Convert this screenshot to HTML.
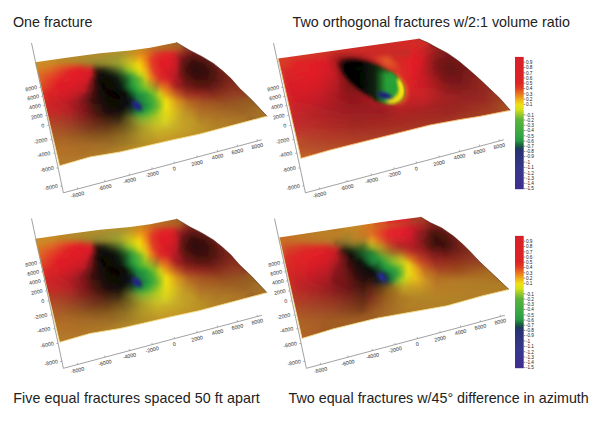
<!DOCTYPE html><html><head><meta charset="utf-8"><style>
html,body{margin:0;padding:0;background:#fff;width:600px;height:427px;overflow:hidden;position:relative}
.t{position:absolute;font-family:"Liberation Sans",sans-serif;font-size:14.3px;color:#222;white-space:nowrap;line-height:1}
</style></head><body>
<div class="t" style="left:13px;top:15px">One fracture</div>
<div class="t" style="left:292.5px;top:15px">Two orthogonal fractures w/2:1 volume ratio</div>
<div class="t" style="left:13.2px;top:391px;letter-spacing:0.07px">Five equal fractures spaced 50 ft apart</div>
<div class="t" style="left:288.5px;top:391px">Two equal fractures w/45° difference in azimuth</div>
<svg width="600" height="427" viewBox="0 0 600 427" style="position:absolute;left:0;top:0"><defs><filter id="bl" x="-5%" y="-5%" width="110%" height="110%"><feGaussianBlur stdDeviation="0 0.8"/></filter></defs><g id="s1"><defs><linearGradient id="g1" gradientUnits="userSpaceOnUse" x1="33" x2="269" y1="0" y2="0"><stop offset="0.002" stop-color="#c89126"/><stop offset="0.095" stop-color="#c38c28"/><stop offset="0.121" stop-color="#b97d28"/><stop offset="0.150" stop-color="#af8728"/><stop offset="0.218" stop-color="#aa842a"/><stop offset="0.244" stop-color="#a08c32"/><stop offset="0.320" stop-color="#a58c30"/><stop offset="0.341" stop-color="#a09632"/><stop offset="0.367" stop-color="#a09632"/><stop offset="0.383" stop-color="#b4962a"/><stop offset="0.396" stop-color="#b99628"/><stop offset="0.417" stop-color="#c28d23"/><stop offset="0.460" stop-color="#c38c23"/><stop offset="0.477" stop-color="#bf7f23"/><stop offset="0.498" stop-color="#bd7b23"/><stop offset="0.515" stop-color="#b96e23"/><stop offset="0.621" stop-color="#a86223"/><stop offset="0.629" stop-color="#a45b23"/><stop offset="0.642" stop-color="#984023"/><stop offset="0.672" stop-color="#953b23"/><stop offset="0.689" stop-color="#7d231c"/><stop offset="0.697" stop-color="#781e1b"/><stop offset="0.731" stop-color="#771e1b"/><stop offset="0.752" stop-color="#6e1c1b"/><stop offset="0.867" stop-color="#6e1c19"/><stop offset="0.900" stop-color="#78201b"/><stop offset="0.998" stop-color="#7a211b"/></linearGradient><linearGradient id="g2" gradientUnits="userSpaceOnUse" x1="33" x2="269" y1="0" y2="0"><stop offset="0.002" stop-color="#c89126"/><stop offset="0.095" stop-color="#c38c28"/><stop offset="0.121" stop-color="#b97d28"/><stop offset="0.150" stop-color="#af8728"/><stop offset="0.218" stop-color="#aa842a"/><stop offset="0.248" stop-color="#a08c32"/><stop offset="0.320" stop-color="#a58c30"/><stop offset="0.341" stop-color="#a09632"/><stop offset="0.367" stop-color="#a09632"/><stop offset="0.375" stop-color="#a49630"/><stop offset="0.388" stop-color="#b79629"/><stop offset="0.400" stop-color="#b99628"/><stop offset="0.422" stop-color="#c38c23"/><stop offset="0.460" stop-color="#c38c23"/><stop offset="0.477" stop-color="#bf7f23"/><stop offset="0.498" stop-color="#bd7b23"/><stop offset="0.515" stop-color="#b96e23"/><stop offset="0.621" stop-color="#a76123"/><stop offset="0.629" stop-color="#a35b23"/><stop offset="0.642" stop-color="#984023"/><stop offset="0.646" stop-color="#963d23"/><stop offset="0.672" stop-color="#933922"/><stop offset="0.684" stop-color="#7f251d"/><stop offset="0.693" stop-color="#791f1b"/><stop offset="0.722" stop-color="#771e1b"/><stop offset="0.752" stop-color="#6e1c1b"/><stop offset="0.862" stop-color="#6e1c19"/><stop offset="0.896" stop-color="#78201b"/><stop offset="0.998" stop-color="#7c221b"/></linearGradient><linearGradient id="g3" gradientUnits="userSpaceOnUse" x1="33" x2="269" y1="0" y2="0"><stop offset="0.002" stop-color="#c89126"/><stop offset="0.095" stop-color="#c38c28"/><stop offset="0.121" stop-color="#b97d28"/><stop offset="0.150" stop-color="#af8728"/><stop offset="0.222" stop-color="#aa842a"/><stop offset="0.248" stop-color="#a08c32"/><stop offset="0.320" stop-color="#a58c30"/><stop offset="0.337" stop-color="#a19632"/><stop offset="0.371" stop-color="#a19632"/><stop offset="0.388" stop-color="#b69629"/><stop offset="0.405" stop-color="#b99628"/><stop offset="0.426" stop-color="#c38c23"/><stop offset="0.460" stop-color="#c38c23"/><stop offset="0.477" stop-color="#bf7f23"/><stop offset="0.498" stop-color="#bd7b23"/><stop offset="0.515" stop-color="#b96f23"/><stop offset="0.625" stop-color="#a55e23"/><stop offset="0.629" stop-color="#a35a23"/><stop offset="0.642" stop-color="#984023"/><stop offset="0.667" stop-color="#943a22"/><stop offset="0.680" stop-color="#80261d"/><stop offset="0.689" stop-color="#791f1b"/><stop offset="0.718" stop-color="#771e1b"/><stop offset="0.744" stop-color="#6e1c1b"/><stop offset="0.854" stop-color="#6e1c19"/><stop offset="0.888" stop-color="#77201b"/><stop offset="0.998" stop-color="#7d231b"/></linearGradient><linearGradient id="g4" gradientUnits="userSpaceOnUse" x1="33" x2="269" y1="0" y2="0"><stop offset="0.002" stop-color="#c89126"/><stop offset="0.095" stop-color="#c38c28"/><stop offset="0.121" stop-color="#b97d28"/><stop offset="0.150" stop-color="#af8728"/><stop offset="0.218" stop-color="#aa842a"/><stop offset="0.248" stop-color="#a08c32"/><stop offset="0.316" stop-color="#a58c30"/><stop offset="0.337" stop-color="#a29732"/><stop offset="0.371" stop-color="#a19632"/><stop offset="0.388" stop-color="#b69629"/><stop offset="0.405" stop-color="#b99628"/><stop offset="0.430" stop-color="#c28c23"/><stop offset="0.460" stop-color="#c48b23"/><stop offset="0.515" stop-color="#bb7023"/><stop offset="0.587" stop-color="#b06323"/><stop offset="0.621" stop-color="#a55c23"/><stop offset="0.629" stop-color="#a15523"/><stop offset="0.642" stop-color="#983f23"/><stop offset="0.663" stop-color="#943a23"/><stop offset="0.684" stop-color="#791f1b"/><stop offset="0.710" stop-color="#771e1b"/><stop offset="0.735" stop-color="#6e1c1b"/><stop offset="0.845" stop-color="#6e1c19"/><stop offset="0.879" stop-color="#77201b"/><stop offset="0.998" stop-color="#7d231b"/></linearGradient><linearGradient id="g5" gradientUnits="userSpaceOnUse" x1="33" x2="269" y1="0" y2="0"><stop offset="0.002" stop-color="#c89126"/><stop offset="0.095" stop-color="#c38c28"/><stop offset="0.121" stop-color="#b97d28"/><stop offset="0.155" stop-color="#af8728"/><stop offset="0.218" stop-color="#aa842a"/><stop offset="0.252" stop-color="#a08c32"/><stop offset="0.316" stop-color="#a58c30"/><stop offset="0.337" stop-color="#a49932"/><stop offset="0.367" stop-color="#a29531"/><stop offset="0.375" stop-color="#a69530"/><stop offset="0.388" stop-color="#b79429"/><stop offset="0.400" stop-color="#b99428"/><stop offset="0.460" stop-color="#c88822"/><stop offset="0.515" stop-color="#c16824"/><stop offset="0.591" stop-color="#b85724"/><stop offset="0.608" stop-color="#b25524"/><stop offset="0.621" stop-color="#a75223"/><stop offset="0.642" stop-color="#963b23"/><stop offset="0.663" stop-color="#8e3521"/><stop offset="0.676" stop-color="#7d231c"/><stop offset="0.684" stop-color="#781e1b"/><stop offset="0.731" stop-color="#6e1c1b"/><stop offset="0.837" stop-color="#6e1c19"/><stop offset="0.871" stop-color="#77201b"/><stop offset="0.998" stop-color="#7d231b"/></linearGradient><linearGradient id="g6" gradientUnits="userSpaceOnUse" x1="33" x2="269" y1="0" y2="0"><stop offset="0.002" stop-color="#c89126"/><stop offset="0.095" stop-color="#c38c28"/><stop offset="0.121" stop-color="#b97d28"/><stop offset="0.138" stop-color="#b87e28"/><stop offset="0.155" stop-color="#af8728"/><stop offset="0.214" stop-color="#aa842a"/><stop offset="0.256" stop-color="#a08c32"/><stop offset="0.311" stop-color="#a78c2f"/><stop offset="0.337" stop-color="#a99730"/><stop offset="0.371" stop-color="#ac912d"/><stop offset="0.383" stop-color="#b59029"/><stop offset="0.409" stop-color="#b89028"/><stop offset="0.434" stop-color="#c48f23"/><stop offset="0.456" stop-color="#d0891f"/><stop offset="0.485" stop-color="#ce7521"/><stop offset="0.515" stop-color="#cb5925"/><stop offset="0.557" stop-color="#ca4626"/><stop offset="0.591" stop-color="#c74325"/><stop offset="0.604" stop-color="#bf4325"/><stop offset="0.621" stop-color="#a54423"/><stop offset="0.642" stop-color="#913221"/><stop offset="0.655" stop-color="#862e1e"/><stop offset="0.684" stop-color="#781e1b"/><stop offset="0.722" stop-color="#6e1c1b"/><stop offset="0.828" stop-color="#6e1c19"/><stop offset="0.862" stop-color="#77201b"/><stop offset="0.998" stop-color="#7f251b"/></linearGradient><linearGradient id="g7" gradientUnits="userSpaceOnUse" x1="33" x2="269" y1="0" y2="0"><stop offset="0.002" stop-color="#c89126"/><stop offset="0.095" stop-color="#c38c28"/><stop offset="0.121" stop-color="#b97d28"/><stop offset="0.138" stop-color="#b87e28"/><stop offset="0.155" stop-color="#af8728"/><stop offset="0.214" stop-color="#aa842a"/><stop offset="0.252" stop-color="#a48c30"/><stop offset="0.324" stop-color="#b28f2b"/><stop offset="0.379" stop-color="#ae912c"/><stop offset="0.400" stop-color="#b4942a"/><stop offset="0.426" stop-color="#c69223"/><stop offset="0.456" stop-color="#da8a1c"/><stop offset="0.485" stop-color="#d7711f"/><stop offset="0.519" stop-color="#d54827"/><stop offset="0.557" stop-color="#d73127"/><stop offset="0.583" stop-color="#d73027"/><stop offset="0.600" stop-color="#c93026"/><stop offset="0.621" stop-color="#a23423"/><stop offset="0.650" stop-color="#81261d"/><stop offset="0.663" stop-color="#77231a"/><stop offset="0.680" stop-color="#721d19"/><stop offset="0.739" stop-color="#6c1c1a"/><stop offset="0.824" stop-color="#6e1c19"/><stop offset="0.854" stop-color="#77201b"/><stop offset="0.977" stop-color="#7d231b"/><stop offset="0.998" stop-color="#852d1d"/></linearGradient><linearGradient id="g8" gradientUnits="userSpaceOnUse" x1="33" x2="269" y1="0" y2="0"><stop offset="0.002" stop-color="#c89126"/><stop offset="0.095" stop-color="#c38c28"/><stop offset="0.112" stop-color="#ba7f28"/><stop offset="0.125" stop-color="#b97d28"/><stop offset="0.155" stop-color="#b08728"/><stop offset="0.184" stop-color="#ac852a"/><stop offset="0.265" stop-color="#b18d2c"/><stop offset="0.362" stop-color="#a59430"/><stop offset="0.375" stop-color="#a8972f"/><stop offset="0.413" stop-color="#c29925"/><stop offset="0.451" stop-color="#df921a"/><stop offset="0.460" stop-color="#e28c19"/><stop offset="0.481" stop-color="#e0761b"/><stop offset="0.519" stop-color="#dc3d27"/><stop offset="0.553" stop-color="#df2628"/><stop offset="0.578" stop-color="#df2428"/><stop offset="0.587" stop-color="#dc2428"/><stop offset="0.595" stop-color="#d32427"/><stop offset="0.621" stop-color="#9e2623"/><stop offset="0.629" stop-color="#922321"/><stop offset="0.659" stop-color="#701c18"/><stop offset="0.676" stop-color="#671916"/><stop offset="0.718" stop-color="#6e1c1b"/><stop offset="0.739" stop-color="#611917"/><stop offset="0.756" stop-color="#6e1c19"/><stop offset="0.816" stop-color="#6e1c19"/><stop offset="0.845" stop-color="#77201b"/><stop offset="0.968" stop-color="#7d231b"/><stop offset="0.998" stop-color="#8a351f"/></linearGradient><linearGradient id="g9" gradientUnits="userSpaceOnUse" x1="33" x2="269" y1="0" y2="0"><stop offset="0.002" stop-color="#c89126"/><stop offset="0.049" stop-color="#c89126"/><stop offset="0.061" stop-color="#cb8a26"/><stop offset="0.078" stop-color="#c38c28"/><stop offset="0.095" stop-color="#c38c28"/><stop offset="0.112" stop-color="#bb8028"/><stop offset="0.125" stop-color="#b97e28"/><stop offset="0.167" stop-color="#b58a28"/><stop offset="0.231" stop-color="#b28c2b"/><stop offset="0.303" stop-color="#a58d2f"/><stop offset="0.358" stop-color="#a09731"/><stop offset="0.405" stop-color="#c0a425"/><stop offset="0.451" stop-color="#e59d18"/><stop offset="0.477" stop-color="#e77f18"/><stop offset="0.498" stop-color="#df5223"/><stop offset="0.515" stop-color="#de3927"/><stop offset="0.544" stop-color="#e02328"/><stop offset="0.574" stop-color="#e12128"/><stop offset="0.595" stop-color="#d32128"/><stop offset="0.629" stop-color="#8a1d1f"/><stop offset="0.663" stop-color="#611614"/><stop offset="0.684" stop-color="#5a1714"/><stop offset="0.722" stop-color="#6a1b19"/><stop offset="0.739" stop-color="#551613"/><stop offset="0.756" stop-color="#6d1c19"/><stop offset="0.811" stop-color="#6f1c19"/><stop offset="0.841" stop-color="#78201b"/><stop offset="0.960" stop-color="#7d231b"/><stop offset="0.985" stop-color="#8a341e"/><stop offset="0.998" stop-color="#8c371f"/></linearGradient><linearGradient id="g10" gradientUnits="userSpaceOnUse" x1="33" x2="269" y1="0" y2="0"><stop offset="0.002" stop-color="#c89126"/><stop offset="0.044" stop-color="#c89126"/><stop offset="0.061" stop-color="#d08524"/><stop offset="0.083" stop-color="#c38c28"/><stop offset="0.125" stop-color="#bb8528"/><stop offset="0.155" stop-color="#b78a29"/><stop offset="0.273" stop-color="#9f8b30"/><stop offset="0.358" stop-color="#9e9930"/><stop offset="0.405" stop-color="#c3ad24"/><stop offset="0.426" stop-color="#d1aa1e"/><stop offset="0.447" stop-color="#e6ab17"/><stop offset="0.456" stop-color="#eca715"/><stop offset="0.464" stop-color="#ec9b16"/><stop offset="0.481" stop-color="#e8781a"/><stop offset="0.502" stop-color="#e14425"/><stop offset="0.511" stop-color="#e03728"/><stop offset="0.540" stop-color="#e12128"/><stop offset="0.570" stop-color="#e11f28"/><stop offset="0.587" stop-color="#d91f28"/><stop offset="0.600" stop-color="#cd1f28"/><stop offset="0.608" stop-color="#bd1f26"/><stop offset="0.629" stop-color="#821a1c"/><stop offset="0.638" stop-color="#721818"/><stop offset="0.659" stop-color="#5a1412"/><stop offset="0.680" stop-color="#4d1311"/><stop offset="0.722" stop-color="#5f1816"/><stop offset="0.739" stop-color="#5c1814"/><stop offset="0.756" stop-color="#6d1c19"/><stop offset="0.803" stop-color="#6f1c19"/><stop offset="0.833" stop-color="#78201b"/><stop offset="0.951" stop-color="#7d231b"/><stop offset="0.977" stop-color="#8a341e"/><stop offset="0.998" stop-color="#8c371f"/></linearGradient><linearGradient id="g11" gradientUnits="userSpaceOnUse" x1="33" x2="269" y1="0" y2="0"><stop offset="0.002" stop-color="#c89126"/><stop offset="0.044" stop-color="#c99026"/><stop offset="0.061" stop-color="#cd8725"/><stop offset="0.087" stop-color="#c38c27"/><stop offset="0.201" stop-color="#ae822a"/><stop offset="0.273" stop-color="#9a8a2e"/><stop offset="0.311" stop-color="#9c8d2f"/><stop offset="0.354" stop-color="#9c9a2f"/><stop offset="0.405" stop-color="#c4b522"/><stop offset="0.426" stop-color="#d4b61b"/><stop offset="0.447" stop-color="#ebbb13"/><stop offset="0.456" stop-color="#efb313"/><stop offset="0.464" stop-color="#eea315"/><stop offset="0.502" stop-color="#e24326"/><stop offset="0.511" stop-color="#e13528"/><stop offset="0.540" stop-color="#e11f28"/><stop offset="0.570" stop-color="#e01e28"/><stop offset="0.591" stop-color="#d41e28"/><stop offset="0.604" stop-color="#c61e27"/><stop offset="0.612" stop-color="#b31d24"/><stop offset="0.633" stop-color="#721718"/><stop offset="0.642" stop-color="#611514"/><stop offset="0.672" stop-color="#46110f"/><stop offset="0.684" stop-color="#41110e"/><stop offset="0.718" stop-color="#4d1411"/><stop offset="0.765" stop-color="#6c1c19"/><stop offset="0.794" stop-color="#6f1c19"/><stop offset="0.820" stop-color="#77201b"/><stop offset="0.943" stop-color="#7d231b"/><stop offset="0.972" stop-color="#8b361f"/><stop offset="0.998" stop-color="#8c371f"/></linearGradient><linearGradient id="g12" gradientUnits="userSpaceOnUse" x1="33" x2="269" y1="0" y2="0"><stop offset="0.002" stop-color="#c99026"/><stop offset="0.061" stop-color="#cb8926"/><stop offset="0.087" stop-color="#c88726"/><stop offset="0.117" stop-color="#c47927"/><stop offset="0.189" stop-color="#bb7328"/><stop offset="0.244" stop-color="#a57d2b"/><stop offset="0.269" stop-color="#8f812c"/><stop offset="0.311" stop-color="#94892d"/><stop offset="0.358" stop-color="#999c2d"/><stop offset="0.388" stop-color="#aeae28"/><stop offset="0.409" stop-color="#c6bd1f"/><stop offset="0.443" stop-color="#ecca10"/><stop offset="0.451" stop-color="#f1c60f"/><stop offset="0.464" stop-color="#f1af12"/><stop offset="0.481" stop-color="#ec8619"/><stop offset="0.502" stop-color="#e34525"/><stop offset="0.511" stop-color="#e13628"/><stop offset="0.540" stop-color="#e11f28"/><stop offset="0.570" stop-color="#e01e28"/><stop offset="0.587" stop-color="#d71e28"/><stop offset="0.604" stop-color="#c61e27"/><stop offset="0.612" stop-color="#b11c24"/><stop offset="0.633" stop-color="#6e1616"/><stop offset="0.642" stop-color="#5b1412"/><stop offset="0.672" stop-color="#3f100d"/><stop offset="0.684" stop-color="#390f0c"/><stop offset="0.722" stop-color="#45120e"/><stop offset="0.769" stop-color="#6b1b18"/><stop offset="0.807" stop-color="#771f1b"/><stop offset="0.934" stop-color="#7d231b"/><stop offset="0.964" stop-color="#8b361f"/><stop offset="0.998" stop-color="#8c371f"/></linearGradient><linearGradient id="g13" gradientUnits="userSpaceOnUse" x1="33" x2="269" y1="0" y2="0"><stop offset="0.002" stop-color="#cc8d26"/><stop offset="0.078" stop-color="#d08125"/><stop offset="0.117" stop-color="#d36b25"/><stop offset="0.180" stop-color="#cd5b27"/><stop offset="0.201" stop-color="#c45828"/><stop offset="0.244" stop-color="#ad6629"/><stop offset="0.261" stop-color="#866927"/><stop offset="0.273" stop-color="#7c6e28"/><stop offset="0.311" stop-color="#807828"/><stop offset="0.350" stop-color="#878e2b"/><stop offset="0.371" stop-color="#939d2a"/><stop offset="0.405" stop-color="#b7bd21"/><stop offset="0.443" stop-color="#ecd30e"/><stop offset="0.451" stop-color="#f2cf0c"/><stop offset="0.464" stop-color="#f2b710"/><stop offset="0.481" stop-color="#ec8b18"/><stop offset="0.506" stop-color="#e23e27"/><stop offset="0.540" stop-color="#e11f28"/><stop offset="0.578" stop-color="#dd1e28"/><stop offset="0.600" stop-color="#ca1e28"/><stop offset="0.608" stop-color="#ba1d25"/><stop offset="0.633" stop-color="#6c1515"/><stop offset="0.642" stop-color="#581311"/><stop offset="0.672" stop-color="#3c0f0d"/><stop offset="0.684" stop-color="#360e0c"/><stop offset="0.727" stop-color="#41110d"/><stop offset="0.773" stop-color="#691b17"/><stop offset="0.799" stop-color="#761f1b"/><stop offset="0.926" stop-color="#7d231b"/><stop offset="0.956" stop-color="#8b361f"/><stop offset="0.998" stop-color="#8c371f"/></linearGradient><linearGradient id="g14" gradientUnits="userSpaceOnUse" x1="33" x2="269" y1="0" y2="0"><stop offset="0.002" stop-color="#cf8925"/><stop offset="0.028" stop-color="#d08825"/><stop offset="0.074" stop-color="#d57824"/><stop offset="0.125" stop-color="#dd5925"/><stop offset="0.189" stop-color="#d83e27"/><stop offset="0.201" stop-color="#d23d28"/><stop offset="0.239" stop-color="#be4a28"/><stop offset="0.248" stop-color="#ac4926"/><stop offset="0.261" stop-color="#7c4c22"/><stop offset="0.269" stop-color="#664f21"/><stop offset="0.278" stop-color="#5f501f"/><stop offset="0.303" stop-color="#5d581f"/><stop offset="0.345" stop-color="#6c7727"/><stop offset="0.375" stop-color="#809529"/><stop offset="0.400" stop-color="#a2ba25"/><stop offset="0.430" stop-color="#d4d015"/><stop offset="0.447" stop-color="#ebd60d"/><stop offset="0.456" stop-color="#f1ce0d"/><stop offset="0.477" stop-color="#ec9e16"/><stop offset="0.485" stop-color="#e9871b"/><stop offset="0.502" stop-color="#e34e25"/><stop offset="0.511" stop-color="#e13a28"/><stop offset="0.544" stop-color="#e01f28"/><stop offset="0.574" stop-color="#dc1e28"/><stop offset="0.600" stop-color="#c81e28"/><stop offset="0.608" stop-color="#b81d25"/><stop offset="0.633" stop-color="#691515"/><stop offset="0.642" stop-color="#551311"/><stop offset="0.672" stop-color="#3a0f0c"/><stop offset="0.684" stop-color="#330e0b"/><stop offset="0.731" stop-color="#3e100c"/><stop offset="0.799" stop-color="#77201b"/><stop offset="0.917" stop-color="#7d231b"/><stop offset="0.947" stop-color="#8b361f"/><stop offset="0.998" stop-color="#8c371f"/></linearGradient><linearGradient id="g15" gradientUnits="userSpaceOnUse" x1="33" x2="269" y1="0" y2="0"><stop offset="0.002" stop-color="#d58024"/><stop offset="0.032" stop-color="#d57f24"/><stop offset="0.074" stop-color="#da6d25"/><stop offset="0.121" stop-color="#e14c26"/><stop offset="0.167" stop-color="#e02d27"/><stop offset="0.197" stop-color="#dd2828"/><stop offset="0.235" stop-color="#d03028"/><stop offset="0.244" stop-color="#c43026"/><stop offset="0.265" stop-color="#622e19"/><stop offset="0.273" stop-color="#472e16"/><stop offset="0.282" stop-color="#3d3115"/><stop offset="0.299" stop-color="#3a3816"/><stop offset="0.341" stop-color="#4f5e22"/><stop offset="0.371" stop-color="#658329"/><stop offset="0.396" stop-color="#8ab128"/><stop offset="0.409" stop-color="#9ec024"/><stop offset="0.443" stop-color="#ded711"/><stop offset="0.451" stop-color="#ead50e"/><stop offset="0.460" stop-color="#efcb0f"/><stop offset="0.481" stop-color="#eaa317"/><stop offset="0.502" stop-color="#e35724"/><stop offset="0.511" stop-color="#e13f27"/><stop offset="0.523" stop-color="#e12f28"/><stop offset="0.544" stop-color="#df2128"/><stop offset="0.566" stop-color="#dc1e28"/><stop offset="0.600" stop-color="#c41e28"/><stop offset="0.608" stop-color="#b51d25"/><stop offset="0.633" stop-color="#671414"/><stop offset="0.642" stop-color="#531210"/><stop offset="0.684" stop-color="#310d0b"/><stop offset="0.731" stop-color="#3a100b"/><stop offset="0.761" stop-color="#4f140f"/><stop offset="0.790" stop-color="#6f1d18"/><stop offset="0.803" stop-color="#77201b"/><stop offset="0.909" stop-color="#7d231b"/><stop offset="0.939" stop-color="#8b361f"/><stop offset="0.998" stop-color="#8c371f"/></linearGradient><linearGradient id="g16" gradientUnits="userSpaceOnUse" x1="33" x2="269" y1="0" y2="0"><stop offset="0.002" stop-color="#d87823"/><stop offset="0.032" stop-color="#d97623"/><stop offset="0.078" stop-color="#de6026"/><stop offset="0.163" stop-color="#e12228"/><stop offset="0.197" stop-color="#e01f28"/><stop offset="0.235" stop-color="#d82128"/><stop offset="0.244" stop-color="#cb2126"/><stop offset="0.248" stop-color="#b92123"/><stop offset="0.265" stop-color="#591b14"/><stop offset="0.273" stop-color="#371a0f"/><stop offset="0.282" stop-color="#281c0e"/><stop offset="0.294" stop-color="#23210f"/><stop offset="0.307" stop-color="#252811"/><stop offset="0.341" stop-color="#3a491c"/><stop offset="0.375" stop-color="#537a28"/><stop offset="0.405" stop-color="#7fb328"/><stop offset="0.422" stop-color="#9ec422"/><stop offset="0.447" stop-color="#d6d514"/><stop offset="0.460" stop-color="#e3cd14"/><stop offset="0.477" stop-color="#eab117"/><stop offset="0.485" stop-color="#ea9a1a"/><stop offset="0.506" stop-color="#e35125"/><stop offset="0.515" stop-color="#e13c27"/><stop offset="0.553" stop-color="#dd1f28"/><stop offset="0.600" stop-color="#c11e28"/><stop offset="0.608" stop-color="#b21d25"/><stop offset="0.633" stop-color="#661414"/><stop offset="0.642" stop-color="#541210"/><stop offset="0.684" stop-color="#310d0b"/><stop offset="0.731" stop-color="#380f0b"/><stop offset="0.765" stop-color="#50140f"/><stop offset="0.794" stop-color="#701e18"/><stop offset="0.807" stop-color="#77201b"/><stop offset="0.900" stop-color="#7d231b"/><stop offset="0.930" stop-color="#8b361f"/><stop offset="0.998" stop-color="#8c371f"/></linearGradient><linearGradient id="g17" gradientUnits="userSpaceOnUse" x1="33" x2="269" y1="0" y2="0"><stop offset="0.002" stop-color="#da7323"/><stop offset="0.028" stop-color="#da7124"/><stop offset="0.070" stop-color="#e05b26"/><stop offset="0.155" stop-color="#e12028"/><stop offset="0.197" stop-color="#e11e28"/><stop offset="0.235" stop-color="#d81f29"/><stop offset="0.244" stop-color="#cc1f26"/><stop offset="0.248" stop-color="#bb1e24"/><stop offset="0.265" stop-color="#561712"/><stop offset="0.273" stop-color="#31130c"/><stop offset="0.282" stop-color="#1e120b"/><stop offset="0.294" stop-color="#18160b"/><stop offset="0.311" stop-color="#1a1d0d"/><stop offset="0.345" stop-color="#2b3a17"/><stop offset="0.362" stop-color="#35511e"/><stop offset="0.379" stop-color="#427026"/><stop offset="0.405" stop-color="#60a22b"/><stop offset="0.417" stop-color="#72b32b"/><stop offset="0.426" stop-color="#85bb26"/><stop offset="0.443" stop-color="#b7ce1c"/><stop offset="0.451" stop-color="#c9d219"/><stop offset="0.464" stop-color="#daca18"/><stop offset="0.477" stop-color="#e8b418"/><stop offset="0.489" stop-color="#e8911c"/><stop offset="0.511" stop-color="#e34d25"/><stop offset="0.519" stop-color="#e13b27"/><stop offset="0.536" stop-color="#de2b28"/><stop offset="0.557" stop-color="#db1f28"/><stop offset="0.600" stop-color="#bf1d27"/><stop offset="0.608" stop-color="#af1c24"/><stop offset="0.629" stop-color="#721617"/><stop offset="0.642" stop-color="#581311"/><stop offset="0.667" stop-color="#400f0d"/><stop offset="0.689" stop-color="#340d0b"/><stop offset="0.731" stop-color="#390f0b"/><stop offset="0.769" stop-color="#521510"/><stop offset="0.799" stop-color="#701e18"/><stop offset="0.820" stop-color="#7a211b"/><stop offset="0.892" stop-color="#7e241b"/><stop offset="0.926" stop-color="#8c371f"/><stop offset="0.998" stop-color="#8c371f"/></linearGradient><linearGradient id="g18" gradientUnits="userSpaceOnUse" x1="33" x2="269" y1="0" y2="0"><stop offset="0.002" stop-color="#db6c26"/><stop offset="0.032" stop-color="#dc6925"/><stop offset="0.083" stop-color="#e24927"/><stop offset="0.146" stop-color="#e12028"/><stop offset="0.197" stop-color="#e11e28"/><stop offset="0.231" stop-color="#d81e2a"/><stop offset="0.239" stop-color="#cf1e28"/><stop offset="0.248" stop-color="#b51c23"/><stop offset="0.265" stop-color="#561512"/><stop offset="0.273" stop-color="#2e100c"/><stop offset="0.278" stop-color="#200e0a"/><stop offset="0.286" stop-color="#140c08"/><stop offset="0.294" stop-color="#110e08"/><stop offset="0.316" stop-color="#131409"/><stop offset="0.350" stop-color="#1d2b12"/><stop offset="0.379" stop-color="#2d5e22"/><stop offset="0.413" stop-color="#4b9e31"/><stop offset="0.426" stop-color="#64af2e"/><stop offset="0.447" stop-color="#a6ca21"/><stop offset="0.456" stop-color="#bace1d"/><stop offset="0.472" stop-color="#dbc718"/><stop offset="0.485" stop-color="#e6ad19"/><stop offset="0.506" stop-color="#e56422"/><stop offset="0.519" stop-color="#e24326"/><stop offset="0.536" stop-color="#dd2b28"/><stop offset="0.557" stop-color="#da2028"/><stop offset="0.578" stop-color="#d11e28"/><stop offset="0.595" stop-color="#c11d27"/><stop offset="0.604" stop-color="#b41c25"/><stop offset="0.625" stop-color="#80171a"/><stop offset="0.646" stop-color="#581310"/><stop offset="0.689" stop-color="#380e0b"/><stop offset="0.735" stop-color="#3c0f0c"/><stop offset="0.824" stop-color="#7c231b"/><stop offset="0.883" stop-color="#7f251c"/><stop offset="0.917" stop-color="#8c371f"/><stop offset="0.998" stop-color="#8c371f"/></linearGradient><linearGradient id="g19" gradientUnits="userSpaceOnUse" x1="33" x2="269" y1="0" y2="0"><stop offset="0.002" stop-color="#dc6528"/><stop offset="0.032" stop-color="#dd6327"/><stop offset="0.078" stop-color="#e34327"/><stop offset="0.138" stop-color="#e12028"/><stop offset="0.197" stop-color="#e01e28"/><stop offset="0.227" stop-color="#d71e29"/><stop offset="0.235" stop-color="#cd1d27"/><stop offset="0.244" stop-color="#b51b23"/><stop offset="0.269" stop-color="#3f100d"/><stop offset="0.278" stop-color="#1f0b09"/><stop offset="0.286" stop-color="#140907"/><stop offset="0.316" stop-color="#0d0d07"/><stop offset="0.354" stop-color="#15230f"/><stop offset="0.379" stop-color="#1f4e1f"/><stop offset="0.413" stop-color="#389232"/><stop offset="0.426" stop-color="#4aa634"/><stop offset="0.451" stop-color="#8bc027"/><stop offset="0.468" stop-color="#bcc51d"/><stop offset="0.477" stop-color="#d5c21a"/><stop offset="0.485" stop-color="#e2b219"/><stop offset="0.498" stop-color="#e68a1d"/><stop offset="0.511" stop-color="#e56321"/><stop offset="0.523" stop-color="#e04525"/><stop offset="0.540" stop-color="#dc2a28"/><stop offset="0.566" stop-color="#d82128"/><stop offset="0.583" stop-color="#cc1e27"/><stop offset="0.604" stop-color="#b21c25"/><stop offset="0.646" stop-color="#5d1411"/><stop offset="0.663" stop-color="#4d120e"/><stop offset="0.693" stop-color="#3c0f0c"/><stop offset="0.735" stop-color="#3e100c"/><stop offset="0.828" stop-color="#7d241b"/><stop offset="0.867" stop-color="#7f251c"/><stop offset="0.909" stop-color="#8c371f"/><stop offset="0.998" stop-color="#8c371f"/></linearGradient><linearGradient id="g20" gradientUnits="userSpaceOnUse" x1="33" x2="269" y1="0" y2="0"><stop offset="0.002" stop-color="#dc6428"/><stop offset="0.032" stop-color="#dd6027"/><stop offset="0.078" stop-color="#e33c28"/><stop offset="0.125" stop-color="#e12128"/><stop offset="0.189" stop-color="#e01e28"/><stop offset="0.222" stop-color="#d71e27"/><stop offset="0.231" stop-color="#ce1d26"/><stop offset="0.235" stop-color="#c41c24"/><stop offset="0.269" stop-color="#360e0c"/><stop offset="0.278" stop-color="#1b0a08"/><stop offset="0.286" stop-color="#120807"/><stop offset="0.320" stop-color="#0b0b06"/><stop offset="0.345" stop-color="#0e140a"/><stop offset="0.362" stop-color="#122611"/><stop offset="0.392" stop-color="#205a24"/><stop offset="0.417" stop-color="#329736"/><stop offset="0.426" stop-color="#3da337"/><stop offset="0.443" stop-color="#5cb031"/><stop offset="0.460" stop-color="#87bc28"/><stop offset="0.472" stop-color="#b7c11f"/><stop offset="0.481" stop-color="#cfba1c"/><stop offset="0.506" stop-color="#e07820"/><stop offset="0.532" stop-color="#d83e26"/><stop offset="0.544" stop-color="#dc3027"/><stop offset="0.574" stop-color="#d32427"/><stop offset="0.608" stop-color="#aa1c24"/><stop offset="0.650" stop-color="#5e1511"/><stop offset="0.693" stop-color="#42100d"/><stop offset="0.739" stop-color="#44110d"/><stop offset="0.828" stop-color="#7d241b"/><stop offset="0.854" stop-color="#80261c"/><stop offset="0.900" stop-color="#8c361f"/><stop offset="0.998" stop-color="#8c371f"/></linearGradient><linearGradient id="g21" gradientUnits="userSpaceOnUse" x1="33" x2="269" y1="0" y2="0"><stop offset="0.002" stop-color="#dc6328"/><stop offset="0.028" stop-color="#de5e27"/><stop offset="0.078" stop-color="#e33728"/><stop offset="0.117" stop-color="#e12128"/><stop offset="0.184" stop-color="#de1e28"/><stop offset="0.222" stop-color="#d31e26"/><stop offset="0.231" stop-color="#c91d25"/><stop offset="0.235" stop-color="#bd1b23"/><stop offset="0.265" stop-color="#3d0e0e"/><stop offset="0.273" stop-color="#1f0a09"/><stop offset="0.282" stop-color="#100706"/><stop offset="0.290" stop-color="#0b0706"/><stop offset="0.337" stop-color="#0a0d07"/><stop offset="0.358" stop-color="#0e1b0d"/><stop offset="0.388" stop-color="#19491f"/><stop offset="0.417" stop-color="#2c9637"/><stop offset="0.426" stop-color="#37a339"/><stop offset="0.451" stop-color="#64b631"/><stop offset="0.460" stop-color="#7bbc2c"/><stop offset="0.472" stop-color="#a6c322"/><stop offset="0.481" stop-color="#bcbd1f"/><stop offset="0.502" stop-color="#d08a20"/><stop offset="0.532" stop-color="#cf4c26"/><stop offset="0.549" stop-color="#dd3e25"/><stop offset="0.570" stop-color="#d83425"/><stop offset="0.587" stop-color="#c32126"/><stop offset="0.595" stop-color="#b81e25"/><stop offset="0.621" stop-color="#991b20"/><stop offset="0.650" stop-color="#661613"/><stop offset="0.697" stop-color="#49120e"/><stop offset="0.739" stop-color="#4a120e"/><stop offset="0.782" stop-color="#5f1913"/><stop offset="0.824" stop-color="#7c241b"/><stop offset="0.858" stop-color="#862c1e"/><stop offset="0.896" stop-color="#8c371f"/><stop offset="0.998" stop-color="#8c381f"/></linearGradient><linearGradient id="g22" gradientUnits="userSpaceOnUse" x1="33" x2="269" y1="0" y2="0"><stop offset="0.002" stop-color="#dd5d28"/><stop offset="0.036" stop-color="#df5227"/><stop offset="0.087" stop-color="#e22c28"/><stop offset="0.112" stop-color="#e01f28"/><stop offset="0.176" stop-color="#dd1e28"/><stop offset="0.218" stop-color="#ce1e26"/><stop offset="0.227" stop-color="#c61d25"/><stop offset="0.235" stop-color="#b01a21"/><stop offset="0.248" stop-color="#7c1419"/><stop offset="0.273" stop-color="#220a09"/><stop offset="0.282" stop-color="#100707"/><stop offset="0.294" stop-color="#070605"/><stop offset="0.345" stop-color="#0a0e07"/><stop offset="0.362" stop-color="#0d1b0d"/><stop offset="0.383" stop-color="#133b1b"/><stop offset="0.417" stop-color="#289538"/><stop offset="0.430" stop-color="#38a739"/><stop offset="0.451" stop-color="#5eb633"/><stop offset="0.472" stop-color="#96c425"/><stop offset="0.481" stop-color="#aabe22"/><stop offset="0.498" stop-color="#bd9822"/><stop offset="0.506" stop-color="#c48c22"/><stop offset="0.528" stop-color="#c36126"/><stop offset="0.540" stop-color="#d75623"/><stop offset="0.549" stop-color="#df4f23"/><stop offset="0.570" stop-color="#da4323"/><stop offset="0.591" stop-color="#bc2524"/><stop offset="0.604" stop-color="#ac1e24"/><stop offset="0.629" stop-color="#8e1a1e"/><stop offset="0.650" stop-color="#6d1716"/><stop offset="0.697" stop-color="#52130f"/><stop offset="0.739" stop-color="#51140f"/><stop offset="0.828" stop-color="#7f271c"/><stop offset="0.854" stop-color="#862e1e"/><stop offset="0.871" stop-color="#872e1e"/><stop offset="0.892" stop-color="#8c371f"/><stop offset="0.972" stop-color="#8c381f"/><stop offset="0.998" stop-color="#8f4320"/></linearGradient><linearGradient id="g23" gradientUnits="userSpaceOnUse" x1="33" x2="269" y1="0" y2="0"><stop offset="0.002" stop-color="#de5028"/><stop offset="0.036" stop-color="#de4d28"/><stop offset="0.104" stop-color="#e01f28"/><stop offset="0.172" stop-color="#db1e28"/><stop offset="0.214" stop-color="#ca1e26"/><stop offset="0.222" stop-color="#c01c24"/><stop offset="0.231" stop-color="#ac1a21"/><stop offset="0.265" stop-color="#410f0e"/><stop offset="0.278" stop-color="#1e0a09"/><stop offset="0.286" stop-color="#0e0707"/><stop offset="0.299" stop-color="#060605"/><stop offset="0.345" stop-color="#090d07"/><stop offset="0.367" stop-color="#0c1b0d"/><stop offset="0.383" stop-color="#123a1a"/><stop offset="0.417" stop-color="#259137"/><stop offset="0.430" stop-color="#33a53a"/><stop offset="0.443" stop-color="#47b037"/><stop offset="0.460" stop-color="#68ba30"/><stop offset="0.472" stop-color="#87c228"/><stop offset="0.477" stop-color="#92c126"/><stop offset="0.485" stop-color="#a0b524"/><stop offset="0.502" stop-color="#b29c23"/><stop offset="0.523" stop-color="#b67526"/><stop offset="0.540" stop-color="#d66b21"/><stop offset="0.553" stop-color="#e15d21"/><stop offset="0.570" stop-color="#db5222"/><stop offset="0.595" stop-color="#b62a23"/><stop offset="0.612" stop-color="#a11f22"/><stop offset="0.650" stop-color="#751918"/><stop offset="0.680" stop-color="#621711"/><stop offset="0.697" stop-color="#5b1510"/><stop offset="0.735" stop-color="#581510"/><stop offset="0.841" stop-color="#852c1d"/><stop offset="0.867" stop-color="#872e1e"/><stop offset="0.888" stop-color="#8c371f"/><stop offset="0.964" stop-color="#8c381f"/><stop offset="0.998" stop-color="#945722"/></linearGradient><linearGradient id="g24" gradientUnits="userSpaceOnUse" x1="33" x2="269" y1="0" y2="0"><stop offset="0.002" stop-color="#de4b28"/><stop offset="0.036" stop-color="#de4a28"/><stop offset="0.100" stop-color="#e01f28"/><stop offset="0.163" stop-color="#da1e28"/><stop offset="0.210" stop-color="#c81e26"/><stop offset="0.222" stop-color="#b71c24"/><stop offset="0.265" stop-color="#400f0d"/><stop offset="0.278" stop-color="#220b0a"/><stop offset="0.290" stop-color="#0d0707"/><stop offset="0.303" stop-color="#070605"/><stop offset="0.337" stop-color="#080906"/><stop offset="0.367" stop-color="#0b160b"/><stop offset="0.379" stop-color="#0f2d14"/><stop offset="0.409" stop-color="#1e7a30"/><stop offset="0.426" stop-color="#2b9938"/><stop offset="0.443" stop-color="#41ad38"/><stop offset="0.472" stop-color="#7abf2a"/><stop offset="0.481" stop-color="#8abd27"/><stop offset="0.498" stop-color="#9eab25"/><stop offset="0.523" stop-color="#ac8426"/><stop offset="0.540" stop-color="#d5801e"/><stop offset="0.549" stop-color="#e0741f"/><stop offset="0.557" stop-color="#e36b1f"/><stop offset="0.570" stop-color="#dc6120"/><stop offset="0.600" stop-color="#b23122"/><stop offset="0.608" stop-color="#a82822"/><stop offset="0.650" stop-color="#7d1d19"/><stop offset="0.693" stop-color="#671913"/><stop offset="0.744" stop-color="#621912"/><stop offset="0.841" stop-color="#872e1e"/><stop offset="0.883" stop-color="#8c371f"/><stop offset="0.947" stop-color="#8c381f"/><stop offset="0.960" stop-color="#8e3f20"/><stop offset="0.981" stop-color="#945922"/><stop offset="0.998" stop-color="#965f23"/></linearGradient><linearGradient id="g25" gradientUnits="userSpaceOnUse" x1="33" x2="269" y1="0" y2="0"><stop offset="0.002" stop-color="#de4b28"/><stop offset="0.040" stop-color="#dd4428"/><stop offset="0.091" stop-color="#df2028"/><stop offset="0.155" stop-color="#d81e28"/><stop offset="0.210" stop-color="#c61e27"/><stop offset="0.222" stop-color="#b41c24"/><stop offset="0.265" stop-color="#3c0f0c"/><stop offset="0.282" stop-color="#1c0a09"/><stop offset="0.299" stop-color="#0c0606"/><stop offset="0.333" stop-color="#070705"/><stop offset="0.371" stop-color="#0a150b"/><stop offset="0.383" stop-color="#0e2c13"/><stop offset="0.409" stop-color="#1b6e2c"/><stop offset="0.434" stop-color="#2d9d39"/><stop offset="0.443" stop-color="#37a839"/><stop offset="0.464" stop-color="#5db530"/><stop offset="0.481" stop-color="#76bb2b"/><stop offset="0.494" stop-color="#89b727"/><stop offset="0.519" stop-color="#9e9826"/><stop offset="0.540" stop-color="#d4951c"/><stop offset="0.557" stop-color="#e47d1d"/><stop offset="0.570" stop-color="#de701e"/><stop offset="0.600" stop-color="#b84021"/><stop offset="0.608" stop-color="#b03622"/><stop offset="0.650" stop-color="#86231b"/><stop offset="0.693" stop-color="#741e16"/><stop offset="0.748" stop-color="#6d1d16"/><stop offset="0.841" stop-color="#8b321f"/><stop offset="0.934" stop-color="#8c381f"/><stop offset="0.947" stop-color="#8e4020"/><stop offset="0.968" stop-color="#955a22"/><stop offset="0.998" stop-color="#976123"/></linearGradient><linearGradient id="g26" gradientUnits="userSpaceOnUse" x1="33" x2="269" y1="0" y2="0"><stop offset="0.002" stop-color="#dc4328"/><stop offset="0.049" stop-color="#dc3628"/><stop offset="0.087" stop-color="#dd2128"/><stop offset="0.146" stop-color="#d71e28"/><stop offset="0.210" stop-color="#c11d27"/><stop offset="0.222" stop-color="#ac1b24"/><stop offset="0.261" stop-color="#420f0d"/><stop offset="0.273" stop-color="#270c0a"/><stop offset="0.286" stop-color="#190a09"/><stop offset="0.303" stop-color="#0e0706"/><stop offset="0.337" stop-color="#060605"/><stop offset="0.367" stop-color="#070c07"/><stop offset="0.379" stop-color="#0a140a"/><stop offset="0.392" stop-color="#0f2c13"/><stop offset="0.417" stop-color="#1b6e2d"/><stop offset="0.439" stop-color="#279939"/><stop offset="0.451" stop-color="#39a637"/><stop offset="0.481" stop-color="#5cb430"/><stop offset="0.498" stop-color="#7cb929"/><stop offset="0.519" stop-color="#97a825"/><stop offset="0.540" stop-color="#d2aa1a"/><stop offset="0.557" stop-color="#e48f1b"/><stop offset="0.566" stop-color="#e3851c"/><stop offset="0.608" stop-color="#b84522"/><stop offset="0.655" stop-color="#8e281d"/><stop offset="0.701" stop-color="#82221b"/><stop offset="0.752" stop-color="#782219"/><stop offset="0.850" stop-color="#8f3821"/><stop offset="0.922" stop-color="#8c381f"/><stop offset="0.930" stop-color="#8e3d20"/><stop offset="0.956" stop-color="#955a23"/><stop offset="0.998" stop-color="#9b6625"/></linearGradient><linearGradient id="g27" gradientUnits="userSpaceOnUse" x1="33" x2="269" y1="0" y2="0"><stop offset="0.002" stop-color="#d93028"/><stop offset="0.028" stop-color="#d82a28"/><stop offset="0.049" stop-color="#d93128"/><stop offset="0.074" stop-color="#dc2328"/><stop offset="0.129" stop-color="#d71e28"/><stop offset="0.189" stop-color="#c11e26"/><stop offset="0.214" stop-color="#a91b24"/><stop offset="0.261" stop-color="#3e0f0d"/><stop offset="0.278" stop-color="#220c0a"/><stop offset="0.307" stop-color="#0e0706"/><stop offset="0.341" stop-color="#060505"/><stop offset="0.375" stop-color="#070906"/><stop offset="0.388" stop-color="#0a1108"/><stop offset="0.396" stop-color="#0d220f"/><stop offset="0.417" stop-color="#165d28"/><stop offset="0.443" stop-color="#21943a"/><stop offset="0.451" stop-color="#299c3a"/><stop offset="0.477" stop-color="#3ba737"/><stop offset="0.502" stop-color="#6db82b"/><stop offset="0.515" stop-color="#85b726"/><stop offset="0.536" stop-color="#c7c019"/><stop offset="0.544" stop-color="#d7b817"/><stop offset="0.561" stop-color="#e69b1a"/><stop offset="0.604" stop-color="#c55822"/><stop offset="0.642" stop-color="#a13620"/><stop offset="0.659" stop-color="#972e1f"/><stop offset="0.706" stop-color="#8e271e"/><stop offset="0.756" stop-color="#82271c"/><stop offset="0.854" stop-color="#933d22"/><stop offset="0.909" stop-color="#8d3a1f"/><stop offset="0.943" stop-color="#955c23"/><stop offset="0.977" stop-color="#976023"/><stop offset="0.998" stop-color="#a16e27"/></linearGradient><linearGradient id="g28" gradientUnits="userSpaceOnUse" x1="33" x2="269" y1="0" y2="0"><stop offset="0.002" stop-color="#d72828"/><stop offset="0.032" stop-color="#d72928"/><stop offset="0.044" stop-color="#d73228"/><stop offset="0.070" stop-color="#da2328"/><stop offset="0.125" stop-color="#d51e28"/><stop offset="0.176" stop-color="#c21e26"/><stop offset="0.189" stop-color="#b71d25"/><stop offset="0.214" stop-color="#961921"/><stop offset="0.252" stop-color="#4c110f"/><stop offset="0.282" stop-color="#1f0d0a"/><stop offset="0.311" stop-color="#0d0705"/><stop offset="0.354" stop-color="#060505"/><stop offset="0.379" stop-color="#070805"/><stop offset="0.392" stop-color="#0a0f08"/><stop offset="0.443" stop-color="#1b893b"/><stop offset="0.481" stop-color="#30a23a"/><stop offset="0.494" stop-color="#47ac34"/><stop offset="0.511" stop-color="#6eb92b"/><stop offset="0.536" stop-color="#c0ca19"/><stop offset="0.549" stop-color="#d9be17"/><stop offset="0.566" stop-color="#e7a518"/><stop offset="0.608" stop-color="#c86321"/><stop offset="0.646" stop-color="#a63e21"/><stop offset="0.710" stop-color="#972f21"/><stop offset="0.761" stop-color="#8a2e1e"/><stop offset="0.858" stop-color="#944222"/><stop offset="0.900" stop-color="#8f4120"/><stop offset="0.930" stop-color="#955c23"/><stop offset="0.968" stop-color="#976023"/><stop offset="0.998" stop-color="#a57228"/></linearGradient><linearGradient id="g29" gradientUnits="userSpaceOnUse" x1="33" x2="269" y1="0" y2="0"><stop offset="0.002" stop-color="#d72828"/><stop offset="0.028" stop-color="#d72828"/><stop offset="0.044" stop-color="#d83128"/><stop offset="0.074" stop-color="#d62228"/><stop offset="0.133" stop-color="#ce1e27"/><stop offset="0.167" stop-color="#bf1e26"/><stop offset="0.184" stop-color="#b21d24"/><stop offset="0.214" stop-color="#8d181f"/><stop offset="0.252" stop-color="#47110e"/><stop offset="0.282" stop-color="#210e0a"/><stop offset="0.316" stop-color="#0d0705"/><stop offset="0.362" stop-color="#060505"/><stop offset="0.392" stop-color="#0a0d0a"/><stop offset="0.422" stop-color="#134326"/><stop offset="0.434" stop-color="#196b37"/><stop offset="0.443" stop-color="#1b7f3e"/><stop offset="0.460" stop-color="#228e40"/><stop offset="0.485" stop-color="#31a33a"/><stop offset="0.498" stop-color="#44ab35"/><stop offset="0.511" stop-color="#61b52e"/><stop offset="0.540" stop-color="#c2cc19"/><stop offset="0.557" stop-color="#e1be17"/><stop offset="0.566" stop-color="#eab816"/><stop offset="0.608" stop-color="#ce7420"/><stop offset="0.646" stop-color="#ae4d21"/><stop offset="0.659" stop-color="#a74522"/><stop offset="0.714" stop-color="#9b3921"/><stop offset="0.773" stop-color="#8e371f"/><stop offset="0.858" stop-color="#954721"/><stop offset="0.896" stop-color="#914a21"/><stop offset="0.922" stop-color="#965e23"/><stop offset="0.960" stop-color="#976023"/><stop offset="0.985" stop-color="#a47228"/><stop offset="0.998" stop-color="#a57328"/></linearGradient><linearGradient id="g30" gradientUnits="userSpaceOnUse" x1="33" x2="269" y1="0" y2="0"><stop offset="0.002" stop-color="#d62728"/><stop offset="0.028" stop-color="#d32728"/><stop offset="0.049" stop-color="#d33028"/><stop offset="0.074" stop-color="#d32228"/><stop offset="0.133" stop-color="#c91e27"/><stop offset="0.155" stop-color="#bf1e26"/><stop offset="0.180" stop-color="#ae1d24"/><stop offset="0.210" stop-color="#8b171f"/><stop offset="0.252" stop-color="#42100d"/><stop offset="0.282" stop-color="#220f0a"/><stop offset="0.316" stop-color="#0e0805"/><stop offset="0.362" stop-color="#070605"/><stop offset="0.388" stop-color="#090a0a"/><stop offset="0.413" stop-color="#10231f"/><stop offset="0.426" stop-color="#153b2e"/><stop offset="0.439" stop-color="#1b673d"/><stop offset="0.447" stop-color="#1e7b43"/><stop offset="0.477" stop-color="#289c3d"/><stop offset="0.489" stop-color="#34a439"/><stop offset="0.511" stop-color="#56b131"/><stop offset="0.544" stop-color="#c4cd1a"/><stop offset="0.557" stop-color="#e1cd15"/><stop offset="0.566" stop-color="#edca13"/><stop offset="0.612" stop-color="#d0801f"/><stop offset="0.650" stop-color="#b25a21"/><stop offset="0.663" stop-color="#ac5122"/><stop offset="0.718" stop-color="#9f4421"/><stop offset="0.782" stop-color="#93411f"/><stop offset="0.879" stop-color="#934e20"/><stop offset="0.905" stop-color="#945322"/><stop offset="0.926" stop-color="#965e23"/><stop offset="0.951" stop-color="#976023"/><stop offset="0.981" stop-color="#a47227"/><stop offset="0.998" stop-color="#a57328"/></linearGradient><linearGradient id="g31" gradientUnits="userSpaceOnUse" x1="33" x2="269" y1="0" y2="0"><stop offset="0.002" stop-color="#d12528"/><stop offset="0.036" stop-color="#ce2528"/><stop offset="0.049" stop-color="#ce2d28"/><stop offset="0.070" stop-color="#d22328"/><stop offset="0.142" stop-color="#c01e26"/><stop offset="0.189" stop-color="#9d1b22"/><stop offset="0.218" stop-color="#79151b"/><stop offset="0.248" stop-color="#46100e"/><stop offset="0.261" stop-color="#360f0c"/><stop offset="0.311" stop-color="#120a06"/><stop offset="0.362" stop-color="#080705"/><stop offset="0.388" stop-color="#0a0a0b"/><stop offset="0.405" stop-color="#0e1317"/><stop offset="0.413" stop-color="#111d25"/><stop offset="0.422" stop-color="#182945"/><stop offset="0.426" stop-color="#1a2e4f"/><stop offset="0.430" stop-color="#1b3451"/><stop offset="0.447" stop-color="#1e6a49"/><stop offset="0.456" stop-color="#207e45"/><stop offset="0.477" stop-color="#27983e"/><stop offset="0.494" stop-color="#36a539"/><stop offset="0.506" stop-color="#46ab35"/><stop offset="0.515" stop-color="#58b131"/><stop offset="0.553" stop-color="#d6d416"/><stop offset="0.561" stop-color="#ead712"/><stop offset="0.566" stop-color="#eed511"/><stop offset="0.574" stop-color="#edcb13"/><stop offset="0.612" stop-color="#d5901e"/><stop offset="0.655" stop-color="#b76522"/><stop offset="0.667" stop-color="#b15d23"/><stop offset="0.722" stop-color="#a24e21"/><stop offset="0.790" stop-color="#97491f"/><stop offset="0.841" stop-color="#954f20"/><stop offset="0.943" stop-color="#976023"/><stop offset="0.977" stop-color="#a37127"/><stop offset="0.998" stop-color="#a57328"/></linearGradient><linearGradient id="g32" gradientUnits="userSpaceOnUse" x1="33" x2="269" y1="0" y2="0"><stop offset="0.002" stop-color="#ce2328"/><stop offset="0.036" stop-color="#cd2328"/><stop offset="0.053" stop-color="#cd2928"/><stop offset="0.070" stop-color="#d02328"/><stop offset="0.138" stop-color="#bf1f26"/><stop offset="0.184" stop-color="#9e1c22"/><stop offset="0.218" stop-color="#79151a"/><stop offset="0.256" stop-color="#3e110d"/><stop offset="0.286" stop-color="#24110a"/><stop offset="0.324" stop-color="#100a05"/><stop offset="0.362" stop-color="#0a0805"/><stop offset="0.388" stop-color="#0c0b0b"/><stop offset="0.405" stop-color="#0f131a"/><stop offset="0.413" stop-color="#131e2b"/><stop offset="0.426" stop-color="#1f2774"/><stop offset="0.430" stop-color="#21277e"/><stop offset="0.434" stop-color="#21287e"/><stop offset="0.443" stop-color="#1f356b"/><stop offset="0.451" stop-color="#1f5952"/><stop offset="0.460" stop-color="#207846"/><stop offset="0.485" stop-color="#299b3d"/><stop offset="0.502" stop-color="#3ba737"/><stop offset="0.519" stop-color="#5db330"/><stop offset="0.532" stop-color="#85bf28"/><stop offset="0.553" stop-color="#d2d616"/><stop offset="0.561" stop-color="#e8da12"/><stop offset="0.566" stop-color="#edd911"/><stop offset="0.574" stop-color="#eccf12"/><stop offset="0.612" stop-color="#d79a1e"/><stop offset="0.659" stop-color="#b86c23"/><stop offset="0.722" stop-color="#a55622"/><stop offset="0.816" stop-color="#985120"/><stop offset="0.934" stop-color="#975f23"/><stop offset="0.960" stop-color="#a06d26"/><stop offset="0.998" stop-color="#a57328"/></linearGradient><linearGradient id="g33" gradientUnits="userSpaceOnUse" x1="33" x2="269" y1="0" y2="0"><stop offset="0.002" stop-color="#cd2328"/><stop offset="0.040" stop-color="#cd2428"/><stop offset="0.053" stop-color="#cb2b28"/><stop offset="0.074" stop-color="#ce2428"/><stop offset="0.142" stop-color="#bc2026"/><stop offset="0.180" stop-color="#a11d23"/><stop offset="0.218" stop-color="#7e161a"/><stop offset="0.256" stop-color="#45140e"/><stop offset="0.286" stop-color="#27120a"/><stop offset="0.324" stop-color="#120b06"/><stop offset="0.362" stop-color="#0c0905"/><stop offset="0.392" stop-color="#0e0f0d"/><stop offset="0.409" stop-color="#121922"/><stop offset="0.417" stop-color="#162538"/><stop offset="0.426" stop-color="#1f2773"/><stop offset="0.430" stop-color="#222486"/><stop offset="0.434" stop-color="#232489"/><stop offset="0.443" stop-color="#232588"/><stop offset="0.447" stop-color="#22297e"/><stop offset="0.451" stop-color="#20376c"/><stop offset="0.456" stop-color="#1f4e57"/><stop offset="0.460" stop-color="#1f644b"/><stop offset="0.468" stop-color="#217e43"/><stop offset="0.489" stop-color="#299b3d"/><stop offset="0.498" stop-color="#32a33a"/><stop offset="0.515" stop-color="#52af33"/><stop offset="0.528" stop-color="#71b92c"/><stop offset="0.553" stop-color="#ccd518"/><stop offset="0.561" stop-color="#e5db12"/><stop offset="0.566" stop-color="#ebda11"/><stop offset="0.574" stop-color="#ebd213"/><stop offset="0.612" stop-color="#d79f1f"/><stop offset="0.655" stop-color="#bb7624"/><stop offset="0.680" stop-color="#b26724"/><stop offset="0.718" stop-color="#a85c23"/><stop offset="0.820" stop-color="#9a5620"/><stop offset="0.909" stop-color="#986023"/><stop offset="0.934" stop-color="#9a6224"/><stop offset="0.951" stop-color="#9f6d26"/><stop offset="0.977" stop-color="#a47228"/><stop offset="0.998" stop-color="#a57328"/></linearGradient><linearGradient id="g34" gradientUnits="userSpaceOnUse" x1="33" x2="269" y1="0" y2="0"><stop offset="0.002" stop-color="#cd2328"/><stop offset="0.040" stop-color="#cc2528"/><stop offset="0.053" stop-color="#c92b28"/><stop offset="0.083" stop-color="#cb2528"/><stop offset="0.146" stop-color="#b92126"/><stop offset="0.218" stop-color="#80171a"/><stop offset="0.235" stop-color="#651511"/><stop offset="0.286" stop-color="#2a130a"/><stop offset="0.324" stop-color="#150c06"/><stop offset="0.367" stop-color="#0e0b06"/><stop offset="0.392" stop-color="#12140e"/><stop offset="0.417" stop-color="#182930"/><stop offset="0.422" stop-color="#192e3b"/><stop offset="0.430" stop-color="#1f2b6d"/><stop offset="0.434" stop-color="#222780"/><stop offset="0.443" stop-color="#232489"/><stop offset="0.447" stop-color="#222587"/><stop offset="0.451" stop-color="#212b7c"/><stop offset="0.456" stop-color="#203c67"/><stop offset="0.460" stop-color="#1f5551"/><stop offset="0.464" stop-color="#206c46"/><stop offset="0.472" stop-color="#248542"/><stop offset="0.489" stop-color="#2b9c3d"/><stop offset="0.498" stop-color="#36a439"/><stop offset="0.528" stop-color="#74ba2c"/><stop offset="0.553" stop-color="#ccd518"/><stop offset="0.561" stop-color="#e4db13"/><stop offset="0.566" stop-color="#eadb12"/><stop offset="0.574" stop-color="#ead414"/><stop offset="0.612" stop-color="#d6a421"/><stop offset="0.650" stop-color="#be8025"/><stop offset="0.684" stop-color="#b26b25"/><stop offset="0.714" stop-color="#aa6224"/><stop offset="0.816" stop-color="#9d5a21"/><stop offset="0.879" stop-color="#995d22"/><stop offset="0.922" stop-color="#9a6424"/><stop offset="0.977" stop-color="#a57328"/><stop offset="0.998" stop-color="#a57328"/></linearGradient><linearGradient id="g35" gradientUnits="userSpaceOnUse" x1="33" x2="269" y1="0" y2="0"><stop offset="0.002" stop-color="#cb2528"/><stop offset="0.057" stop-color="#c82b28"/><stop offset="0.095" stop-color="#c82628"/><stop offset="0.150" stop-color="#b62226"/><stop offset="0.214" stop-color="#83181b"/><stop offset="0.261" stop-color="#49150f"/><stop offset="0.290" stop-color="#2b120b"/><stop offset="0.324" stop-color="#180c07"/><stop offset="0.367" stop-color="#110d07"/><stop offset="0.379" stop-color="#13110a"/><stop offset="0.392" stop-color="#191d10"/><stop offset="0.422" stop-color="#1d3d30"/><stop offset="0.430" stop-color="#1c4442"/><stop offset="0.439" stop-color="#1f3866"/><stop offset="0.443" stop-color="#203371"/><stop offset="0.447" stop-color="#213274"/><stop offset="0.451" stop-color="#20376f"/><stop offset="0.456" stop-color="#204362"/><stop offset="0.464" stop-color="#227044"/><stop offset="0.472" stop-color="#288c40"/><stop offset="0.485" stop-color="#2f9e3c"/><stop offset="0.498" stop-color="#40a937"/><stop offset="0.528" stop-color="#80be2a"/><stop offset="0.553" stop-color="#d1d619"/><stop offset="0.561" stop-color="#e5db14"/><stop offset="0.574" stop-color="#e8d415"/><stop offset="0.612" stop-color="#d5a822"/><stop offset="0.646" stop-color="#c08926"/><stop offset="0.710" stop-color="#ad6725"/><stop offset="0.824" stop-color="#9e5e22"/><stop offset="0.888" stop-color="#9a6023"/><stop offset="0.972" stop-color="#a47228"/><stop offset="0.998" stop-color="#a57328"/></linearGradient><linearGradient id="g36" gradientUnits="userSpaceOnUse" x1="33" x2="269" y1="0" y2="0"><stop offset="0.002" stop-color="#c92728"/><stop offset="0.057" stop-color="#c72c28"/><stop offset="0.108" stop-color="#c42828"/><stop offset="0.159" stop-color="#b12326"/><stop offset="0.214" stop-color="#83191b"/><stop offset="0.269" stop-color="#43140e"/><stop offset="0.299" stop-color="#2a100a"/><stop offset="0.320" stop-color="#1d0d08"/><stop offset="0.362" stop-color="#150f08"/><stop offset="0.375" stop-color="#17140a"/><stop offset="0.396" stop-color="#242d16"/><stop offset="0.409" stop-color="#263b22"/><stop offset="0.434" stop-color="#216439"/><stop offset="0.447" stop-color="#20634a"/><stop offset="0.456" stop-color="#226948"/><stop offset="0.472" stop-color="#2e973d"/><stop offset="0.481" stop-color="#35a13c"/><stop offset="0.494" stop-color="#47ab37"/><stop offset="0.515" stop-color="#6fb92d"/><stop offset="0.553" stop-color="#d4d61a"/><stop offset="0.561" stop-color="#e4d916"/><stop offset="0.574" stop-color="#e6d317"/><stop offset="0.642" stop-color="#c39227"/><stop offset="0.710" stop-color="#ae6c26"/><stop offset="0.896" stop-color="#9b6324"/><stop offset="0.972" stop-color="#a57228"/><stop offset="0.998" stop-color="#a57328"/></linearGradient><linearGradient id="g37" gradientUnits="userSpaceOnUse" x1="33" x2="269" y1="0" y2="0"><stop offset="0.002" stop-color="#c82828"/><stop offset="0.112" stop-color="#c02b28"/><stop offset="0.159" stop-color="#af2626"/><stop offset="0.222" stop-color="#7c1b1a"/><stop offset="0.269" stop-color="#49160f"/><stop offset="0.303" stop-color="#2e110b"/><stop offset="0.320" stop-color="#241009"/><stop offset="0.362" stop-color="#1b130a"/><stop offset="0.375" stop-color="#211d0d"/><stop offset="0.392" stop-color="#2e3415"/><stop offset="0.413" stop-color="#334e24"/><stop offset="0.443" stop-color="#308739"/><stop offset="0.460" stop-color="#35923b"/><stop offset="0.481" stop-color="#46a938"/><stop offset="0.515" stop-color="#7ebc2b"/><stop offset="0.540" stop-color="#bcce20"/><stop offset="0.561" stop-color="#e1d817"/><stop offset="0.574" stop-color="#e4d119"/><stop offset="0.638" stop-color="#c49928"/><stop offset="0.710" stop-color="#b07126"/><stop offset="0.892" stop-color="#9e6624"/><stop offset="0.998" stop-color="#a57328"/></linearGradient><linearGradient id="g38" gradientUnits="userSpaceOnUse" x1="33" x2="269" y1="0" y2="0"><stop offset="0.002" stop-color="#c52d28"/><stop offset="0.049" stop-color="#c42d28"/><stop offset="0.112" stop-color="#bb2f28"/><stop offset="0.159" stop-color="#ac2926"/><stop offset="0.231" stop-color="#781d19"/><stop offset="0.269" stop-color="#501911"/><stop offset="0.303" stop-color="#36150c"/><stop offset="0.320" stop-color="#2d150b"/><stop offset="0.362" stop-color="#251a0c"/><stop offset="0.375" stop-color="#2d250f"/><stop offset="0.392" stop-color="#3e3e17"/><stop offset="0.417" stop-color="#4a6227"/><stop offset="0.447" stop-color="#4b9736"/><stop offset="0.481" stop-color="#5fae34"/><stop offset="0.515" stop-color="#90c028"/><stop offset="0.536" stop-color="#bdcd20"/><stop offset="0.561" stop-color="#dfd619"/><stop offset="0.574" stop-color="#e1d01a"/><stop offset="0.633" stop-color="#c59d28"/><stop offset="0.663" stop-color="#be9128"/><stop offset="0.710" stop-color="#b17627"/><stop offset="0.867" stop-color="#a36a25"/><stop offset="0.998" stop-color="#a57328"/></linearGradient><linearGradient id="g39" gradientUnits="userSpaceOnUse" x1="33" x2="269" y1="0" y2="0"><stop offset="0.002" stop-color="#bc3728"/><stop offset="0.074" stop-color="#bc3528"/><stop offset="0.155" stop-color="#aa2e26"/><stop offset="0.239" stop-color="#742018"/><stop offset="0.273" stop-color="#541c11"/><stop offset="0.307" stop-color="#3d1a0d"/><stop offset="0.362" stop-color="#2f220e"/><stop offset="0.375" stop-color="#382d12"/><stop offset="0.392" stop-color="#4d471a"/><stop offset="0.417" stop-color="#616d26"/><stop offset="0.439" stop-color="#65902f"/><stop offset="0.456" stop-color="#6aa533"/><stop offset="0.485" stop-color="#7db52f"/><stop offset="0.532" stop-color="#bccb21"/><stop offset="0.557" stop-color="#d9d41b"/><stop offset="0.570" stop-color="#dfd21b"/><stop offset="0.633" stop-color="#c59e28"/><stop offset="0.667" stop-color="#be9528"/><stop offset="0.710" stop-color="#b37a27"/><stop offset="0.778" stop-color="#aa7226"/><stop offset="0.900" stop-color="#a56e27"/><stop offset="0.926" stop-color="#9f6925"/><stop offset="0.964" stop-color="#a47228"/><stop offset="0.998" stop-color="#a57328"/></linearGradient><linearGradient id="g40" gradientUnits="userSpaceOnUse" x1="33" x2="269" y1="0" y2="0"><stop offset="0.002" stop-color="#b93c28"/><stop offset="0.070" stop-color="#ba3a28"/><stop offset="0.155" stop-color="#a63226"/><stop offset="0.222" stop-color="#7e261c"/><stop offset="0.311" stop-color="#45200f"/><stop offset="0.362" stop-color="#392911"/><stop offset="0.375" stop-color="#423514"/><stop offset="0.392" stop-color="#594e1b"/><stop offset="0.417" stop-color="#717325"/><stop offset="0.456" stop-color="#7ea731"/><stop offset="0.489" stop-color="#93b82c"/><stop offset="0.557" stop-color="#d8d21d"/><stop offset="0.570" stop-color="#dcd01d"/><stop offset="0.608" stop-color="#cdb227"/><stop offset="0.638" stop-color="#c49d28"/><stop offset="0.672" stop-color="#be9828"/><stop offset="0.710" stop-color="#b47f27"/><stop offset="0.744" stop-color="#b27e29"/><stop offset="0.778" stop-color="#ac7526"/><stop offset="0.807" stop-color="#ad7927"/><stop offset="0.896" stop-color="#a87128"/><stop offset="0.922" stop-color="#9c6524"/><stop offset="0.964" stop-color="#a57328"/><stop offset="0.998" stop-color="#a57328"/></linearGradient><linearGradient id="g41" gradientUnits="userSpaceOnUse" x1="33" x2="269" y1="0" y2="0"><stop offset="0.002" stop-color="#b93c28"/><stop offset="0.066" stop-color="#b83d28"/><stop offset="0.112" stop-color="#af3e28"/><stop offset="0.159" stop-color="#a23625"/><stop offset="0.227" stop-color="#7d2a1c"/><stop offset="0.311" stop-color="#4e2611"/><stop offset="0.362" stop-color="#443113"/><stop offset="0.371" stop-color="#483715"/><stop offset="0.388" stop-color="#5e4f1b"/><stop offset="0.405" stop-color="#6c601f"/><stop offset="0.422" stop-color="#7c7925"/><stop offset="0.443" stop-color="#84972c"/><stop offset="0.460" stop-color="#8da72f"/><stop offset="0.494" stop-color="#a2b82b"/><stop offset="0.515" stop-color="#b6c226"/><stop offset="0.561" stop-color="#d8d01f"/><stop offset="0.638" stop-color="#c49e28"/><stop offset="0.676" stop-color="#bd9928"/><stop offset="0.710" stop-color="#b58327"/><stop offset="0.739" stop-color="#b48329"/><stop offset="0.773" stop-color="#ae7927"/><stop offset="0.807" stop-color="#af7c28"/><stop offset="0.896" stop-color="#aa7328"/><stop offset="0.926" stop-color="#9c6624"/><stop offset="0.960" stop-color="#a47228"/><stop offset="0.998" stop-color="#a57328"/></linearGradient><linearGradient id="g42" gradientUnits="userSpaceOnUse" x1="33" x2="269" y1="0" y2="0"><stop offset="0.002" stop-color="#b93c28"/><stop offset="0.066" stop-color="#b83e28"/><stop offset="0.095" stop-color="#b04328"/><stop offset="0.146" stop-color="#a43d26"/><stop offset="0.184" stop-color="#963623"/><stop offset="0.265" stop-color="#6b2b18"/><stop offset="0.316" stop-color="#552d12"/><stop offset="0.362" stop-color="#513916"/><stop offset="0.405" stop-color="#716220"/><stop offset="0.426" stop-color="#857f26"/><stop offset="0.464" stop-color="#9ba62d"/><stop offset="0.511" stop-color="#b8be28"/><stop offset="0.557" stop-color="#d3cc22"/><stop offset="0.570" stop-color="#d5c823"/><stop offset="0.595" stop-color="#ccb528"/><stop offset="0.638" stop-color="#c49f28"/><stop offset="0.680" stop-color="#bd9828"/><stop offset="0.710" stop-color="#b68728"/><stop offset="0.773" stop-color="#b07c27"/><stop offset="0.803" stop-color="#b07e28"/><stop offset="0.854" stop-color="#ab7428"/><stop offset="0.905" stop-color="#aa7328"/><stop offset="0.926" stop-color="#a06a25"/><stop offset="0.960" stop-color="#a57328"/><stop offset="0.998" stop-color="#a57328"/></linearGradient><linearGradient id="g43" gradientUnits="userSpaceOnUse" x1="33" x2="269" y1="0" y2="0"><stop offset="0.002" stop-color="#b93c28"/><stop offset="0.066" stop-color="#b83e28"/><stop offset="0.091" stop-color="#b04828"/><stop offset="0.150" stop-color="#a14126"/><stop offset="0.269" stop-color="#6d301a"/><stop offset="0.320" stop-color="#5d3414"/><stop offset="0.362" stop-color="#5d4218"/><stop offset="0.409" stop-color="#796821"/><stop offset="0.430" stop-color="#8d8226"/><stop offset="0.468" stop-color="#a6a52b"/><stop offset="0.515" stop-color="#c0bc28"/><stop offset="0.553" stop-color="#d0c525"/><stop offset="0.566" stop-color="#d2c425"/><stop offset="0.591" stop-color="#cab328"/><stop offset="0.642" stop-color="#c39f28"/><stop offset="0.773" stop-color="#b27f28"/><stop offset="0.833" stop-color="#af7c28"/><stop offset="0.854" stop-color="#aa7328"/><stop offset="0.913" stop-color="#aa7328"/><stop offset="0.934" stop-color="#a26e26"/><stop offset="0.998" stop-color="#a57328"/></linearGradient><linearGradient id="g44" gradientUnits="userSpaceOnUse" x1="33" x2="269" y1="0" y2="0"><stop offset="0.002" stop-color="#b93c28"/><stop offset="0.053" stop-color="#b83d28"/><stop offset="0.078" stop-color="#b24a28"/><stop offset="0.095" stop-color="#ae4d28"/><stop offset="0.167" stop-color="#9b4325"/><stop offset="0.261" stop-color="#74351d"/><stop offset="0.324" stop-color="#653c16"/><stop offset="0.371" stop-color="#6b4f1b"/><stop offset="0.413" stop-color="#816e22"/><stop offset="0.468" stop-color="#aba029"/><stop offset="0.515" stop-color="#c3b828"/><stop offset="0.536" stop-color="#cabd27"/><stop offset="0.566" stop-color="#ccbb27"/><stop offset="0.638" stop-color="#c3a128"/><stop offset="0.710" stop-color="#b98f28"/><stop offset="0.773" stop-color="#b38128"/><stop offset="0.833" stop-color="#af7d28"/><stop offset="0.854" stop-color="#aa7328"/><stop offset="0.922" stop-color="#aa7328"/><stop offset="0.943" stop-color="#a37027"/><stop offset="0.998" stop-color="#a57328"/></linearGradient><linearGradient id="g45" gradientUnits="userSpaceOnUse" x1="33" x2="269" y1="0" y2="0"><stop offset="0.002" stop-color="#b93c28"/><stop offset="0.044" stop-color="#b83d28"/><stop offset="0.070" stop-color="#ae4e28"/><stop offset="0.100" stop-color="#ac5127"/><stop offset="0.163" stop-color="#9c4925"/><stop offset="0.252" stop-color="#7a3c1e"/><stop offset="0.320" stop-color="#6d4117"/><stop offset="0.379" stop-color="#76591e"/><stop offset="0.417" stop-color="#897323"/><stop offset="0.464" stop-color="#ab9b28"/><stop offset="0.528" stop-color="#c8b628"/><stop offset="0.570" stop-color="#c8b228"/><stop offset="0.629" stop-color="#c4a128"/><stop offset="0.761" stop-color="#b58428"/><stop offset="0.833" stop-color="#af7d28"/><stop offset="0.854" stop-color="#aa7328"/><stop offset="0.998" stop-color="#a57328"/></linearGradient><linearGradient id="g46" gradientUnits="userSpaceOnUse" x1="33" x2="269" y1="0" y2="0"><stop offset="0.002" stop-color="#b93c28"/><stop offset="0.036" stop-color="#b83f28"/><stop offset="0.061" stop-color="#ac5228"/><stop offset="0.100" stop-color="#ab5527"/><stop offset="0.163" stop-color="#9d4e24"/><stop offset="0.244" stop-color="#80431f"/><stop offset="0.316" stop-color="#744719"/><stop offset="0.388" stop-color="#806220"/><stop offset="0.417" stop-color="#8e7624"/><stop offset="0.460" stop-color="#ab9728"/><stop offset="0.523" stop-color="#c6b128"/><stop offset="0.587" stop-color="#c7a828"/><stop offset="0.735" stop-color="#b88b28"/><stop offset="0.752" stop-color="#b58328"/><stop offset="0.820" stop-color="#b38128"/><stop offset="0.854" stop-color="#aa7328"/><stop offset="0.998" stop-color="#a57328"/></linearGradient><linearGradient id="g47" gradientUnits="userSpaceOnUse" x1="33" x2="269" y1="0" y2="0"><stop offset="0.002" stop-color="#b93c28"/><stop offset="0.023" stop-color="#b74028"/><stop offset="0.049" stop-color="#ac5827"/><stop offset="0.061" stop-color="#ab5b26"/><stop offset="0.091" stop-color="#ad5827"/><stop offset="0.142" stop-color="#a45625"/><stop offset="0.235" stop-color="#874a1f"/><stop offset="0.316" stop-color="#7c4f1b"/><stop offset="0.392" stop-color="#886921"/><stop offset="0.460" stop-color="#ac9628"/><stop offset="0.528" stop-color="#c5ac28"/><stop offset="0.578" stop-color="#c7a628"/><stop offset="0.693" stop-color="#bc9028"/><stop offset="0.731" stop-color="#b98f28"/><stop offset="0.752" stop-color="#b48228"/><stop offset="0.824" stop-color="#b38128"/><stop offset="0.854" stop-color="#aa7328"/><stop offset="0.998" stop-color="#a57328"/></linearGradient><linearGradient id="g48" gradientUnits="userSpaceOnUse" x1="33" x2="269" y1="0" y2="0"><stop offset="0.002" stop-color="#b74028"/><stop offset="0.036" stop-color="#ac5b26"/><stop offset="0.049" stop-color="#aa5e26"/><stop offset="0.091" stop-color="#ad5b27"/><stop offset="0.261" stop-color="#86511e"/><stop offset="0.316" stop-color="#83561d"/><stop offset="0.396" stop-color="#907023"/><stop offset="0.464" stop-color="#af9728"/><stop offset="0.528" stop-color="#c4a728"/><stop offset="0.574" stop-color="#c7a228"/><stop offset="0.680" stop-color="#be9128"/><stop offset="0.731" stop-color="#b99128"/><stop offset="0.752" stop-color="#b48228"/><stop offset="0.833" stop-color="#b38128"/><stop offset="0.854" stop-color="#aa7328"/><stop offset="0.998" stop-color="#a57328"/></linearGradient><linearGradient id="g49" gradientUnits="userSpaceOnUse" x1="33" x2="269" y1="0" y2="0"><stop offset="0.002" stop-color="#b15027"/><stop offset="0.036" stop-color="#aa5f26"/><stop offset="0.095" stop-color="#ad5d27"/><stop offset="0.112" stop-color="#a96026"/><stop offset="0.265" stop-color="#8b571f"/><stop offset="0.320" stop-color="#8a5d1f"/><stop offset="0.383" stop-color="#916f23"/><stop offset="0.464" stop-color="#b09528"/><stop offset="0.532" stop-color="#c4a228"/><stop offset="0.570" stop-color="#c69e28"/><stop offset="0.646" stop-color="#bf9328"/><stop offset="0.731" stop-color="#b99128"/><stop offset="0.752" stop-color="#b48228"/><stop offset="0.833" stop-color="#b48228"/><stop offset="0.858" stop-color="#aa7328"/><stop offset="0.998" stop-color="#a57328"/></linearGradient><linearGradient id="g50" gradientUnits="userSpaceOnUse" x1="33" x2="269" y1="0" y2="0"><stop offset="0.002" stop-color="#ab5d26"/><stop offset="0.100" stop-color="#ae6027"/><stop offset="0.117" stop-color="#aa6426"/><stop offset="0.265" stop-color="#915d21"/><stop offset="0.328" stop-color="#8f6321"/><stop offset="0.388" stop-color="#967324"/><stop offset="0.464" stop-color="#b09328"/><stop offset="0.536" stop-color="#c49d28"/><stop offset="0.617" stop-color="#c49928"/><stop offset="0.642" stop-color="#be9128"/><stop offset="0.731" stop-color="#ba9128"/><stop offset="0.752" stop-color="#b48228"/><stop offset="0.837" stop-color="#b48228"/><stop offset="0.862" stop-color="#aa7328"/><stop offset="0.998" stop-color="#a57328"/></linearGradient><linearGradient id="g51" gradientUnits="userSpaceOnUse" x1="33" x2="269" y1="0" y2="0"><stop offset="0.002" stop-color="#aa5f26"/><stop offset="0.100" stop-color="#af6327"/><stop offset="0.117" stop-color="#ac6727"/><stop offset="0.261" stop-color="#986223"/><stop offset="0.333" stop-color="#946823"/><stop offset="0.392" stop-color="#9a7726"/><stop offset="0.468" stop-color="#b29228"/><stop offset="0.536" stop-color="#c29828"/><stop offset="0.561" stop-color="#c29628"/><stop offset="0.612" stop-color="#c79e28"/><stop offset="0.638" stop-color="#be9128"/><stop offset="0.731" stop-color="#bb9128"/><stop offset="0.752" stop-color="#b48228"/><stop offset="0.841" stop-color="#b48128"/><stop offset="0.862" stop-color="#aa7328"/><stop offset="0.998" stop-color="#a57328"/></linearGradient><linearGradient id="g52" gradientUnits="userSpaceOnUse" x1="33" x2="269" y1="0" y2="0"><stop offset="0.002" stop-color="#aa5f26"/><stop offset="0.057" stop-color="#aa6026"/><stop offset="0.091" stop-color="#ae6a28"/><stop offset="0.104" stop-color="#af6728"/><stop offset="0.261" stop-color="#9e6625"/><stop offset="0.337" stop-color="#996d25"/><stop offset="0.396" stop-color="#9e7b27"/><stop offset="0.460" stop-color="#b18e28"/><stop offset="0.511" stop-color="#be9328"/><stop offset="0.553" stop-color="#c29428"/><stop offset="0.578" stop-color="#c79e28"/><stop offset="0.604" stop-color="#c8a028"/><stop offset="0.617" stop-color="#c79e28"/><stop offset="0.633" stop-color="#be9128"/><stop offset="0.731" stop-color="#bd9128"/><stop offset="0.752" stop-color="#b48228"/><stop offset="0.841" stop-color="#b48228"/><stop offset="0.867" stop-color="#aa7328"/><stop offset="0.998" stop-color="#a57328"/></linearGradient><linearGradient id="g53" gradientUnits="userSpaceOnUse" x1="33" x2="269" y1="0" y2="0"><stop offset="0.002" stop-color="#aa5f26"/><stop offset="0.044" stop-color="#aa6026"/><stop offset="0.087" stop-color="#af6d28"/><stop offset="0.155" stop-color="#aa6926"/><stop offset="0.337" stop-color="#9d7126"/><stop offset="0.392" stop-color="#a37e28"/><stop offset="0.447" stop-color="#b38c28"/><stop offset="0.506" stop-color="#c09328"/><stop offset="0.561" stop-color="#c39628"/><stop offset="0.591" stop-color="#c8a028"/><stop offset="0.617" stop-color="#c79e28"/><stop offset="0.633" stop-color="#be9128"/><stop offset="0.731" stop-color="#be9128"/><stop offset="0.756" stop-color="#b48228"/><stop offset="0.845" stop-color="#b48228"/><stop offset="0.871" stop-color="#aa7328"/><stop offset="0.998" stop-color="#a57328"/></linearGradient><linearGradient id="g54" gradientUnits="userSpaceOnUse" x1="33" x2="269" y1="0" y2="0"><stop offset="0.002" stop-color="#aa5f26"/><stop offset="0.032" stop-color="#ab6126"/><stop offset="0.074" stop-color="#af6e28"/><stop offset="0.125" stop-color="#b06e28"/><stop offset="0.248" stop-color="#a66d27"/><stop offset="0.328" stop-color="#a17327"/><stop offset="0.439" stop-color="#b78b28"/><stop offset="0.489" stop-color="#b48d28"/><stop offset="0.511" stop-color="#c29528"/><stop offset="0.570" stop-color="#c39728"/><stop offset="0.600" stop-color="#c8a028"/><stop offset="0.617" stop-color="#c79e28"/><stop offset="0.633" stop-color="#be9128"/><stop offset="0.731" stop-color="#be9128"/><stop offset="0.756" stop-color="#b48328"/><stop offset="0.850" stop-color="#b48128"/><stop offset="0.871" stop-color="#aa7328"/><stop offset="0.998" stop-color="#a57328"/></linearGradient><linearGradient id="g55" gradientUnits="userSpaceOnUse" x1="33" x2="269" y1="0" y2="0"><stop offset="0.002" stop-color="#aa5f26"/><stop offset="0.053" stop-color="#af6d28"/><stop offset="0.129" stop-color="#b17028"/><stop offset="0.201" stop-color="#aa6e27"/><stop offset="0.316" stop-color="#a57527"/><stop offset="0.405" stop-color="#b48729"/><stop offset="0.485" stop-color="#b08c28"/><stop offset="0.511" stop-color="#c39628"/><stop offset="0.574" stop-color="#c39628"/><stop offset="0.604" stop-color="#c8a028"/><stop offset="0.617" stop-color="#c79e28"/><stop offset="0.633" stop-color="#be9128"/><stop offset="0.735" stop-color="#be9128"/><stop offset="0.761" stop-color="#b48228"/><stop offset="0.850" stop-color="#b48228"/><stop offset="0.875" stop-color="#aa7328"/><stop offset="0.998" stop-color="#a57328"/></linearGradient><linearGradient id="g56" gradientUnits="userSpaceOnUse" x1="33" x2="269" y1="0" y2="0"><stop offset="0.002" stop-color="#ab6327"/><stop offset="0.032" stop-color="#af6d28"/><stop offset="0.108" stop-color="#b37128"/><stop offset="0.201" stop-color="#ab6f28"/><stop offset="0.303" stop-color="#a97728"/><stop offset="0.371" stop-color="#b28429"/><stop offset="0.417" stop-color="#a78028"/><stop offset="0.439" stop-color="#b08c28"/><stop offset="0.489" stop-color="#b08c28"/><stop offset="0.511" stop-color="#c39628"/><stop offset="0.578" stop-color="#c39628"/><stop offset="0.608" stop-color="#c8a028"/><stop offset="0.633" stop-color="#be9128"/><stop offset="0.739" stop-color="#be9128"/><stop offset="0.765" stop-color="#b48228"/><stop offset="0.854" stop-color="#b48228"/><stop offset="0.879" stop-color="#aa7328"/><stop offset="0.998" stop-color="#a57328"/></linearGradient><linearGradient id="g57" gradientUnits="userSpaceOnUse" x1="33" x2="269" y1="0" y2="0"><stop offset="0.002" stop-color="#ae6b28"/><stop offset="0.108" stop-color="#b47328"/><stop offset="0.201" stop-color="#ad7128"/><stop offset="0.286" stop-color="#ac7828"/><stop offset="0.337" stop-color="#b18029"/><stop offset="0.362" stop-color="#aa7b28"/><stop offset="0.417" stop-color="#a17e28"/><stop offset="0.439" stop-color="#af8c28"/><stop offset="0.489" stop-color="#af8c28"/><stop offset="0.511" stop-color="#c39628"/><stop offset="0.587" stop-color="#c39628"/><stop offset="0.612" stop-color="#c89f28"/><stop offset="0.633" stop-color="#be9128"/><stop offset="0.739" stop-color="#be9128"/><stop offset="0.765" stop-color="#b48328"/><stop offset="0.858" stop-color="#b48128"/><stop offset="0.879" stop-color="#aa7328"/><stop offset="0.998" stop-color="#a57328"/></linearGradient><linearGradient id="g58" gradientUnits="userSpaceOnUse" x1="33" x2="269" y1="0" y2="0"><stop offset="0.002" stop-color="#af6e28"/><stop offset="0.104" stop-color="#b47328"/><stop offset="0.201" stop-color="#af7328"/><stop offset="0.311" stop-color="#b17e29"/><stop offset="0.337" stop-color="#ae7b28"/><stop offset="0.358" stop-color="#a07227"/><stop offset="0.379" stop-color="#a07d28"/><stop offset="0.413" stop-color="#a07d28"/><stop offset="0.439" stop-color="#af8c28"/><stop offset="0.489" stop-color="#af8c28"/><stop offset="0.511" stop-color="#c29628"/><stop offset="0.591" stop-color="#c39628"/><stop offset="0.612" stop-color="#c79e28"/><stop offset="0.633" stop-color="#be9128"/><stop offset="0.744" stop-color="#be9128"/><stop offset="0.769" stop-color="#b48228"/><stop offset="0.858" stop-color="#b48228"/><stop offset="0.883" stop-color="#aa7328"/><stop offset="0.998" stop-color="#a57328"/></linearGradient><linearGradient id="g59" gradientUnits="userSpaceOnUse" x1="33" x2="269" y1="0" y2="0"><stop offset="0.002" stop-color="#af6f28"/><stop offset="0.083" stop-color="#b47529"/><stop offset="0.201" stop-color="#b07429"/><stop offset="0.273" stop-color="#b07b29"/><stop offset="0.341" stop-color="#aa7828"/><stop offset="0.358" stop-color="#a07127"/><stop offset="0.367" stop-color="#9e7427"/><stop offset="0.379" stop-color="#a07d28"/><stop offset="0.417" stop-color="#a07d28"/><stop offset="0.439" stop-color="#af8c28"/><stop offset="0.489" stop-color="#af8c28"/><stop offset="0.515" stop-color="#c39628"/><stop offset="0.595" stop-color="#c39628"/><stop offset="0.617" stop-color="#c59b28"/><stop offset="0.633" stop-color="#be9128"/><stop offset="0.748" stop-color="#be9128"/><stop offset="0.773" stop-color="#b48228"/><stop offset="0.862" stop-color="#b48228"/><stop offset="0.888" stop-color="#aa7328"/><stop offset="0.998" stop-color="#a57328"/></linearGradient><linearGradient id="g60" gradientUnits="userSpaceOnUse" x1="33" x2="269" y1="0" y2="0"><stop offset="0.002" stop-color="#b27329"/><stop offset="0.057" stop-color="#b4782a"/><stop offset="0.256" stop-color="#b17729"/><stop offset="0.345" stop-color="#aa7828"/><stop offset="0.362" stop-color="#a37527"/><stop offset="0.379" stop-color="#a07d28"/><stop offset="0.413" stop-color="#a07d28"/><stop offset="0.439" stop-color="#af8c28"/><stop offset="0.494" stop-color="#b08c28"/><stop offset="0.515" stop-color="#c39628"/><stop offset="0.617" stop-color="#c49828"/><stop offset="0.638" stop-color="#be9128"/><stop offset="0.752" stop-color="#be9128"/><stop offset="0.778" stop-color="#b48228"/><stop offset="0.867" stop-color="#b48128"/><stop offset="0.888" stop-color="#aa7328"/><stop offset="0.998" stop-color="#a57328"/></linearGradient><linearGradient id="g61" gradientUnits="userSpaceOnUse" x1="33" x2="269" y1="0" y2="0"><stop offset="0.002" stop-color="#b4772a"/><stop offset="0.227" stop-color="#b3782a"/><stop offset="0.256" stop-color="#af7428"/><stop offset="0.278" stop-color="#aa7828"/><stop offset="0.354" stop-color="#aa7828"/><stop offset="0.379" stop-color="#a17d28"/><stop offset="0.413" stop-color="#a07d28"/><stop offset="0.439" stop-color="#af8c28"/><stop offset="0.494" stop-color="#b08c28"/><stop offset="0.515" stop-color="#c39628"/><stop offset="0.612" stop-color="#c39628"/><stop offset="0.638" stop-color="#be9128"/><stop offset="0.752" stop-color="#be9128"/><stop offset="0.778" stop-color="#b48228"/><stop offset="0.871" stop-color="#b38128"/><stop offset="0.892" stop-color="#aa7328"/><stop offset="0.972" stop-color="#aa7328"/><stop offset="0.998" stop-color="#a57328"/></linearGradient><linearGradient id="g62" gradientUnits="userSpaceOnUse" x1="33" x2="269" y1="0" y2="0"><stop offset="0.002" stop-color="#b4782a"/><stop offset="0.235" stop-color="#b4782a"/><stop offset="0.256" stop-color="#b07428"/><stop offset="0.278" stop-color="#aa7828"/><stop offset="0.362" stop-color="#aa7828"/><stop offset="0.383" stop-color="#a07d28"/><stop offset="0.413" stop-color="#a07d28"/><stop offset="0.439" stop-color="#af8c28"/><stop offset="0.494" stop-color="#af8c28"/><stop offset="0.515" stop-color="#c39628"/><stop offset="0.608" stop-color="#c39628"/><stop offset="0.638" stop-color="#be9128"/><stop offset="0.756" stop-color="#be9128"/><stop offset="0.778" stop-color="#b58328"/><stop offset="0.871" stop-color="#b48228"/><stop offset="0.896" stop-color="#aa7328"/><stop offset="0.977" stop-color="#aa7328"/><stop offset="0.998" stop-color="#a57328"/></linearGradient><linearGradient id="g63" gradientUnits="userSpaceOnUse" x1="33" x2="269" y1="0" y2="0"><stop offset="0.002" stop-color="#b4782a"/><stop offset="0.244" stop-color="#b4782a"/><stop offset="0.278" stop-color="#aa7828"/><stop offset="0.362" stop-color="#aa7828"/><stop offset="0.388" stop-color="#a07d28"/><stop offset="0.413" stop-color="#a07d28"/><stop offset="0.439" stop-color="#af8c28"/><stop offset="0.494" stop-color="#af8c28"/><stop offset="0.515" stop-color="#c39628"/><stop offset="0.612" stop-color="#c39628"/><stop offset="0.638" stop-color="#be9128"/><stop offset="0.761" stop-color="#be9128"/><stop offset="0.782" stop-color="#b48328"/><stop offset="0.875" stop-color="#b48128"/><stop offset="0.896" stop-color="#aa7328"/><stop offset="0.998" stop-color="#a67328"/></linearGradient><linearGradient id="g64" gradientUnits="userSpaceOnUse" x1="33" x2="269" y1="0" y2="0"><stop offset="0.002" stop-color="#b4782a"/><stop offset="0.252" stop-color="#b4782a"/><stop offset="0.278" stop-color="#aa7828"/><stop offset="0.367" stop-color="#aa7828"/><stop offset="0.388" stop-color="#a07d28"/><stop offset="0.413" stop-color="#a07d28"/><stop offset="0.439" stop-color="#af8c28"/><stop offset="0.494" stop-color="#af8c28"/><stop offset="0.515" stop-color="#c39628"/><stop offset="0.612" stop-color="#c39628"/><stop offset="0.638" stop-color="#be9128"/><stop offset="0.761" stop-color="#be9128"/><stop offset="0.786" stop-color="#b48228"/><stop offset="0.875" stop-color="#b48228"/><stop offset="0.900" stop-color="#aa7328"/><stop offset="0.998" stop-color="#a67328"/></linearGradient><clipPath id="c1"><polygon points="35.2,62.3 70.0,57.3 100.0,53.3 130.0,50.5 150.0,47.8 176.3,42.4 190.0,50.5 201.7,56.4 213.4,63.4 222.8,71.0 231.0,78.6 239.2,88.0 251.3,99.5 267.0,116.2 230.0,126.0 200.0,134.0 170.0,140.5 145.0,146.3 120.0,152.0 90.0,157.0 59.6,165.8"/></clipPath></defs><g clip-path="url(#c1)"><g filter="url(#bl)"><rect x="33" y="40" width="236" height="2.6" fill="url(#g1)"/><rect x="33" y="42" width="236" height="2.6" fill="url(#g2)"/><rect x="33" y="44" width="236" height="2.6" fill="url(#g3)"/><rect x="33" y="46" width="236" height="2.6" fill="url(#g4)"/><rect x="33" y="48" width="236" height="2.6" fill="url(#g5)"/><rect x="33" y="50" width="236" height="2.6" fill="url(#g6)"/><rect x="33" y="52" width="236" height="2.6" fill="url(#g7)"/><rect x="33" y="54" width="236" height="2.6" fill="url(#g8)"/><rect x="33" y="56" width="236" height="2.6" fill="url(#g9)"/><rect x="33" y="58" width="236" height="2.6" fill="url(#g10)"/><rect x="33" y="60" width="236" height="2.6" fill="url(#g11)"/><rect x="33" y="62" width="236" height="2.6" fill="url(#g12)"/><rect x="33" y="64" width="236" height="2.6" fill="url(#g13)"/><rect x="33" y="66" width="236" height="2.6" fill="url(#g14)"/><rect x="33" y="68" width="236" height="2.6" fill="url(#g15)"/><rect x="33" y="70" width="236" height="2.6" fill="url(#g16)"/><rect x="33" y="72" width="236" height="2.6" fill="url(#g17)"/><rect x="33" y="74" width="236" height="2.6" fill="url(#g18)"/><rect x="33" y="76" width="236" height="2.6" fill="url(#g19)"/><rect x="33" y="78" width="236" height="2.6" fill="url(#g20)"/><rect x="33" y="80" width="236" height="2.6" fill="url(#g21)"/><rect x="33" y="82" width="236" height="2.6" fill="url(#g22)"/><rect x="33" y="84" width="236" height="2.6" fill="url(#g23)"/><rect x="33" y="86" width="236" height="2.6" fill="url(#g24)"/><rect x="33" y="88" width="236" height="2.6" fill="url(#g25)"/><rect x="33" y="90" width="236" height="2.6" fill="url(#g26)"/><rect x="33" y="92" width="236" height="2.6" fill="url(#g27)"/><rect x="33" y="94" width="236" height="2.6" fill="url(#g28)"/><rect x="33" y="96" width="236" height="2.6" fill="url(#g29)"/><rect x="33" y="98" width="236" height="2.6" fill="url(#g30)"/><rect x="33" y="100" width="236" height="2.6" fill="url(#g31)"/><rect x="33" y="102" width="236" height="2.6" fill="url(#g32)"/><rect x="33" y="104" width="236" height="2.6" fill="url(#g33)"/><rect x="33" y="106" width="236" height="2.6" fill="url(#g34)"/><rect x="33" y="108" width="236" height="2.6" fill="url(#g35)"/><rect x="33" y="110" width="236" height="2.6" fill="url(#g36)"/><rect x="33" y="112" width="236" height="2.6" fill="url(#g37)"/><rect x="33" y="114" width="236" height="2.6" fill="url(#g38)"/><rect x="33" y="116" width="236" height="2.6" fill="url(#g39)"/><rect x="33" y="118" width="236" height="2.6" fill="url(#g40)"/><rect x="33" y="120" width="236" height="2.6" fill="url(#g41)"/><rect x="33" y="122" width="236" height="2.6" fill="url(#g42)"/><rect x="33" y="124" width="236" height="2.6" fill="url(#g43)"/><rect x="33" y="126" width="236" height="2.6" fill="url(#g44)"/><rect x="33" y="128" width="236" height="2.6" fill="url(#g45)"/><rect x="33" y="130" width="236" height="2.6" fill="url(#g46)"/><rect x="33" y="132" width="236" height="2.6" fill="url(#g47)"/><rect x="33" y="134" width="236" height="2.6" fill="url(#g48)"/><rect x="33" y="136" width="236" height="2.6" fill="url(#g49)"/><rect x="33" y="138" width="236" height="2.6" fill="url(#g50)"/><rect x="33" y="140" width="236" height="2.6" fill="url(#g51)"/><rect x="33" y="142" width="236" height="2.6" fill="url(#g52)"/><rect x="33" y="144" width="236" height="2.6" fill="url(#g53)"/><rect x="33" y="146" width="236" height="2.6" fill="url(#g54)"/><rect x="33" y="148" width="236" height="2.6" fill="url(#g55)"/><rect x="33" y="150" width="236" height="2.6" fill="url(#g56)"/><rect x="33" y="152" width="236" height="2.6" fill="url(#g57)"/><rect x="33" y="154" width="236" height="2.6" fill="url(#g58)"/><rect x="33" y="156" width="236" height="2.6" fill="url(#g59)"/><rect x="33" y="158" width="236" height="2.6" fill="url(#g60)"/><rect x="33" y="160" width="236" height="2.6" fill="url(#g61)"/><rect x="33" y="162" width="236" height="2.6" fill="url(#g62)"/><rect x="33" y="164" width="236" height="2.6" fill="url(#g63)"/><rect x="33" y="166" width="236" height="2.6" fill="url(#g64)"/></g></g><polyline points="35.2,62.3 59.6,165.8 90.0,157.0 120.0,152.0 145.0,146.3 170.0,140.5 200.0,134.0 230.0,126.0 267.0,116.2" fill="none" stroke="#f2dc8a" stroke-width="0.9" stroke-linejoin="round"/><polyline points="176.3,42.4 190.0,50.5 201.7,56.4 213.4,63.4 222.8,71.0 231.0,78.6 239.2,88.0 251.3,99.5 267.0,116.2" fill="none" stroke="#4a2010" stroke-width="0.8" stroke-opacity="0.75" stroke-linejoin="round"/></g><defs><linearGradient id="g65" gradientUnits="userSpaceOnUse" x1="276" x2="513" y1="0" y2="0"><stop offset="0.002" stop-color="#d73c28"/><stop offset="0.036" stop-color="#cd4128"/><stop offset="0.129" stop-color="#cd4128"/><stop offset="0.154" stop-color="#d23228"/><stop offset="0.217" stop-color="#d23228"/><stop offset="0.251" stop-color="#cd2a28"/><stop offset="0.319" stop-color="#d22828"/><stop offset="0.357" stop-color="#c82828"/><stop offset="0.424" stop-color="#cc2a28"/><stop offset="0.492" stop-color="#c82d28"/><stop offset="0.521" stop-color="#d72826"/><stop offset="0.568" stop-color="#d72826"/><stop offset="0.593" stop-color="#c82d28"/><stop offset="0.648" stop-color="#d22d26"/><stop offset="0.656" stop-color="#cb2b25"/><stop offset="0.669" stop-color="#a0211f"/><stop offset="0.673" stop-color="#991f1e"/><stop offset="0.686" stop-color="#941e1e"/><stop offset="0.703" stop-color="#821c1c"/><stop offset="0.774" stop-color="#821c1c"/><stop offset="0.800" stop-color="#781919"/><stop offset="0.956" stop-color="#731919"/><stop offset="0.968" stop-color="#791b1a"/><stop offset="0.985" stop-color="#90251f"/><stop offset="0.998" stop-color="#91261f"/></linearGradient><linearGradient id="g66" gradientUnits="userSpaceOnUse" x1="276" x2="513" y1="0" y2="0"><stop offset="0.002" stop-color="#d73c28"/><stop offset="0.019" stop-color="#d63c28"/><stop offset="0.040" stop-color="#cd4128"/><stop offset="0.129" stop-color="#cd4128"/><stop offset="0.154" stop-color="#d23228"/><stop offset="0.217" stop-color="#d23228"/><stop offset="0.251" stop-color="#cd2a28"/><stop offset="0.319" stop-color="#d22828"/><stop offset="0.361" stop-color="#c82828"/><stop offset="0.407" stop-color="#c82828"/><stop offset="0.424" stop-color="#cf2928"/><stop offset="0.441" stop-color="#c82d28"/><stop offset="0.496" stop-color="#c82d28"/><stop offset="0.525" stop-color="#d72826"/><stop offset="0.572" stop-color="#d62826"/><stop offset="0.597" stop-color="#c82d28"/><stop offset="0.643" stop-color="#d22d26"/><stop offset="0.652" stop-color="#cd2c25"/><stop offset="0.669" stop-color="#9b1f1f"/><stop offset="0.686" stop-color="#941e1e"/><stop offset="0.703" stop-color="#821c1c"/><stop offset="0.770" stop-color="#821c1c"/><stop offset="0.795" stop-color="#781919"/><stop offset="0.951" stop-color="#731919"/><stop offset="0.960" stop-color="#761a1a"/><stop offset="0.981" stop-color="#90251f"/><stop offset="0.998" stop-color="#91261f"/></linearGradient><linearGradient id="g67" gradientUnits="userSpaceOnUse" x1="276" x2="513" y1="0" y2="0"><stop offset="0.002" stop-color="#d73c28"/><stop offset="0.023" stop-color="#d63c28"/><stop offset="0.044" stop-color="#cd4128"/><stop offset="0.129" stop-color="#cd4128"/><stop offset="0.154" stop-color="#d23228"/><stop offset="0.285" stop-color="#cd2a28"/><stop offset="0.319" stop-color="#d22828"/><stop offset="0.361" stop-color="#c82828"/><stop offset="0.403" stop-color="#c82828"/><stop offset="0.424" stop-color="#d32928"/><stop offset="0.437" stop-color="#c92d28"/><stop offset="0.449" stop-color="#c82d28"/><stop offset="0.500" stop-color="#c82d28"/><stop offset="0.525" stop-color="#d72826"/><stop offset="0.572" stop-color="#d62826"/><stop offset="0.597" stop-color="#c92d28"/><stop offset="0.639" stop-color="#d22d26"/><stop offset="0.648" stop-color="#cd2c25"/><stop offset="0.665" stop-color="#9b1f1f"/><stop offset="0.686" stop-color="#941e1e"/><stop offset="0.703" stop-color="#821c1c"/><stop offset="0.766" stop-color="#811c1c"/><stop offset="0.791" stop-color="#781919"/><stop offset="0.943" stop-color="#731919"/><stop offset="0.956" stop-color="#771b1a"/><stop offset="0.973" stop-color="#8e251e"/><stop offset="0.998" stop-color="#91261f"/></linearGradient><linearGradient id="g68" gradientUnits="userSpaceOnUse" x1="276" x2="513" y1="0" y2="0"><stop offset="0.002" stop-color="#d73c28"/><stop offset="0.027" stop-color="#d63c28"/><stop offset="0.049" stop-color="#cd4128"/><stop offset="0.129" stop-color="#cd4128"/><stop offset="0.154" stop-color="#d23228"/><stop offset="0.217" stop-color="#d23228"/><stop offset="0.247" stop-color="#cd2a28"/><stop offset="0.314" stop-color="#d22828"/><stop offset="0.357" stop-color="#c82828"/><stop offset="0.399" stop-color="#c82828"/><stop offset="0.420" stop-color="#d52828"/><stop offset="0.445" stop-color="#c82d28"/><stop offset="0.504" stop-color="#c92d28"/><stop offset="0.530" stop-color="#d42926"/><stop offset="0.639" stop-color="#d02c26"/><stop offset="0.648" stop-color="#c32924"/><stop offset="0.656" stop-color="#a52220"/><stop offset="0.665" stop-color="#971e1e"/><stop offset="0.686" stop-color="#941e1e"/><stop offset="0.703" stop-color="#821c1c"/><stop offset="0.757" stop-color="#821c1c"/><stop offset="0.787" stop-color="#781919"/><stop offset="0.939" stop-color="#741919"/><stop offset="0.947" stop-color="#771b1a"/><stop offset="0.968" stop-color="#8f251f"/><stop offset="0.998" stop-color="#91261f"/></linearGradient><linearGradient id="g69" gradientUnits="userSpaceOnUse" x1="276" x2="513" y1="0" y2="0"><stop offset="0.002" stop-color="#d73c28"/><stop offset="0.032" stop-color="#d63c28"/><stop offset="0.053" stop-color="#cd4128"/><stop offset="0.129" stop-color="#cd4128"/><stop offset="0.154" stop-color="#d23228"/><stop offset="0.217" stop-color="#d23228"/><stop offset="0.238" stop-color="#cd2a28"/><stop offset="0.281" stop-color="#cd2a28"/><stop offset="0.327" stop-color="#d22828"/><stop offset="0.361" stop-color="#c82828"/><stop offset="0.399" stop-color="#c92928"/><stop offset="0.420" stop-color="#d42a28"/><stop offset="0.449" stop-color="#c92d28"/><stop offset="0.584" stop-color="#d62926"/><stop offset="0.627" stop-color="#c62a25"/><stop offset="0.639" stop-color="#c62925"/><stop offset="0.643" stop-color="#c22724"/><stop offset="0.656" stop-color="#9d201f"/><stop offset="0.660" stop-color="#981f1e"/><stop offset="0.686" stop-color="#941e1e"/><stop offset="0.698" stop-color="#841c1c"/><stop offset="0.753" stop-color="#821c1c"/><stop offset="0.778" stop-color="#781919"/><stop offset="0.930" stop-color="#731919"/><stop offset="0.939" stop-color="#771b1a"/><stop offset="0.960" stop-color="#8f251f"/><stop offset="0.998" stop-color="#91261f"/></linearGradient><linearGradient id="g70" gradientUnits="userSpaceOnUse" x1="276" x2="513" y1="0" y2="0"><stop offset="0.002" stop-color="#d73c28"/><stop offset="0.036" stop-color="#d63c28"/><stop offset="0.057" stop-color="#cd4128"/><stop offset="0.129" stop-color="#cd4128"/><stop offset="0.154" stop-color="#d23228"/><stop offset="0.217" stop-color="#d23228"/><stop offset="0.247" stop-color="#cd2a28"/><stop offset="0.323" stop-color="#d22928"/><stop offset="0.357" stop-color="#c92a28"/><stop offset="0.411" stop-color="#cf2c28"/><stop offset="0.445" stop-color="#cc2c28"/><stop offset="0.563" stop-color="#d22927"/><stop offset="0.584" stop-color="#d92727"/><stop offset="0.614" stop-color="#cd2926"/><stop offset="0.643" stop-color="#b62523"/><stop offset="0.660" stop-color="#9c201f"/><stop offset="0.686" stop-color="#941e1e"/><stop offset="0.703" stop-color="#821c1c"/><stop offset="0.749" stop-color="#811c1c"/><stop offset="0.774" stop-color="#781919"/><stop offset="0.918" stop-color="#731919"/><stop offset="0.930" stop-color="#771b1a"/><stop offset="0.951" stop-color="#8f251f"/><stop offset="0.998" stop-color="#91261f"/></linearGradient><linearGradient id="g71" gradientUnits="userSpaceOnUse" x1="276" x2="513" y1="0" y2="0"><stop offset="0.002" stop-color="#d73c28"/><stop offset="0.040" stop-color="#d63c28"/><stop offset="0.061" stop-color="#cd4128"/><stop offset="0.129" stop-color="#cd4128"/><stop offset="0.154" stop-color="#d23228"/><stop offset="0.217" stop-color="#d23228"/><stop offset="0.238" stop-color="#cd2b28"/><stop offset="0.361" stop-color="#cc2d28"/><stop offset="0.559" stop-color="#ce2a27"/><stop offset="0.584" stop-color="#db2427"/><stop offset="0.618" stop-color="#cb2626"/><stop offset="0.660" stop-color="#a32220"/><stop offset="0.686" stop-color="#931e1e"/><stop offset="0.703" stop-color="#831c1c"/><stop offset="0.745" stop-color="#811c1c"/><stop offset="0.766" stop-color="#781919"/><stop offset="0.914" stop-color="#731919"/><stop offset="0.926" stop-color="#781b1a"/><stop offset="0.943" stop-color="#8f251f"/><stop offset="0.998" stop-color="#91261f"/></linearGradient><linearGradient id="g72" gradientUnits="userSpaceOnUse" x1="276" x2="513" y1="0" y2="0"><stop offset="0.002" stop-color="#d73c28"/><stop offset="0.040" stop-color="#d73c28"/><stop offset="0.065" stop-color="#cd4128"/><stop offset="0.129" stop-color="#cd4128"/><stop offset="0.154" stop-color="#d23328"/><stop offset="0.217" stop-color="#d03428"/><stop offset="0.238" stop-color="#cb2f27"/><stop offset="0.285" stop-color="#c72d26"/><stop offset="0.352" stop-color="#cd2b28"/><stop offset="0.559" stop-color="#ca2b27"/><stop offset="0.580" stop-color="#dc2228"/><stop offset="0.622" stop-color="#c82426"/><stop offset="0.698" stop-color="#861d1c"/><stop offset="0.757" stop-color="#791919"/><stop offset="0.909" stop-color="#741919"/><stop offset="0.918" stop-color="#771b1a"/><stop offset="0.939" stop-color="#90261f"/><stop offset="0.998" stop-color="#91261f"/></linearGradient><linearGradient id="g73" gradientUnits="userSpaceOnUse" x1="276" x2="513" y1="0" y2="0"><stop offset="0.002" stop-color="#d73c28"/><stop offset="0.112" stop-color="#ce4028"/><stop offset="0.133" stop-color="#ce3e28"/><stop offset="0.154" stop-color="#d13528"/><stop offset="0.209" stop-color="#d03328"/><stop offset="0.259" stop-color="#be2a24"/><stop offset="0.293" stop-color="#ba2623"/><stop offset="0.382" stop-color="#cb2828"/><stop offset="0.559" stop-color="#c82c28"/><stop offset="0.580" stop-color="#de2128"/><stop offset="0.618" stop-color="#cc2226"/><stop offset="0.673" stop-color="#971e1e"/><stop offset="0.694" stop-color="#881c1c"/><stop offset="0.745" stop-color="#77191b"/><stop offset="0.901" stop-color="#741919"/><stop offset="0.909" stop-color="#771b1a"/><stop offset="0.930" stop-color="#8f251f"/><stop offset="0.998" stop-color="#91261f"/></linearGradient><linearGradient id="g74" gradientUnits="userSpaceOnUse" x1="276" x2="513" y1="0" y2="0"><stop offset="0.002" stop-color="#d73c28"/><stop offset="0.049" stop-color="#d73c28"/><stop offset="0.065" stop-color="#d73328"/><stop offset="0.086" stop-color="#cf3f28"/><stop offset="0.205" stop-color="#d22f28"/><stop offset="0.259" stop-color="#b52322"/><stop offset="0.302" stop-color="#ae2121"/><stop offset="0.352" stop-color="#b62223"/><stop offset="0.403" stop-color="#cd2928"/><stop offset="0.470" stop-color="#cf3528"/><stop offset="0.496" stop-color="#cb2c28"/><stop offset="0.559" stop-color="#cb2a28"/><stop offset="0.576" stop-color="#dd2128"/><stop offset="0.584" stop-color="#df1f27"/><stop offset="0.618" stop-color="#cd2126"/><stop offset="0.681" stop-color="#8b1c1c"/><stop offset="0.741" stop-color="#72171b"/><stop offset="0.762" stop-color="#781919"/><stop offset="0.892" stop-color="#731919"/><stop offset="0.901" stop-color="#771b1a"/><stop offset="0.922" stop-color="#8f251f"/><stop offset="0.998" stop-color="#91261f"/></linearGradient><linearGradient id="g75" gradientUnits="userSpaceOnUse" x1="276" x2="513" y1="0" y2="0"><stop offset="0.002" stop-color="#d73c28"/><stop offset="0.049" stop-color="#d73b28"/><stop offset="0.065" stop-color="#dc2d28"/><stop offset="0.086" stop-color="#d33828"/><stop offset="0.205" stop-color="#d52b28"/><stop offset="0.264" stop-color="#ac1f20"/><stop offset="0.289" stop-color="#931b1c"/><stop offset="0.306" stop-color="#8b1a1b"/><stop offset="0.331" stop-color="#931b1c"/><stop offset="0.390" stop-color="#bf2324"/><stop offset="0.416" stop-color="#d12d27"/><stop offset="0.466" stop-color="#da4727"/><stop offset="0.500" stop-color="#ce2b28"/><stop offset="0.563" stop-color="#d52528"/><stop offset="0.580" stop-color="#e01f28"/><stop offset="0.614" stop-color="#d22026"/><stop offset="0.677" stop-color="#891b1b"/><stop offset="0.719" stop-color="#77191a"/><stop offset="0.884" stop-color="#731919"/><stop offset="0.892" stop-color="#761a1a"/><stop offset="0.909" stop-color="#8d241e"/><stop offset="0.918" stop-color="#90261f"/><stop offset="0.998" stop-color="#91261f"/></linearGradient><linearGradient id="g76" gradientUnits="userSpaceOnUse" x1="276" x2="513" y1="0" y2="0"><stop offset="0.002" stop-color="#d73c28"/><stop offset="0.049" stop-color="#d73b28"/><stop offset="0.065" stop-color="#d93328"/><stop offset="0.171" stop-color="#db2628"/><stop offset="0.209" stop-color="#d62627"/><stop offset="0.255" stop-color="#ac1d1f"/><stop offset="0.293" stop-color="#5c1213"/><stop offset="0.306" stop-color="#4e1011"/><stop offset="0.319" stop-color="#4a0f10"/><stop offset="0.331" stop-color="#4f1011"/><stop offset="0.344" stop-color="#5c1213"/><stop offset="0.382" stop-color="#a21e1e"/><stop offset="0.399" stop-color="#ba2322"/><stop offset="0.420" stop-color="#cc2f25"/><stop offset="0.437" stop-color="#d94027"/><stop offset="0.458" stop-color="#e05127"/><stop offset="0.475" stop-color="#df5027"/><stop offset="0.500" stop-color="#d13128"/><stop offset="0.513" stop-color="#d22928"/><stop offset="0.576" stop-color="#e11f28"/><stop offset="0.601" stop-color="#dc1e26"/><stop offset="0.614" stop-color="#d31e25"/><stop offset="0.677" stop-color="#851a1a"/><stop offset="0.724" stop-color="#721718"/><stop offset="0.774" stop-color="#781919"/><stop offset="0.880" stop-color="#741919"/><stop offset="0.888" stop-color="#771b1a"/><stop offset="0.901" stop-color="#8a231e"/><stop offset="0.909" stop-color="#90261f"/><stop offset="0.998" stop-color="#91261f"/></linearGradient><linearGradient id="g77" gradientUnits="userSpaceOnUse" x1="276" x2="513" y1="0" y2="0"><stop offset="0.002" stop-color="#d73c28"/><stop offset="0.040" stop-color="#d73b28"/><stop offset="0.095" stop-color="#de2728"/><stop offset="0.209" stop-color="#d92227"/><stop offset="0.251" stop-color="#ad1c1f"/><stop offset="0.259" stop-color="#96191c"/><stop offset="0.276" stop-color="#5b1113"/><stop offset="0.289" stop-color="#370c0d"/><stop offset="0.306" stop-color="#1c0809"/><stop offset="0.323" stop-color="#130707"/><stop offset="0.340" stop-color="#170708"/><stop offset="0.357" stop-color="#260a0a"/><stop offset="0.378" stop-color="#4f1412"/><stop offset="0.407" stop-color="#a6231f"/><stop offset="0.416" stop-color="#b92822"/><stop offset="0.441" stop-color="#d54126"/><stop offset="0.462" stop-color="#e15526"/><stop offset="0.483" stop-color="#df5027"/><stop offset="0.504" stop-color="#d43428"/><stop offset="0.517" stop-color="#d32a28"/><stop offset="0.572" stop-color="#e21f28"/><stop offset="0.601" stop-color="#dc1e26"/><stop offset="0.614" stop-color="#d21e25"/><stop offset="0.673" stop-color="#86191a"/><stop offset="0.728" stop-color="#6d1617"/><stop offset="0.774" stop-color="#781919"/><stop offset="0.871" stop-color="#741919"/><stop offset="0.905" stop-color="#91261f"/><stop offset="0.998" stop-color="#91261f"/></linearGradient><linearGradient id="g78" gradientUnits="userSpaceOnUse" x1="276" x2="513" y1="0" y2="0"><stop offset="0.002" stop-color="#d73c28"/><stop offset="0.032" stop-color="#d73b28"/><stop offset="0.086" stop-color="#e02428"/><stop offset="0.167" stop-color="#e01f28"/><stop offset="0.213" stop-color="#d91f27"/><stop offset="0.247" stop-color="#b31b20"/><stop offset="0.251" stop-color="#aa1a1e"/><stop offset="0.259" stop-color="#8c161a"/><stop offset="0.276" stop-color="#420d0f"/><stop offset="0.285" stop-color="#25090a"/><stop offset="0.297" stop-color="#0c0606"/><stop offset="0.314" stop-color="#050505"/><stop offset="0.361" stop-color="#060605"/><stop offset="0.382" stop-color="#170f0a"/><stop offset="0.395" stop-color="#30170f"/><stop offset="0.403" stop-color="#491c13"/><stop offset="0.428" stop-color="#ae2c21"/><stop offset="0.437" stop-color="#c73624"/><stop offset="0.449" stop-color="#d64526"/><stop offset="0.470" stop-color="#e05326"/><stop offset="0.492" stop-color="#df4c27"/><stop offset="0.521" stop-color="#d42a28"/><stop offset="0.572" stop-color="#e21f28"/><stop offset="0.601" stop-color="#db1e26"/><stop offset="0.614" stop-color="#d11e25"/><stop offset="0.677" stop-color="#82181a"/><stop offset="0.732" stop-color="#6a1515"/><stop offset="0.774" stop-color="#761919"/><stop offset="0.863" stop-color="#751919"/><stop offset="0.897" stop-color="#90261f"/><stop offset="0.998" stop-color="#932a20"/></linearGradient><linearGradient id="g79" gradientUnits="userSpaceOnUse" x1="276" x2="513" y1="0" y2="0"><stop offset="0.002" stop-color="#d73c28"/><stop offset="0.027" stop-color="#d73b28"/><stop offset="0.086" stop-color="#e02228"/><stop offset="0.167" stop-color="#e11e28"/><stop offset="0.217" stop-color="#d61f27"/><stop offset="0.251" stop-color="#ab1a1f"/><stop offset="0.259" stop-color="#8b161a"/><stop offset="0.272" stop-color="#4a0e10"/><stop offset="0.281" stop-color="#24090a"/><stop offset="0.289" stop-color="#0d0606"/><stop offset="0.297" stop-color="#050505"/><stop offset="0.361" stop-color="#050605"/><stop offset="0.390" stop-color="#091309"/><stop offset="0.403" stop-color="#131a0c"/><stop offset="0.416" stop-color="#2c2010"/><stop offset="0.424" stop-color="#482414"/><stop offset="0.437" stop-color="#862c1c"/><stop offset="0.445" stop-color="#b43722"/><stop offset="0.449" stop-color="#c53d24"/><stop offset="0.458" stop-color="#d74626"/><stop offset="0.475" stop-color="#de4d26"/><stop offset="0.496" stop-color="#df4727"/><stop offset="0.525" stop-color="#d62a28"/><stop offset="0.572" stop-color="#e21f28"/><stop offset="0.601" stop-color="#da1e26"/><stop offset="0.614" stop-color="#d01e25"/><stop offset="0.656" stop-color="#991b1e"/><stop offset="0.681" stop-color="#7e1819"/><stop offset="0.736" stop-color="#661513"/><stop offset="0.774" stop-color="#731819"/><stop offset="0.846" stop-color="#751919"/><stop offset="0.863" stop-color="#7c1b1b"/><stop offset="0.888" stop-color="#90261f"/><stop offset="0.977" stop-color="#91261f"/><stop offset="0.998" stop-color="#973221"/></linearGradient><linearGradient id="g80" gradientUnits="userSpaceOnUse" x1="276" x2="513" y1="0" y2="0"><stop offset="0.002" stop-color="#d63e29"/><stop offset="0.082" stop-color="#e02228"/><stop offset="0.167" stop-color="#e11e28"/><stop offset="0.222" stop-color="#d41e26"/><stop offset="0.251" stop-color="#af1b1f"/><stop offset="0.255" stop-color="#a4191e"/><stop offset="0.259" stop-color="#92171b"/><stop offset="0.281" stop-color="#210909"/><stop offset="0.289" stop-color="#090506"/><stop offset="0.293" stop-color="#050505"/><stop offset="0.365" stop-color="#050705"/><stop offset="0.411" stop-color="#0d1f0d"/><stop offset="0.424" stop-color="#162710"/><stop offset="0.432" stop-color="#282a13"/><stop offset="0.441" stop-color="#462d16"/><stop offset="0.458" stop-color="#a83b21"/><stop offset="0.466" stop-color="#cf4126"/><stop offset="0.470" stop-color="#d84227"/><stop offset="0.479" stop-color="#dd4327"/><stop offset="0.500" stop-color="#de4028"/><stop offset="0.534" stop-color="#d82828"/><stop offset="0.572" stop-color="#e21f28"/><stop offset="0.601" stop-color="#d91e26"/><stop offset="0.614" stop-color="#cf1e25"/><stop offset="0.656" stop-color="#991a1f"/><stop offset="0.686" stop-color="#7a1718"/><stop offset="0.736" stop-color="#641511"/><stop offset="0.791" stop-color="#751a19"/><stop offset="0.833" stop-color="#761a1a"/><stop offset="0.863" stop-color="#821d1c"/><stop offset="0.884" stop-color="#91261f"/><stop offset="0.973" stop-color="#91271f"/><stop offset="0.998" stop-color="#9a3a23"/></linearGradient><linearGradient id="g81" gradientUnits="userSpaceOnUse" x1="276" x2="513" y1="0" y2="0"><stop offset="0.002" stop-color="#d3442c"/><stop offset="0.011" stop-color="#d4422b"/><stop offset="0.023" stop-color="#d63229"/><stop offset="0.070" stop-color="#dd2428"/><stop offset="0.167" stop-color="#e11e28"/><stop offset="0.226" stop-color="#d21e26"/><stop offset="0.255" stop-color="#ac1a1f"/><stop offset="0.264" stop-color="#8b161a"/><stop offset="0.281" stop-color="#28090a"/><stop offset="0.289" stop-color="#0a0606"/><stop offset="0.293" stop-color="#050505"/><stop offset="0.369" stop-color="#060806"/><stop offset="0.411" stop-color="#0d1f0d"/><stop offset="0.437" stop-color="#153915"/><stop offset="0.445" stop-color="#223f18"/><stop offset="0.454" stop-color="#3b401b"/><stop offset="0.462" stop-color="#653e1e"/><stop offset="0.475" stop-color="#b83b25"/><stop offset="0.479" stop-color="#cd3b26"/><stop offset="0.483" stop-color="#d03b27"/><stop offset="0.487" stop-color="#dc3a28"/><stop offset="0.513" stop-color="#dd3528"/><stop offset="0.538" stop-color="#da2928"/><stop offset="0.572" stop-color="#e21f28"/><stop offset="0.601" stop-color="#d81e26"/><stop offset="0.686" stop-color="#7c1718"/><stop offset="0.703" stop-color="#711616"/><stop offset="0.741" stop-color="#631511"/><stop offset="0.766" stop-color="#6c1719"/><stop offset="0.854" stop-color="#821c1c"/><stop offset="0.880" stop-color="#91261f"/><stop offset="0.964" stop-color="#91261f"/><stop offset="0.973" stop-color="#922920"/><stop offset="0.989" stop-color="#9a3a23"/><stop offset="0.998" stop-color="#9b3c23"/></linearGradient><linearGradient id="g82" gradientUnits="userSpaceOnUse" x1="276" x2="513" y1="0" y2="0"><stop offset="0.002" stop-color="#d2462d"/><stop offset="0.015" stop-color="#d3422c"/><stop offset="0.027" stop-color="#d63229"/><stop offset="0.057" stop-color="#db2528"/><stop offset="0.162" stop-color="#e11e28"/><stop offset="0.230" stop-color="#d01e26"/><stop offset="0.259" stop-color="#a91a1f"/><stop offset="0.268" stop-color="#871519"/><stop offset="0.285" stop-color="#210909"/><stop offset="0.289" stop-color="#100607"/><stop offset="0.293" stop-color="#070505"/><stop offset="0.297" stop-color="#050505"/><stop offset="0.361" stop-color="#050605"/><stop offset="0.386" stop-color="#081008"/><stop offset="0.416" stop-color="#0e240e"/><stop offset="0.454" stop-color="#1e5f22"/><stop offset="0.466" stop-color="#365822"/><stop offset="0.475" stop-color="#5e4921"/><stop offset="0.479" stop-color="#5b5525"/><stop offset="0.483" stop-color="#534f22"/><stop offset="0.492" stop-color="#b73926"/><stop offset="0.496" stop-color="#d53627"/><stop offset="0.500" stop-color="#dc3628"/><stop offset="0.542" stop-color="#db2928"/><stop offset="0.572" stop-color="#e11f28"/><stop offset="0.601" stop-color="#d71e26"/><stop offset="0.665" stop-color="#931a1e"/><stop offset="0.694" stop-color="#791717"/><stop offset="0.741" stop-color="#661513"/><stop offset="0.825" stop-color="#801c1c"/><stop offset="0.850" stop-color="#831c1c"/><stop offset="0.871" stop-color="#90251f"/><stop offset="0.956" stop-color="#91261f"/><stop offset="0.964" stop-color="#92291f"/><stop offset="0.981" stop-color="#9a3922"/><stop offset="0.998" stop-color="#9b3c23"/></linearGradient><linearGradient id="g83" gradientUnits="userSpaceOnUse" x1="276" x2="513" y1="0" y2="0"><stop offset="0.002" stop-color="#d2462d"/><stop offset="0.019" stop-color="#d3432c"/><stop offset="0.040" stop-color="#d82928"/><stop offset="0.053" stop-color="#da2528"/><stop offset="0.099" stop-color="#e11f28"/><stop offset="0.162" stop-color="#e11e28"/><stop offset="0.234" stop-color="#ce1e26"/><stop offset="0.243" stop-color="#c61d25"/><stop offset="0.264" stop-color="#a5191e"/><stop offset="0.268" stop-color="#99181c"/><stop offset="0.272" stop-color="#861519"/><stop offset="0.289" stop-color="#210909"/><stop offset="0.293" stop-color="#100607"/><stop offset="0.297" stop-color="#060505"/><stop offset="0.302" stop-color="#050505"/><stop offset="0.365" stop-color="#050705"/><stop offset="0.407" stop-color="#0c1d0c"/><stop offset="0.420" stop-color="#0f2b10"/><stop offset="0.458" stop-color="#217f2c"/><stop offset="0.466" stop-color="#24832e"/><stop offset="0.475" stop-color="#2b7d2c"/><stop offset="0.479" stop-color="#248d31"/><stop offset="0.483" stop-color="#24892f"/><stop offset="0.487" stop-color="#297c2c"/><stop offset="0.492" stop-color="#3a6727"/><stop offset="0.496" stop-color="#635124"/><stop offset="0.500" stop-color="#9d4324"/><stop offset="0.504" stop-color="#cc3d26"/><stop offset="0.508" stop-color="#de3b26"/><stop offset="0.525" stop-color="#db2d28"/><stop offset="0.572" stop-color="#e11f28"/><stop offset="0.601" stop-color="#d61e26"/><stop offset="0.698" stop-color="#7a1717"/><stop offset="0.736" stop-color="#6a1515"/><stop offset="0.753" stop-color="#6a1615"/><stop offset="0.821" stop-color="#811e1c"/><stop offset="0.846" stop-color="#831c1c"/><stop offset="0.867" stop-color="#90261f"/><stop offset="0.951" stop-color="#91261f"/><stop offset="0.977" stop-color="#9a3b23"/><stop offset="0.998" stop-color="#9b3c23"/></linearGradient><linearGradient id="g84" gradientUnits="userSpaceOnUse" x1="276" x2="513" y1="0" y2="0"><stop offset="0.002" stop-color="#d2462d"/><stop offset="0.023" stop-color="#d3422c"/><stop offset="0.036" stop-color="#d62d29"/><stop offset="0.049" stop-color="#d92528"/><stop offset="0.099" stop-color="#e01e28"/><stop offset="0.162" stop-color="#e01e28"/><stop offset="0.238" stop-color="#ca1e25"/><stop offset="0.247" stop-color="#c11d24"/><stop offset="0.272" stop-color="#99181c"/><stop offset="0.276" stop-color="#881619"/><stop offset="0.293" stop-color="#25090a"/><stop offset="0.297" stop-color="#130707"/><stop offset="0.302" stop-color="#080505"/><stop offset="0.306" stop-color="#050505"/><stop offset="0.365" stop-color="#050705"/><stop offset="0.411" stop-color="#0d200d"/><stop offset="0.424" stop-color="#123614"/><stop offset="0.449" stop-color="#20792a"/><stop offset="0.462" stop-color="#269433"/><stop offset="0.470" stop-color="#279c36"/><stop offset="0.487" stop-color="#279d36"/><stop offset="0.492" stop-color="#279b35"/><stop offset="0.496" stop-color="#288f32"/><stop offset="0.500" stop-color="#32782b"/><stop offset="0.504" stop-color="#546026"/><stop offset="0.508" stop-color="#915023"/><stop offset="0.513" stop-color="#ca4924"/><stop offset="0.517" stop-color="#e04325"/><stop offset="0.534" stop-color="#db2a28"/><stop offset="0.572" stop-color="#e01f28"/><stop offset="0.601" stop-color="#d51e26"/><stop offset="0.703" stop-color="#7b1717"/><stop offset="0.732" stop-color="#6f1618"/><stop offset="0.762" stop-color="#6e1617"/><stop offset="0.808" stop-color="#7f1c1b"/><stop offset="0.846" stop-color="#851e1d"/><stop offset="0.863" stop-color="#90261f"/><stop offset="0.943" stop-color="#91261f"/><stop offset="0.973" stop-color="#9b3b23"/><stop offset="0.998" stop-color="#9b3c23"/></linearGradient><linearGradient id="g85" gradientUnits="userSpaceOnUse" x1="276" x2="513" y1="0" y2="0"><stop offset="0.002" stop-color="#d2462d"/><stop offset="0.023" stop-color="#d2442d"/><stop offset="0.040" stop-color="#d72929"/><stop offset="0.053" stop-color="#d92328"/><stop offset="0.158" stop-color="#df1e28"/><stop offset="0.238" stop-color="#c71d25"/><stop offset="0.251" stop-color="#bc1c23"/><stop offset="0.276" stop-color="#97171b"/><stop offset="0.281" stop-color="#8c1619"/><stop offset="0.285" stop-color="#781316"/><stop offset="0.302" stop-color="#190808"/><stop offset="0.306" stop-color="#0b0606"/><stop offset="0.314" stop-color="#050505"/><stop offset="0.365" stop-color="#050705"/><stop offset="0.411" stop-color="#0d200d"/><stop offset="0.424" stop-color="#123614"/><stop offset="0.454" stop-color="#23862e"/><stop offset="0.466" stop-color="#279d36"/><stop offset="0.496" stop-color="#28a037"/><stop offset="0.500" stop-color="#289e36"/><stop offset="0.504" stop-color="#2b9332"/><stop offset="0.508" stop-color="#438229"/><stop offset="0.513" stop-color="#6e7422"/><stop offset="0.521" stop-color="#d25423"/><stop offset="0.525" stop-color="#e14824"/><stop offset="0.538" stop-color="#db2b28"/><stop offset="0.572" stop-color="#df1f28"/><stop offset="0.614" stop-color="#cd1e25"/><stop offset="0.707" stop-color="#7d1718"/><stop offset="0.728" stop-color="#74171a"/><stop offset="0.770" stop-color="#721718"/><stop offset="0.812" stop-color="#821c1c"/><stop offset="0.842" stop-color="#86201d"/><stop offset="0.863" stop-color="#91261f"/><stop offset="0.939" stop-color="#91261f"/><stop offset="0.964" stop-color="#9a3b23"/><stop offset="0.998" stop-color="#9b3c23"/></linearGradient><linearGradient id="g86" gradientUnits="userSpaceOnUse" x1="276" x2="513" y1="0" y2="0"><stop offset="0.002" stop-color="#d2462d"/><stop offset="0.023" stop-color="#d2442d"/><stop offset="0.044" stop-color="#d72628"/><stop offset="0.057" stop-color="#d92128"/><stop offset="0.158" stop-color="#dd1e28"/><stop offset="0.209" stop-color="#d11e27"/><stop offset="0.243" stop-color="#c21d24"/><stop offset="0.255" stop-color="#b71b22"/><stop offset="0.285" stop-color="#8e1619"/><stop offset="0.293" stop-color="#6c1214"/><stop offset="0.306" stop-color="#25090a"/><stop offset="0.310" stop-color="#130707"/><stop offset="0.314" stop-color="#080505"/><stop offset="0.319" stop-color="#050505"/><stop offset="0.365" stop-color="#050705"/><stop offset="0.411" stop-color="#0d200d"/><stop offset="0.424" stop-color="#123614"/><stop offset="0.449" stop-color="#207b2b"/><stop offset="0.462" stop-color="#269734"/><stop offset="0.470" stop-color="#28a037"/><stop offset="0.500" stop-color="#2aa137"/><stop offset="0.504" stop-color="#3aa634"/><stop offset="0.513" stop-color="#78ac25"/><stop offset="0.517" stop-color="#94a71e"/><stop offset="0.521" stop-color="#9f8f1d"/><stop offset="0.525" stop-color="#bb6a20"/><stop offset="0.530" stop-color="#dc5023"/><stop offset="0.534" stop-color="#e04525"/><stop offset="0.546" stop-color="#da2928"/><stop offset="0.572" stop-color="#de1f28"/><stop offset="0.618" stop-color="#ca1e25"/><stop offset="0.707" stop-color="#821818"/><stop offset="0.732" stop-color="#77171b"/><stop offset="0.774" stop-color="#751819"/><stop offset="0.863" stop-color="#90261f"/><stop offset="0.930" stop-color="#91261f"/><stop offset="0.960" stop-color="#9b3b23"/><stop offset="0.998" stop-color="#9b3c23"/></linearGradient><linearGradient id="g87" gradientUnits="userSpaceOnUse" x1="276" x2="513" y1="0" y2="0"><stop offset="0.002" stop-color="#d2462d"/><stop offset="0.027" stop-color="#d33c2c"/><stop offset="0.049" stop-color="#d82328"/><stop offset="0.057" stop-color="#d92028"/><stop offset="0.150" stop-color="#dc1e28"/><stop offset="0.196" stop-color="#d31e27"/><stop offset="0.243" stop-color="#bf1d24"/><stop offset="0.264" stop-color="#ad1a20"/><stop offset="0.293" stop-color="#851518"/><stop offset="0.297" stop-color="#761315"/><stop offset="0.314" stop-color="#210909"/><stop offset="0.319" stop-color="#110607"/><stop offset="0.327" stop-color="#050505"/><stop offset="0.369" stop-color="#060806"/><stop offset="0.411" stop-color="#0d200d"/><stop offset="0.424" stop-color="#123614"/><stop offset="0.449" stop-color="#207b2b"/><stop offset="0.462" stop-color="#269734"/><stop offset="0.470" stop-color="#28a037"/><stop offset="0.500" stop-color="#2ca136"/><stop offset="0.504" stop-color="#3fa733"/><stop offset="0.508" stop-color="#67b42c"/><stop offset="0.513" stop-color="#99c424"/><stop offset="0.517" stop-color="#c0cd1c"/><stop offset="0.521" stop-color="#d3cf18"/><stop offset="0.525" stop-color="#bbb41a"/><stop offset="0.530" stop-color="#b0801e"/><stop offset="0.534" stop-color="#d35822"/><stop offset="0.538" stop-color="#e14924"/><stop offset="0.551" stop-color="#db2a28"/><stop offset="0.568" stop-color="#dd2128"/><stop offset="0.627" stop-color="#c51e24"/><stop offset="0.711" stop-color="#841819"/><stop offset="0.736" stop-color="#7a181b"/><stop offset="0.774" stop-color="#781819"/><stop offset="0.867" stop-color="#90271f"/><stop offset="0.926" stop-color="#91271f"/><stop offset="0.951" stop-color="#9a3b23"/><stop offset="0.998" stop-color="#9b3c23"/></linearGradient><linearGradient id="g88" gradientUnits="userSpaceOnUse" x1="276" x2="513" y1="0" y2="0"><stop offset="0.002" stop-color="#d3412c"/><stop offset="0.023" stop-color="#d52c2a"/><stop offset="0.040" stop-color="#d52e2a"/><stop offset="0.057" stop-color="#d81f28"/><stop offset="0.120" stop-color="#dd1e28"/><stop offset="0.171" stop-color="#d71e28"/><stop offset="0.247" stop-color="#ba1c24"/><stop offset="0.268" stop-color="#a81a1f"/><stop offset="0.302" stop-color="#7d1416"/><stop offset="0.310" stop-color="#5e1012"/><stop offset="0.323" stop-color="#200909"/><stop offset="0.327" stop-color="#110707"/><stop offset="0.335" stop-color="#050505"/><stop offset="0.369" stop-color="#060806"/><stop offset="0.411" stop-color="#0d200d"/><stop offset="0.424" stop-color="#123614"/><stop offset="0.449" stop-color="#207b2b"/><stop offset="0.462" stop-color="#269734"/><stop offset="0.470" stop-color="#28a037"/><stop offset="0.500" stop-color="#29a037"/><stop offset="0.504" stop-color="#36a435"/><stop offset="0.508" stop-color="#5cb12e"/><stop offset="0.517" stop-color="#d3d61a"/><stop offset="0.521" stop-color="#f0df15"/><stop offset="0.525" stop-color="#efde15"/><stop offset="0.530" stop-color="#c5bf19"/><stop offset="0.534" stop-color="#ac891d"/><stop offset="0.538" stop-color="#cc5c22"/><stop offset="0.542" stop-color="#e14b24"/><stop offset="0.555" stop-color="#db2a27"/><stop offset="0.568" stop-color="#db2128"/><stop offset="0.631" stop-color="#c31e24"/><stop offset="0.711" stop-color="#89191a"/><stop offset="0.741" stop-color="#7e191c"/><stop offset="0.778" stop-color="#7c191a"/><stop offset="0.867" stop-color="#90271f"/><stop offset="0.918" stop-color="#91261f"/><stop offset="0.947" stop-color="#9b3b23"/><stop offset="0.998" stop-color="#9b3c23"/></linearGradient><linearGradient id="g89" gradientUnits="userSpaceOnUse" x1="276" x2="513" y1="0" y2="0"><stop offset="0.002" stop-color="#d52f2a"/><stop offset="0.023" stop-color="#d72028"/><stop offset="0.040" stop-color="#d42e2a"/><stop offset="0.057" stop-color="#d81f28"/><stop offset="0.129" stop-color="#db1e28"/><stop offset="0.188" stop-color="#d21e28"/><stop offset="0.247" stop-color="#b81c24"/><stop offset="0.310" stop-color="#7b1416"/><stop offset="0.319" stop-color="#5f1012"/><stop offset="0.335" stop-color="#140707"/><stop offset="0.340" stop-color="#090606"/><stop offset="0.348" stop-color="#050505"/><stop offset="0.373" stop-color="#060a06"/><stop offset="0.411" stop-color="#0d200d"/><stop offset="0.424" stop-color="#123614"/><stop offset="0.449" stop-color="#207b2b"/><stop offset="0.462" stop-color="#269734"/><stop offset="0.470" stop-color="#28a037"/><stop offset="0.504" stop-color="#2ba136"/><stop offset="0.508" stop-color="#48aa32"/><stop offset="0.513" stop-color="#80bc28"/><stop offset="0.517" stop-color="#c0d01d"/><stop offset="0.521" stop-color="#ecde16"/><stop offset="0.525" stop-color="#f5e114"/><stop offset="0.530" stop-color="#eddd15"/><stop offset="0.534" stop-color="#c1bc19"/><stop offset="0.538" stop-color="#ab861d"/><stop offset="0.542" stop-color="#ce5b22"/><stop offset="0.546" stop-color="#e14b24"/><stop offset="0.559" stop-color="#da2927"/><stop offset="0.568" stop-color="#da2128"/><stop offset="0.584" stop-color="#d71e27"/><stop offset="0.639" stop-color="#bf1e23"/><stop offset="0.707" stop-color="#901a1a"/><stop offset="0.745" stop-color="#811a1c"/><stop offset="0.778" stop-color="#7f1a1a"/><stop offset="0.867" stop-color="#90261f"/><stop offset="0.914" stop-color="#91271f"/><stop offset="0.939" stop-color="#9a3b23"/><stop offset="0.998" stop-color="#9b3c23"/></linearGradient><linearGradient id="g90" gradientUnits="userSpaceOnUse" x1="276" x2="513" y1="0" y2="0"><stop offset="0.002" stop-color="#d72028"/><stop offset="0.027" stop-color="#d71f28"/><stop offset="0.040" stop-color="#d42c29"/><stop offset="0.061" stop-color="#d71e28"/><stop offset="0.129" stop-color="#d91e28"/><stop offset="0.188" stop-color="#d01e28"/><stop offset="0.251" stop-color="#b31c23"/><stop offset="0.302" stop-color="#831417"/><stop offset="0.319" stop-color="#7d1416"/><stop offset="0.327" stop-color="#651113"/><stop offset="0.344" stop-color="#1a0808"/><stop offset="0.348" stop-color="#0d0606"/><stop offset="0.357" stop-color="#050505"/><stop offset="0.382" stop-color="#070e07"/><stop offset="0.416" stop-color="#0e250e"/><stop offset="0.428" stop-color="#144117"/><stop offset="0.454" stop-color="#23862e"/><stop offset="0.466" stop-color="#279d36"/><stop offset="0.504" stop-color="#28a037"/><stop offset="0.508" stop-color="#3aa634"/><stop offset="0.513" stop-color="#69b52c"/><stop offset="0.521" stop-color="#d7d719"/><stop offset="0.525" stop-color="#f3e014"/><stop offset="0.530" stop-color="#f5e114"/><stop offset="0.534" stop-color="#e2d616"/><stop offset="0.538" stop-color="#b4ac1b"/><stop offset="0.542" stop-color="#b0771f"/><stop offset="0.546" stop-color="#d85323"/><stop offset="0.551" stop-color="#df4724"/><stop offset="0.559" stop-color="#d93027"/><stop offset="0.568" stop-color="#d72228"/><stop offset="0.589" stop-color="#d51f28"/><stop offset="0.648" stop-color="#bc1f23"/><stop offset="0.707" stop-color="#931b1c"/><stop offset="0.745" stop-color="#851b1d"/><stop offset="0.783" stop-color="#831c1b"/><stop offset="0.884" stop-color="#922a20"/><stop offset="0.909" stop-color="#92271f"/><stop offset="0.935" stop-color="#9b3b23"/><stop offset="0.998" stop-color="#9b3c23"/></linearGradient><linearGradient id="g91" gradientUnits="userSpaceOnUse" x1="276" x2="513" y1="0" y2="0"><stop offset="0.002" stop-color="#d71e28"/><stop offset="0.027" stop-color="#d71f28"/><stop offset="0.044" stop-color="#d42b29"/><stop offset="0.061" stop-color="#d61e28"/><stop offset="0.112" stop-color="#d91e28"/><stop offset="0.158" stop-color="#d31e28"/><stop offset="0.192" stop-color="#cc1d27"/><stop offset="0.251" stop-color="#b21b23"/><stop offset="0.302" stop-color="#871519"/><stop offset="0.327" stop-color="#811417"/><stop offset="0.335" stop-color="#6e1214"/><stop offset="0.357" stop-color="#160708"/><stop offset="0.361" stop-color="#0b0606"/><stop offset="0.369" stop-color="#060806"/><stop offset="0.416" stop-color="#0e250e"/><stop offset="0.428" stop-color="#144117"/><stop offset="0.454" stop-color="#23862e"/><stop offset="0.466" stop-color="#279d36"/><stop offset="0.504" stop-color="#28a037"/><stop offset="0.508" stop-color="#37a534"/><stop offset="0.513" stop-color="#60b22d"/><stop offset="0.521" stop-color="#cad31b"/><stop offset="0.525" stop-color="#eedf15"/><stop offset="0.530" stop-color="#f5e114"/><stop offset="0.534" stop-color="#f0df15"/><stop offset="0.538" stop-color="#c6c219"/><stop offset="0.542" stop-color="#a98e1d"/><stop offset="0.546" stop-color="#c36021"/><stop offset="0.551" stop-color="#df4d24"/><stop offset="0.563" stop-color="#d62b27"/><stop offset="0.572" stop-color="#d52128"/><stop offset="0.605" stop-color="#cf2027"/><stop offset="0.665" stop-color="#b42023"/><stop offset="0.711" stop-color="#951d1d"/><stop offset="0.749" stop-color="#891d1e"/><stop offset="0.783" stop-color="#871d1c"/><stop offset="0.905" stop-color="#932a20"/><stop offset="0.930" stop-color="#9b3c23"/><stop offset="0.998" stop-color="#9b3c23"/></linearGradient><linearGradient id="g92" gradientUnits="userSpaceOnUse" x1="276" x2="513" y1="0" y2="0"><stop offset="0.002" stop-color="#d71e28"/><stop offset="0.032" stop-color="#d71f28"/><stop offset="0.044" stop-color="#d42a29"/><stop offset="0.065" stop-color="#d61e28"/><stop offset="0.120" stop-color="#d61e28"/><stop offset="0.184" stop-color="#cc1d27"/><stop offset="0.255" stop-color="#ae1b22"/><stop offset="0.297" stop-color="#8c161a"/><stop offset="0.335" stop-color="#861518"/><stop offset="0.340" stop-color="#821517"/><stop offset="0.348" stop-color="#6c1214"/><stop offset="0.369" stop-color="#160a08"/><stop offset="0.373" stop-color="#0d0a07"/><stop offset="0.382" stop-color="#080e07"/><stop offset="0.416" stop-color="#0e250f"/><stop offset="0.437" stop-color="#1a4b34"/><stop offset="0.445" stop-color="#1e5c3c"/><stop offset="0.470" stop-color="#289b39"/><stop offset="0.479" stop-color="#28a037"/><stop offset="0.504" stop-color="#2aa137"/><stop offset="0.508" stop-color="#40a733"/><stop offset="0.513" stop-color="#69b52c"/><stop offset="0.521" stop-color="#ccd41b"/><stop offset="0.525" stop-color="#eedf15"/><stop offset="0.530" stop-color="#f5e114"/><stop offset="0.534" stop-color="#f2e014"/><stop offset="0.538" stop-color="#cdc818"/><stop offset="0.542" stop-color="#aa981c"/><stop offset="0.546" stop-color="#b96820"/><stop offset="0.551" stop-color="#dc4f23"/><stop offset="0.563" stop-color="#d42e27"/><stop offset="0.572" stop-color="#d22228"/><stop offset="0.605" stop-color="#cf2127"/><stop offset="0.669" stop-color="#b42023"/><stop offset="0.715" stop-color="#961e1e"/><stop offset="0.757" stop-color="#8c1e1f"/><stop offset="0.863" stop-color="#912520"/><stop offset="0.905" stop-color="#962f21"/><stop offset="0.926" stop-color="#9b3c23"/><stop offset="0.998" stop-color="#9b3c23"/></linearGradient><linearGradient id="g93" gradientUnits="userSpaceOnUse" x1="276" x2="513" y1="0" y2="0"><stop offset="0.002" stop-color="#d71e28"/><stop offset="0.032" stop-color="#d61f28"/><stop offset="0.049" stop-color="#d32a29"/><stop offset="0.070" stop-color="#d51e28"/><stop offset="0.124" stop-color="#d31e28"/><stop offset="0.179" stop-color="#ca1d27"/><stop offset="0.255" stop-color="#ac1b22"/><stop offset="0.302" stop-color="#8d161b"/><stop offset="0.348" stop-color="#8a1619"/><stop offset="0.357" stop-color="#7b1417"/><stop offset="0.382" stop-color="#1b0f0a"/><stop offset="0.390" stop-color="#0d1309"/><stop offset="0.399" stop-color="#0a180a"/><stop offset="0.411" stop-color="#0d200e"/><stop offset="0.416" stop-color="#0f2516"/><stop offset="0.428" stop-color="#183241"/><stop offset="0.437" stop-color="#1c335b"/><stop offset="0.449" stop-color="#1f326c"/><stop offset="0.458" stop-color="#203c69"/><stop offset="0.462" stop-color="#214764"/><stop offset="0.483" stop-color="#27933e"/><stop offset="0.492" stop-color="#289f37"/><stop offset="0.500" stop-color="#2aa137"/><stop offset="0.504" stop-color="#3aa634"/><stop offset="0.508" stop-color="#5bb02e"/><stop offset="0.521" stop-color="#dcd918"/><stop offset="0.525" stop-color="#f3e014"/><stop offset="0.530" stop-color="#f5e114"/><stop offset="0.534" stop-color="#eedd15"/><stop offset="0.538" stop-color="#c6c219"/><stop offset="0.542" stop-color="#a8931c"/><stop offset="0.546" stop-color="#ba6620"/><stop offset="0.551" stop-color="#db4e23"/><stop offset="0.563" stop-color="#d22f27"/><stop offset="0.572" stop-color="#cf2228"/><stop offset="0.610" stop-color="#cd2128"/><stop offset="0.677" stop-color="#b12123"/><stop offset="0.715" stop-color="#9a1f20"/><stop offset="0.770" stop-color="#8f1f1f"/><stop offset="0.867" stop-color="#932621"/><stop offset="0.935" stop-color="#9b3c23"/><stop offset="0.998" stop-color="#9b3c23"/></linearGradient><linearGradient id="g94" gradientUnits="userSpaceOnUse" x1="276" x2="513" y1="0" y2="0"><stop offset="0.002" stop-color="#d61e28"/><stop offset="0.032" stop-color="#d41e28"/><stop offset="0.049" stop-color="#d22a29"/><stop offset="0.070" stop-color="#d41e28"/><stop offset="0.150" stop-color="#ce1e28"/><stop offset="0.205" stop-color="#c01c26"/><stop offset="0.310" stop-color="#8c161b"/><stop offset="0.361" stop-color="#90171a"/><stop offset="0.369" stop-color="#811619"/><stop offset="0.395" stop-color="#25160d"/><stop offset="0.403" stop-color="#141a0c"/><stop offset="0.411" stop-color="#0f200d"/><stop offset="0.416" stop-color="#0f2512"/><stop offset="0.420" stop-color="#112b1e"/><stop offset="0.428" stop-color="#183242"/><stop offset="0.441" stop-color="#1e2771"/><stop offset="0.449" stop-color="#1e1e7d"/><stop offset="0.462" stop-color="#1e1f7d"/><stop offset="0.470" stop-color="#1f2c76"/><stop offset="0.475" stop-color="#203b6d"/><stop offset="0.492" stop-color="#288c42"/><stop offset="0.496" stop-color="#329c39"/><stop offset="0.500" stop-color="#48a932"/><stop offset="0.504" stop-color="#68b42c"/><stop offset="0.517" stop-color="#d9d819"/><stop offset="0.521" stop-color="#f0df15"/><stop offset="0.525" stop-color="#f5e114"/><stop offset="0.530" stop-color="#f3e014"/><stop offset="0.534" stop-color="#dad117"/><stop offset="0.538" stop-color="#b4ad1a"/><stop offset="0.542" stop-color="#aa7f1e"/><stop offset="0.546" stop-color="#c65a21"/><stop offset="0.551" stop-color="#da4b23"/><stop offset="0.563" stop-color="#cf2e27"/><stop offset="0.572" stop-color="#cc2328"/><stop offset="0.618" stop-color="#ca2228"/><stop offset="0.715" stop-color="#9e2121"/><stop offset="0.778" stop-color="#922120"/><stop offset="0.871" stop-color="#942722"/><stop offset="0.939" stop-color="#9b3b23"/><stop offset="0.998" stop-color="#9b3c23"/></linearGradient><linearGradient id="g95" gradientUnits="userSpaceOnUse" x1="276" x2="513" y1="0" y2="0"><stop offset="0.002" stop-color="#d41e28"/><stop offset="0.036" stop-color="#d21f28"/><stop offset="0.053" stop-color="#d22928"/><stop offset="0.074" stop-color="#d21e28"/><stop offset="0.137" stop-color="#ce1e28"/><stop offset="0.188" stop-color="#c31d27"/><stop offset="0.314" stop-color="#8d161b"/><stop offset="0.373" stop-color="#97181c"/><stop offset="0.382" stop-color="#8b181b"/><stop offset="0.407" stop-color="#341b10"/><stop offset="0.416" stop-color="#222210"/><stop offset="0.420" stop-color="#102d12"/><stop offset="0.428" stop-color="#163c26"/><stop offset="0.437" stop-color="#1b3f47"/><stop offset="0.445" stop-color="#1e3564"/><stop offset="0.454" stop-color="#1e2875"/><stop offset="0.462" stop-color="#1e247a"/><stop offset="0.470" stop-color="#1f2877"/><stop offset="0.475" stop-color="#203173"/><stop offset="0.483" stop-color="#295361"/><stop offset="0.487" stop-color="#346a54"/><stop offset="0.492" stop-color="#498346"/><stop offset="0.496" stop-color="#669e38"/><stop offset="0.504" stop-color="#afca20"/><stop offset="0.513" stop-color="#e6dc17"/><stop offset="0.517" stop-color="#f3e014"/><stop offset="0.521" stop-color="#f5e114"/><stop offset="0.525" stop-color="#f1df14"/><stop offset="0.530" stop-color="#dad117"/><stop offset="0.534" stop-color="#b7b11a"/><stop offset="0.538" stop-color="#a8881d"/><stop offset="0.542" stop-color="#bb6320"/><stop offset="0.546" stop-color="#d64e23"/><stop offset="0.563" stop-color="#cc2a27"/><stop offset="0.572" stop-color="#c92328"/><stop offset="0.622" stop-color="#c72328"/><stop offset="0.711" stop-color="#a32222"/><stop offset="0.783" stop-color="#952221"/><stop offset="0.871" stop-color="#952822"/><stop offset="0.943" stop-color="#9b3c23"/><stop offset="0.998" stop-color="#9c3d23"/></linearGradient><linearGradient id="g96" gradientUnits="userSpaceOnUse" x1="276" x2="513" y1="0" y2="0"><stop offset="0.002" stop-color="#d21e28"/><stop offset="0.036" stop-color="#d21e28"/><stop offset="0.053" stop-color="#d12928"/><stop offset="0.074" stop-color="#d11f28"/><stop offset="0.146" stop-color="#ca1e28"/><stop offset="0.205" stop-color="#bc1c26"/><stop offset="0.319" stop-color="#8e171c"/><stop offset="0.386" stop-color="#9d191e"/><stop offset="0.395" stop-color="#95191d"/><stop offset="0.411" stop-color="#641b17"/><stop offset="0.416" stop-color="#17230f"/><stop offset="0.424" stop-color="#133614"/><stop offset="0.432" stop-color="#174c1c"/><stop offset="0.441" stop-color="#1c5d2d"/><stop offset="0.458" stop-color="#276052"/><stop offset="0.470" stop-color="#3e6557"/><stop offset="0.479" stop-color="#5a774d"/><stop offset="0.483" stop-color="#6e8745"/><stop offset="0.500" stop-color="#d9d31c"/><stop offset="0.504" stop-color="#ecde16"/><stop offset="0.513" stop-color="#f5e114"/><stop offset="0.517" stop-color="#f1df14"/><stop offset="0.521" stop-color="#e3d616"/><stop offset="0.525" stop-color="#c7c119"/><stop offset="0.530" stop-color="#aea11b"/><stop offset="0.534" stop-color="#ab7d1e"/><stop offset="0.538" stop-color="#bf5e20"/><stop offset="0.542" stop-color="#d44d22"/><stop offset="0.559" stop-color="#c92c26"/><stop offset="0.568" stop-color="#c62327"/><stop offset="0.622" stop-color="#c52327"/><stop offset="0.703" stop-color="#a62323"/><stop offset="0.787" stop-color="#972321"/><stop offset="0.876" stop-color="#972923"/><stop offset="0.939" stop-color="#9b3c23"/><stop offset="0.977" stop-color="#9c3e23"/><stop offset="0.998" stop-color="#9f4523"/></linearGradient><linearGradient id="g97" gradientUnits="userSpaceOnUse" x1="276" x2="513" y1="0" y2="0"><stop offset="0.002" stop-color="#d12328"/><stop offset="0.040" stop-color="#d22028"/><stop offset="0.057" stop-color="#d12828"/><stop offset="0.078" stop-color="#ce1f28"/><stop offset="0.141" stop-color="#c81f28"/><stop offset="0.200" stop-color="#bb1d26"/><stop offset="0.319" stop-color="#90181d"/><stop offset="0.403" stop-color="#a01a1f"/><stop offset="0.407" stop-color="#9e1a1e"/><stop offset="0.420" stop-color="#582117"/><stop offset="0.428" stop-color="#343317"/><stop offset="0.437" stop-color="#234d1d"/><stop offset="0.445" stop-color="#206925"/><stop offset="0.449" stop-color="#237729"/><stop offset="0.454" stop-color="#2d862d"/><stop offset="0.458" stop-color="#3f952e"/><stop offset="0.462" stop-color="#58a32e"/><stop offset="0.475" stop-color="#b7c522"/><stop offset="0.479" stop-color="#d2ce1e"/><stop offset="0.487" stop-color="#eada18"/><stop offset="0.496" stop-color="#f4e014"/><stop offset="0.500" stop-color="#f3e014"/><stop offset="0.508" stop-color="#e2d616"/><stop offset="0.513" stop-color="#d0c818"/><stop offset="0.521" stop-color="#ad981c"/><stop offset="0.525" stop-color="#ac7c1e"/><stop offset="0.530" stop-color="#ba6220"/><stop offset="0.534" stop-color="#cd5122"/><stop offset="0.538" stop-color="#d34823"/><stop offset="0.555" stop-color="#c62b26"/><stop offset="0.563" stop-color="#c22327"/><stop offset="0.622" stop-color="#c02327"/><stop offset="0.690" stop-color="#a62323"/><stop offset="0.778" stop-color="#982421"/><stop offset="0.880" stop-color="#992c23"/><stop offset="0.998" stop-color="#a44e23"/></linearGradient><linearGradient id="g98" gradientUnits="userSpaceOnUse" x1="276" x2="513" y1="0" y2="0"><stop offset="0.002" stop-color="#ce2d28"/><stop offset="0.057" stop-color="#d02a28"/><stop offset="0.078" stop-color="#cd2029"/><stop offset="0.141" stop-color="#c61f28"/><stop offset="0.200" stop-color="#b91d26"/><stop offset="0.314" stop-color="#93191e"/><stop offset="0.344" stop-color="#93191d"/><stop offset="0.416" stop-color="#a21b20"/><stop offset="0.424" stop-color="#9d1c1f"/><stop offset="0.437" stop-color="#7b271e"/><stop offset="0.445" stop-color="#5c391f"/><stop offset="0.454" stop-color="#4b5222"/><stop offset="0.458" stop-color="#4e6323"/><stop offset="0.462" stop-color="#597523"/><stop offset="0.475" stop-color="#9aa51e"/><stop offset="0.479" stop-color="#aaae1c"/><stop offset="0.487" stop-color="#bcb61a"/><stop offset="0.496" stop-color="#b9ac1a"/><stop offset="0.500" stop-color="#b2a01b"/><stop offset="0.508" stop-color="#a87d1d"/><stop offset="0.513" stop-color="#ab6a1f"/><stop offset="0.521" stop-color="#c34e21"/><stop offset="0.530" stop-color="#cf4223"/><stop offset="0.551" stop-color="#c12826"/><stop offset="0.559" stop-color="#bf2326"/><stop offset="0.622" stop-color="#bb2326"/><stop offset="0.681" stop-color="#a62323"/><stop offset="0.770" stop-color="#992521"/><stop offset="0.888" stop-color="#9b3023"/><stop offset="0.977" stop-color="#a44e23"/><stop offset="0.998" stop-color="#a55023"/></linearGradient><linearGradient id="g99" gradientUnits="userSpaceOnUse" x1="276" x2="513" y1="0" y2="0"><stop offset="0.002" stop-color="#cd3228"/><stop offset="0.049" stop-color="#ce3028"/><stop offset="0.078" stop-color="#cb2229"/><stop offset="0.137" stop-color="#c52028"/><stop offset="0.302" stop-color="#971a1f"/><stop offset="0.335" stop-color="#941a1e"/><stop offset="0.416" stop-color="#9f1c20"/><stop offset="0.445" stop-color="#a71d21"/><stop offset="0.462" stop-color="#9d2521"/><stop offset="0.475" stop-color="#9b3021"/><stop offset="0.487" stop-color="#a53521"/><stop offset="0.508" stop-color="#bf3023"/><stop offset="0.517" stop-color="#c33223"/><stop offset="0.551" stop-color="#bb2325"/><stop offset="0.622" stop-color="#b62325"/><stop offset="0.669" stop-color="#a62323"/><stop offset="0.762" stop-color="#992521"/><stop offset="0.897" stop-color="#9d3523"/><stop offset="0.968" stop-color="#a44e23"/><stop offset="0.998" stop-color="#a55023"/></linearGradient><linearGradient id="g100" gradientUnits="userSpaceOnUse" x1="276" x2="513" y1="0" y2="0"><stop offset="0.002" stop-color="#cd3228"/><stop offset="0.053" stop-color="#cd3128"/><stop offset="0.078" stop-color="#ca2329"/><stop offset="0.137" stop-color="#c32128"/><stop offset="0.297" stop-color="#9a1b21"/><stop offset="0.348" stop-color="#961b1f"/><stop offset="0.428" stop-color="#9e1c20"/><stop offset="0.517" stop-color="#b82523"/><stop offset="0.622" stop-color="#b12325"/><stop offset="0.660" stop-color="#a52323"/><stop offset="0.753" stop-color="#9a2621"/><stop offset="0.901" stop-color="#9f3823"/><stop offset="0.964" stop-color="#a44e23"/><stop offset="0.998" stop-color="#a55023"/></linearGradient><linearGradient id="g101" gradientUnits="userSpaceOnUse" x1="276" x2="513" y1="0" y2="0"><stop offset="0.002" stop-color="#cd3228"/><stop offset="0.053" stop-color="#cd3128"/><stop offset="0.082" stop-color="#c8242a"/><stop offset="0.141" stop-color="#c02228"/><stop offset="0.297" stop-color="#9c1c21"/><stop offset="0.357" stop-color="#991c20"/><stop offset="0.437" stop-color="#9d1d20"/><stop offset="0.530" stop-color="#b42324"/><stop offset="0.745" stop-color="#9b2621"/><stop offset="0.850" stop-color="#9e3223"/><stop offset="0.926" stop-color="#a23f23"/><stop offset="0.968" stop-color="#a55023"/><stop offset="0.998" stop-color="#a55023"/></linearGradient><linearGradient id="g102" gradientUnits="userSpaceOnUse" x1="276" x2="513" y1="0" y2="0"><stop offset="0.002" stop-color="#cd3228"/><stop offset="0.049" stop-color="#cd3128"/><stop offset="0.082" stop-color="#c7252a"/><stop offset="0.293" stop-color="#9e1e22"/><stop offset="0.365" stop-color="#9b1d21"/><stop offset="0.445" stop-color="#9c1e21"/><stop offset="0.525" stop-color="#b12323"/><stop offset="0.736" stop-color="#9b2721"/><stop offset="0.842" stop-color="#a03323"/><stop offset="0.935" stop-color="#a44323"/><stop offset="0.968" stop-color="#a54f23"/><stop offset="0.998" stop-color="#a55023"/></linearGradient><linearGradient id="g103" gradientUnits="userSpaceOnUse" x1="276" x2="513" y1="0" y2="0"><stop offset="0.002" stop-color="#cd3228"/><stop offset="0.040" stop-color="#cd3128"/><stop offset="0.082" stop-color="#c6262a"/><stop offset="0.285" stop-color="#a11f23"/><stop offset="0.373" stop-color="#9c1f21"/><stop offset="0.454" stop-color="#9d1f21"/><stop offset="0.525" stop-color="#ae2423"/><stop offset="0.728" stop-color="#9c2821"/><stop offset="0.998" stop-color="#a55023"/></linearGradient><linearGradient id="g104" gradientUnits="userSpaceOnUse" x1="276" x2="513" y1="0" y2="0"><stop offset="0.002" stop-color="#cd3228"/><stop offset="0.032" stop-color="#cd3128"/><stop offset="0.057" stop-color="#c8282b"/><stop offset="0.276" stop-color="#a22024"/><stop offset="0.361" stop-color="#9d2022"/><stop offset="0.454" stop-color="#9e2122"/><stop offset="0.525" stop-color="#ac2623"/><stop offset="0.728" stop-color="#9e2b22"/><stop offset="0.956" stop-color="#a54623"/><stop offset="0.977" stop-color="#a54f23"/><stop offset="0.998" stop-color="#a55023"/></linearGradient><linearGradient id="g105" gradientUnits="userSpaceOnUse" x1="276" x2="513" y1="0" y2="0"><stop offset="0.002" stop-color="#cd3228"/><stop offset="0.023" stop-color="#cd3128"/><stop offset="0.053" stop-color="#c8272b"/><stop offset="0.268" stop-color="#a42224"/><stop offset="0.352" stop-color="#9e2122"/><stop offset="0.454" stop-color="#a02222"/><stop offset="0.517" stop-color="#ab2723"/><stop offset="0.724" stop-color="#a02d22"/><stop offset="0.901" stop-color="#a54523"/><stop offset="0.960" stop-color="#a54623"/><stop offset="0.998" stop-color="#a55023"/></linearGradient><linearGradient id="g106" gradientUnits="userSpaceOnUse" x1="276" x2="513" y1="0" y2="0"><stop offset="0.002" stop-color="#cc3228"/><stop offset="0.044" stop-color="#c62a2b"/><stop offset="0.340" stop-color="#9e2322"/><stop offset="0.449" stop-color="#a12422"/><stop offset="0.504" stop-color="#a92723"/><stop offset="0.724" stop-color="#a13022"/><stop offset="0.880" stop-color="#a84223"/><stop offset="0.901" stop-color="#a54623"/><stop offset="0.964" stop-color="#a54623"/><stop offset="0.998" stop-color="#a55023"/></linearGradient><linearGradient id="g107" gradientUnits="userSpaceOnUse" x1="276" x2="513" y1="0" y2="0"><stop offset="0.002" stop-color="#c82f2a"/><stop offset="0.082" stop-color="#c32b2b"/><stop offset="0.331" stop-color="#9f2423"/><stop offset="0.492" stop-color="#a72823"/><stop offset="0.724" stop-color="#a33323"/><stop offset="0.876" stop-color="#aa4123"/><stop offset="0.973" stop-color="#a54723"/><stop offset="0.998" stop-color="#a55023"/></linearGradient><linearGradient id="g108" gradientUnits="userSpaceOnUse" x1="276" x2="513" y1="0" y2="0"><stop offset="0.002" stop-color="#c42d2b"/><stop offset="0.082" stop-color="#c22c2b"/><stop offset="0.327" stop-color="#a02523"/><stop offset="0.479" stop-color="#a62923"/><stop offset="0.724" stop-color="#a43623"/><stop offset="0.871" stop-color="#aa4123"/><stop offset="0.977" stop-color="#a54623"/><stop offset="0.998" stop-color="#a54f23"/></linearGradient><linearGradient id="g109" gradientUnits="userSpaceOnUse" x1="276" x2="513" y1="0" y2="0"><stop offset="0.002" stop-color="#c32d2b"/><stop offset="0.078" stop-color="#c22e2b"/><stop offset="0.323" stop-color="#a12823"/><stop offset="0.466" stop-color="#a62a23"/><stop offset="0.838" stop-color="#aa4123"/><stop offset="0.977" stop-color="#a54623"/><stop offset="0.998" stop-color="#a54c23"/></linearGradient><linearGradient id="g110" gradientUnits="userSpaceOnUse" x1="276" x2="513" y1="0" y2="0"><stop offset="0.002" stop-color="#c32d2b"/><stop offset="0.074" stop-color="#c32e2b"/><stop offset="0.323" stop-color="#a32a24"/><stop offset="0.475" stop-color="#a62d23"/><stop offset="0.812" stop-color="#aa4123"/><stop offset="0.998" stop-color="#a54823"/></linearGradient><linearGradient id="g111" gradientUnits="userSpaceOnUse" x1="276" x2="513" y1="0" y2="0"><stop offset="0.002" stop-color="#c32d2b"/><stop offset="0.065" stop-color="#c32e2b"/><stop offset="0.086" stop-color="#c0332b"/><stop offset="0.323" stop-color="#a42d24"/><stop offset="0.711" stop-color="#a83d24"/><stop offset="0.766" stop-color="#a63923"/><stop offset="0.795" stop-color="#aa4123"/><stop offset="0.998" stop-color="#a54623"/></linearGradient><linearGradient id="g112" gradientUnits="userSpaceOnUse" x1="276" x2="513" y1="0" y2="0"><stop offset="0.002" stop-color="#c32d2b"/><stop offset="0.049" stop-color="#c32e2b"/><stop offset="0.082" stop-color="#c0382b"/><stop offset="0.323" stop-color="#a63025"/><stop offset="0.677" stop-color="#a83e24"/><stop offset="0.762" stop-color="#a53723"/><stop offset="0.787" stop-color="#aa4123"/><stop offset="0.998" stop-color="#a54623"/></linearGradient><linearGradient id="g113" gradientUnits="userSpaceOnUse" x1="276" x2="513" y1="0" y2="0"><stop offset="0.002" stop-color="#c32d2b"/><stop offset="0.078" stop-color="#be3b2b"/><stop offset="0.323" stop-color="#a83325"/><stop offset="0.673" stop-color="#a94025"/><stop offset="0.703" stop-color="#a63823"/><stop offset="0.762" stop-color="#a53723"/><stop offset="0.787" stop-color="#aa4123"/><stop offset="0.998" stop-color="#a54623"/></linearGradient><linearGradient id="g114" gradientUnits="userSpaceOnUse" x1="276" x2="513" y1="0" y2="0"><stop offset="0.002" stop-color="#c2302b"/><stop offset="0.049" stop-color="#be3b2b"/><stop offset="0.086" stop-color="#be3d2b"/><stop offset="0.323" stop-color="#a93626"/><stop offset="0.669" stop-color="#aa4125"/><stop offset="0.698" stop-color="#a53723"/><stop offset="0.762" stop-color="#a53723"/><stop offset="0.787" stop-color="#aa4123"/><stop offset="0.998" stop-color="#a54623"/></linearGradient><linearGradient id="g115" gradientUnits="userSpaceOnUse" x1="276" x2="513" y1="0" y2="0"><stop offset="0.002" stop-color="#be3c2b"/><stop offset="0.091" stop-color="#bc432b"/><stop offset="0.171" stop-color="#b43c29"/><stop offset="0.319" stop-color="#ab3926"/><stop offset="0.673" stop-color="#aa4125"/><stop offset="0.703" stop-color="#a53723"/><stop offset="0.762" stop-color="#a53723"/><stop offset="0.787" stop-color="#aa4123"/><stop offset="0.998" stop-color="#a54623"/></linearGradient><linearGradient id="g116" gradientUnits="userSpaceOnUse" x1="276" x2="513" y1="0" y2="0"><stop offset="0.002" stop-color="#ba4b2b"/><stop offset="0.091" stop-color="#ba4c2b"/><stop offset="0.158" stop-color="#b54029"/><stop offset="0.259" stop-color="#b03c28"/><stop offset="0.677" stop-color="#aa4125"/><stop offset="0.715" stop-color="#a53723"/><stop offset="0.766" stop-color="#a53723"/><stop offset="0.787" stop-color="#aa4123"/><stop offset="0.998" stop-color="#a54623"/></linearGradient><linearGradient id="g117" gradientUnits="userSpaceOnUse" x1="276" x2="513" y1="0" y2="0"><stop offset="0.002" stop-color="#b9502b"/><stop offset="0.091" stop-color="#b94f2b"/><stop offset="0.150" stop-color="#b6432a"/><stop offset="0.259" stop-color="#b03f28"/><stop offset="0.445" stop-color="#ad4325"/><stop offset="0.563" stop-color="#aa3c23"/><stop offset="0.584" stop-color="#aa4125"/><stop offset="0.681" stop-color="#aa4125"/><stop offset="0.715" stop-color="#a53723"/><stop offset="0.766" stop-color="#a53723"/><stop offset="0.787" stop-color="#aa4123"/><stop offset="0.998" stop-color="#a54623"/></linearGradient><linearGradient id="g118" gradientUnits="userSpaceOnUse" x1="276" x2="513" y1="0" y2="0"><stop offset="0.002" stop-color="#b9502b"/><stop offset="0.095" stop-color="#b9502b"/><stop offset="0.141" stop-color="#b6472a"/><stop offset="0.259" stop-color="#b14328"/><stop offset="0.420" stop-color="#ae4425"/><stop offset="0.487" stop-color="#aa3d23"/><stop offset="0.686" stop-color="#aa4125"/><stop offset="0.719" stop-color="#a53723"/><stop offset="0.766" stop-color="#a53723"/><stop offset="0.787" stop-color="#aa4123"/><stop offset="0.998" stop-color="#a54623"/></linearGradient><linearGradient id="g119" gradientUnits="userSpaceOnUse" x1="276" x2="513" y1="0" y2="0"><stop offset="0.002" stop-color="#b9502b"/><stop offset="0.340" stop-color="#b04727"/><stop offset="0.458" stop-color="#aa3c23"/><stop offset="0.690" stop-color="#aa4125"/><stop offset="0.724" stop-color="#a53723"/><stop offset="0.766" stop-color="#a53723"/><stop offset="0.787" stop-color="#aa4123"/><stop offset="0.998" stop-color="#a54623"/></linearGradient><linearGradient id="g120" gradientUnits="userSpaceOnUse" x1="276" x2="513" y1="0" y2="0"><stop offset="0.002" stop-color="#b9502b"/><stop offset="0.310" stop-color="#b24b27"/><stop offset="0.352" stop-color="#ac3c26"/><stop offset="0.373" stop-color="#ab3a26"/><stop offset="0.694" stop-color="#aa4125"/><stop offset="0.724" stop-color="#a53723"/><stop offset="0.762" stop-color="#a53723"/><stop offset="0.787" stop-color="#aa4123"/><stop offset="0.998" stop-color="#a54623"/></linearGradient><linearGradient id="g121" gradientUnits="userSpaceOnUse" x1="276" x2="513" y1="0" y2="0"><stop offset="0.002" stop-color="#b9502b"/><stop offset="0.116" stop-color="#b9522a"/><stop offset="0.310" stop-color="#b24c28"/><stop offset="0.340" stop-color="#ab3a26"/><stop offset="0.357" stop-color="#aa3726"/><stop offset="0.390" stop-color="#aa3c23"/><stop offset="0.690" stop-color="#aa4125"/><stop offset="0.728" stop-color="#a53723"/><stop offset="0.762" stop-color="#a53723"/><stop offset="0.787" stop-color="#aa4123"/><stop offset="0.998" stop-color="#a54623"/></linearGradient><linearGradient id="g122" gradientUnits="userSpaceOnUse" x1="276" x2="513" y1="0" y2="0"><stop offset="0.002" stop-color="#b9502b"/><stop offset="0.082" stop-color="#b9512b"/><stop offset="0.124" stop-color="#ba5629"/><stop offset="0.319" stop-color="#b24b28"/><stop offset="0.344" stop-color="#ab3a26"/><stop offset="0.361" stop-color="#aa3726"/><stop offset="0.390" stop-color="#aa3c23"/><stop offset="0.559" stop-color="#aa3c23"/><stop offset="0.597" stop-color="#aa4125"/><stop offset="0.707" stop-color="#aa4125"/><stop offset="0.728" stop-color="#a53823"/><stop offset="0.762" stop-color="#a53723"/><stop offset="0.787" stop-color="#aa4123"/><stop offset="0.998" stop-color="#a54623"/></linearGradient><linearGradient id="g123" gradientUnits="userSpaceOnUse" x1="276" x2="513" y1="0" y2="0"><stop offset="0.002" stop-color="#b9502b"/><stop offset="0.061" stop-color="#b9512b"/><stop offset="0.108" stop-color="#bd5b29"/><stop offset="0.146" stop-color="#bb5a28"/><stop offset="0.167" stop-color="#b75329"/><stop offset="0.238" stop-color="#b24b28"/><stop offset="0.327" stop-color="#b24b28"/><stop offset="0.352" stop-color="#ab3a26"/><stop offset="0.365" stop-color="#aa3726"/><stop offset="0.390" stop-color="#aa3c23"/><stop offset="0.698" stop-color="#aa4125"/><stop offset="0.715" stop-color="#aa4025"/><stop offset="0.732" stop-color="#a53823"/><stop offset="0.762" stop-color="#a53723"/><stop offset="0.787" stop-color="#aa4123"/><stop offset="0.998" stop-color="#a54623"/></linearGradient><linearGradient id="g124" gradientUnits="userSpaceOnUse" x1="276" x2="513" y1="0" y2="0"><stop offset="0.002" stop-color="#b9502b"/><stop offset="0.095" stop-color="#be5e28"/><stop offset="0.146" stop-color="#bd5e28"/><stop offset="0.171" stop-color="#b54f29"/><stop offset="0.335" stop-color="#b24b28"/><stop offset="0.369" stop-color="#aa3726"/><stop offset="0.390" stop-color="#aa3c23"/><stop offset="0.707" stop-color="#aa4125"/><stop offset="0.736" stop-color="#a53823"/><stop offset="0.762" stop-color="#a53723"/><stop offset="0.787" stop-color="#aa4123"/><stop offset="0.939" stop-color="#aa4123"/><stop offset="0.998" stop-color="#a54623"/></linearGradient><linearGradient id="g125" gradientUnits="userSpaceOnUse" x1="276" x2="513" y1="0" y2="0"><stop offset="0.002" stop-color="#ba522b"/><stop offset="0.065" stop-color="#be5e28"/><stop offset="0.150" stop-color="#be5f28"/><stop offset="0.175" stop-color="#b44e29"/><stop offset="0.344" stop-color="#b24b28"/><stop offset="0.373" stop-color="#aa3926"/><stop offset="0.711" stop-color="#aa4125"/><stop offset="0.762" stop-color="#a53723"/><stop offset="0.787" stop-color="#aa4123"/><stop offset="0.943" stop-color="#aa4123"/><stop offset="0.998" stop-color="#a54623"/></linearGradient><linearGradient id="g126" gradientUnits="userSpaceOnUse" x1="276" x2="513" y1="0" y2="0"><stop offset="0.002" stop-color="#bc5829"/><stop offset="0.044" stop-color="#be5f28"/><stop offset="0.154" stop-color="#be5f28"/><stop offset="0.179" stop-color="#b44e29"/><stop offset="0.352" stop-color="#b24b28"/><stop offset="0.378" stop-color="#ab3b25"/><stop offset="0.719" stop-color="#aa4125"/><stop offset="0.762" stop-color="#a53723"/><stop offset="0.787" stop-color="#aa4123"/><stop offset="0.947" stop-color="#aa4123"/><stop offset="0.998" stop-color="#a54623"/></linearGradient><linearGradient id="g127" gradientUnits="userSpaceOnUse" x1="276" x2="513" y1="0" y2="0"><stop offset="0.002" stop-color="#bd5c29"/><stop offset="0.154" stop-color="#be5f28"/><stop offset="0.179" stop-color="#b44e29"/><stop offset="0.357" stop-color="#b24b28"/><stop offset="0.382" stop-color="#aa3b24"/><stop offset="0.719" stop-color="#aa4125"/><stop offset="0.762" stop-color="#a53723"/><stop offset="0.787" stop-color="#aa4123"/><stop offset="0.947" stop-color="#aa4123"/><stop offset="0.998" stop-color="#a54623"/></linearGradient><clipPath id="c2"><polygon points="278.2,58.5 418.6,38.8 428.0,42.8 436.0,47.3 447.4,53.2 458.6,61.0 469.0,69.8 480.0,79.5 490.0,89.0 500.0,98.5 510.3,110.3 480.0,116.3 460.0,119.5 430.0,125.0 400.0,132.5 360.0,142.5 330.0,150.0 301.0,158.3"/></clipPath></defs><g clip-path="url(#c2)"><g filter="url(#bl)"><rect x="276" y="36" width="237" height="2.6" fill="url(#g65)"/><rect x="276" y="38" width="237" height="2.6" fill="url(#g66)"/><rect x="276" y="40" width="237" height="2.6" fill="url(#g67)"/><rect x="276" y="42" width="237" height="2.6" fill="url(#g68)"/><rect x="276" y="44" width="237" height="2.6" fill="url(#g69)"/><rect x="276" y="46" width="237" height="2.6" fill="url(#g70)"/><rect x="276" y="48" width="237" height="2.6" fill="url(#g71)"/><rect x="276" y="50" width="237" height="2.6" fill="url(#g72)"/><rect x="276" y="52" width="237" height="2.6" fill="url(#g73)"/><rect x="276" y="54" width="237" height="2.6" fill="url(#g74)"/><rect x="276" y="56" width="237" height="2.6" fill="url(#g75)"/><rect x="276" y="58" width="237" height="2.6" fill="url(#g76)"/><rect x="276" y="60" width="237" height="2.6" fill="url(#g77)"/><rect x="276" y="62" width="237" height="2.6" fill="url(#g78)"/><rect x="276" y="64" width="237" height="2.6" fill="url(#g79)"/><rect x="276" y="66" width="237" height="2.6" fill="url(#g80)"/><rect x="276" y="68" width="237" height="2.6" fill="url(#g81)"/><rect x="276" y="70" width="237" height="2.6" fill="url(#g82)"/><rect x="276" y="72" width="237" height="2.6" fill="url(#g83)"/><rect x="276" y="74" width="237" height="2.6" fill="url(#g84)"/><rect x="276" y="76" width="237" height="2.6" fill="url(#g85)"/><rect x="276" y="78" width="237" height="2.6" fill="url(#g86)"/><rect x="276" y="80" width="237" height="2.6" fill="url(#g87)"/><rect x="276" y="82" width="237" height="2.6" fill="url(#g88)"/><rect x="276" y="84" width="237" height="2.6" fill="url(#g89)"/><rect x="276" y="86" width="237" height="2.6" fill="url(#g90)"/><rect x="276" y="88" width="237" height="2.6" fill="url(#g91)"/><rect x="276" y="90" width="237" height="2.6" fill="url(#g92)"/><rect x="276" y="92" width="237" height="2.6" fill="url(#g93)"/><rect x="276" y="94" width="237" height="2.6" fill="url(#g94)"/><rect x="276" y="96" width="237" height="2.6" fill="url(#g95)"/><rect x="276" y="98" width="237" height="2.6" fill="url(#g96)"/><rect x="276" y="100" width="237" height="2.6" fill="url(#g97)"/><rect x="276" y="102" width="237" height="2.6" fill="url(#g98)"/><rect x="276" y="104" width="237" height="2.6" fill="url(#g99)"/><rect x="276" y="106" width="237" height="2.6" fill="url(#g100)"/><rect x="276" y="108" width="237" height="2.6" fill="url(#g101)"/><rect x="276" y="110" width="237" height="2.6" fill="url(#g102)"/><rect x="276" y="112" width="237" height="2.6" fill="url(#g103)"/><rect x="276" y="114" width="237" height="2.6" fill="url(#g104)"/><rect x="276" y="116" width="237" height="2.6" fill="url(#g105)"/><rect x="276" y="118" width="237" height="2.6" fill="url(#g106)"/><rect x="276" y="120" width="237" height="2.6" fill="url(#g107)"/><rect x="276" y="122" width="237" height="2.6" fill="url(#g108)"/><rect x="276" y="124" width="237" height="2.6" fill="url(#g109)"/><rect x="276" y="126" width="237" height="2.6" fill="url(#g110)"/><rect x="276" y="128" width="237" height="2.6" fill="url(#g111)"/><rect x="276" y="130" width="237" height="2.6" fill="url(#g112)"/><rect x="276" y="132" width="237" height="2.6" fill="url(#g113)"/><rect x="276" y="134" width="237" height="2.6" fill="url(#g114)"/><rect x="276" y="136" width="237" height="2.6" fill="url(#g115)"/><rect x="276" y="138" width="237" height="2.6" fill="url(#g116)"/><rect x="276" y="140" width="237" height="2.6" fill="url(#g117)"/><rect x="276" y="142" width="237" height="2.6" fill="url(#g118)"/><rect x="276" y="144" width="237" height="2.6" fill="url(#g119)"/><rect x="276" y="146" width="237" height="2.6" fill="url(#g120)"/><rect x="276" y="148" width="237" height="2.6" fill="url(#g121)"/><rect x="276" y="150" width="237" height="2.6" fill="url(#g122)"/><rect x="276" y="152" width="237" height="2.6" fill="url(#g123)"/><rect x="276" y="154" width="237" height="2.6" fill="url(#g124)"/><rect x="276" y="156" width="237" height="2.6" fill="url(#g125)"/><rect x="276" y="158" width="237" height="2.6" fill="url(#g126)"/><rect x="276" y="160" width="237" height="2.6" fill="url(#g127)"/></g></g><polyline points="278.2,58.5 301.0,158.3 330.0,150.0 360.0,142.5 400.0,132.5 430.0,125.0 460.0,119.5 480.0,116.3 510.3,110.3" fill="none" stroke="#f0b868" stroke-width="0.9" stroke-linejoin="round"/><polyline points="418.6,38.8 428.0,42.8 436.0,47.3 447.4,53.2 458.6,61.0 469.0,69.8 480.0,79.5 490.0,89.0 500.0,98.5 510.3,110.3" fill="none" stroke="#4a2010" stroke-width="0.8" stroke-opacity="0.75" stroke-linejoin="round"/><use href="#s1" y="176.5"/><defs><linearGradient id="g128" gradientUnits="userSpaceOnUse" x1="277" x2="511" y1="0" y2="0"><stop offset="0.002" stop-color="#c86e26"/><stop offset="0.053" stop-color="#c86e26"/><stop offset="0.075" stop-color="#be7828"/><stop offset="0.143" stop-color="#b97d28"/><stop offset="0.216" stop-color="#b47828"/><stop offset="0.250" stop-color="#b57928"/><stop offset="0.271" stop-color="#c38726"/><stop offset="0.353" stop-color="#c38726"/><stop offset="0.374" stop-color="#d7781e"/><stop offset="0.404" stop-color="#d7771e"/><stop offset="0.408" stop-color="#d8731f"/><stop offset="0.421" stop-color="#dd5525"/><stop offset="0.425" stop-color="#de5126"/><stop offset="0.459" stop-color="#de4b27"/><stop offset="0.472" stop-color="#e12b2a"/><stop offset="0.476" stop-color="#e1272b"/><stop offset="0.541" stop-color="#e1202d"/><stop offset="0.549" stop-color="#de212d"/><stop offset="0.553" stop-color="#d7252c"/><stop offset="0.562" stop-color="#b83327"/><stop offset="0.571" stop-color="#a73b25"/><stop offset="0.647" stop-color="#a33a24"/><stop offset="0.652" stop-color="#9d3623"/><stop offset="0.665" stop-color="#7c211c"/><stop offset="0.669" stop-color="#791f1b"/><stop offset="0.741" stop-color="#771e1a"/><stop offset="0.759" stop-color="#82231b"/><stop offset="0.840" stop-color="#82231b"/><stop offset="0.865" stop-color="#8c2d1e"/><stop offset="0.917" stop-color="#8c2d1e"/><stop offset="0.938" stop-color="#913721"/><stop offset="0.998" stop-color="#913721"/></linearGradient><linearGradient id="g129" gradientUnits="userSpaceOnUse" x1="277" x2="511" y1="0" y2="0"><stop offset="0.002" stop-color="#c86e26"/><stop offset="0.053" stop-color="#c86e26"/><stop offset="0.075" stop-color="#be7828"/><stop offset="0.143" stop-color="#b97d28"/><stop offset="0.216" stop-color="#b47828"/><stop offset="0.250" stop-color="#b57928"/><stop offset="0.276" stop-color="#c38726"/><stop offset="0.353" stop-color="#c38726"/><stop offset="0.374" stop-color="#d7781e"/><stop offset="0.404" stop-color="#d7771e"/><stop offset="0.408" stop-color="#d8731f"/><stop offset="0.421" stop-color="#dd5525"/><stop offset="0.425" stop-color="#de5126"/><stop offset="0.459" stop-color="#de4b27"/><stop offset="0.472" stop-color="#e12b2a"/><stop offset="0.476" stop-color="#e1272b"/><stop offset="0.545" stop-color="#e1202d"/><stop offset="0.553" stop-color="#dc222c"/><stop offset="0.558" stop-color="#d2272b"/><stop offset="0.566" stop-color="#b43527"/><stop offset="0.575" stop-color="#a63b25"/><stop offset="0.643" stop-color="#a43a25"/><stop offset="0.652" stop-color="#973122"/><stop offset="0.660" stop-color="#80231d"/><stop offset="0.669" stop-color="#781e1b"/><stop offset="0.724" stop-color="#781e1b"/><stop offset="0.741" stop-color="#721d18"/><stop offset="0.763" stop-color="#82231b"/><stop offset="0.835" stop-color="#82231b"/><stop offset="0.861" stop-color="#8b2c1e"/><stop offset="0.912" stop-color="#8c2d1e"/><stop offset="0.938" stop-color="#913721"/><stop offset="0.998" stop-color="#913721"/></linearGradient><linearGradient id="g130" gradientUnits="userSpaceOnUse" x1="277" x2="511" y1="0" y2="0"><stop offset="0.002" stop-color="#c86e26"/><stop offset="0.053" stop-color="#c86e26"/><stop offset="0.075" stop-color="#be7828"/><stop offset="0.143" stop-color="#b97d28"/><stop offset="0.216" stop-color="#b47828"/><stop offset="0.254" stop-color="#b57928"/><stop offset="0.280" stop-color="#c38726"/><stop offset="0.353" stop-color="#c38726"/><stop offset="0.374" stop-color="#d7781e"/><stop offset="0.404" stop-color="#d7771e"/><stop offset="0.408" stop-color="#d8731f"/><stop offset="0.421" stop-color="#dd5525"/><stop offset="0.425" stop-color="#de5126"/><stop offset="0.459" stop-color="#de4b27"/><stop offset="0.472" stop-color="#e12b2a"/><stop offset="0.476" stop-color="#e1272b"/><stop offset="0.549" stop-color="#e0212d"/><stop offset="0.558" stop-color="#da242c"/><stop offset="0.575" stop-color="#aa3926"/><stop offset="0.626" stop-color="#a43b25"/><stop offset="0.643" stop-color="#a23324"/><stop offset="0.647" stop-color="#9d2f23"/><stop offset="0.660" stop-color="#7d201c"/><stop offset="0.669" stop-color="#781e1b"/><stop offset="0.724" stop-color="#771e1b"/><stop offset="0.741" stop-color="#6c1b15"/><stop offset="0.754" stop-color="#7f221a"/><stop offset="0.763" stop-color="#82231b"/><stop offset="0.831" stop-color="#82231b"/><stop offset="0.857" stop-color="#8c2d1e"/><stop offset="0.908" stop-color="#8c2e1e"/><stop offset="0.929" stop-color="#913621"/><stop offset="0.998" stop-color="#913721"/></linearGradient><linearGradient id="g131" gradientUnits="userSpaceOnUse" x1="277" x2="511" y1="0" y2="0"><stop offset="0.002" stop-color="#c86e26"/><stop offset="0.053" stop-color="#c86e26"/><stop offset="0.075" stop-color="#be7828"/><stop offset="0.143" stop-color="#b97d28"/><stop offset="0.199" stop-color="#b77d28"/><stop offset="0.216" stop-color="#b47828"/><stop offset="0.259" stop-color="#b57928"/><stop offset="0.284" stop-color="#c38726"/><stop offset="0.353" stop-color="#c38726"/><stop offset="0.374" stop-color="#d7781e"/><stop offset="0.404" stop-color="#d7771e"/><stop offset="0.408" stop-color="#d8731f"/><stop offset="0.421" stop-color="#dd5525"/><stop offset="0.425" stop-color="#de5126"/><stop offset="0.459" stop-color="#de4b27"/><stop offset="0.472" stop-color="#e02c2a"/><stop offset="0.476" stop-color="#e0282b"/><stop offset="0.515" stop-color="#de272b"/><stop offset="0.553" stop-color="#d6292b"/><stop offset="0.579" stop-color="#ae3a26"/><stop offset="0.618" stop-color="#a43825"/><stop offset="0.647" stop-color="#9b2922"/><stop offset="0.660" stop-color="#7d1f1c"/><stop offset="0.665" stop-color="#791e1b"/><stop offset="0.720" stop-color="#771e1a"/><stop offset="0.737" stop-color="#681a14"/><stop offset="0.741" stop-color="#691a14"/><stop offset="0.759" stop-color="#81231b"/><stop offset="0.827" stop-color="#82231b"/><stop offset="0.853" stop-color="#8c2d1e"/><stop offset="0.900" stop-color="#8c2d1e"/><stop offset="0.925" stop-color="#913721"/><stop offset="0.998" stop-color="#913721"/></linearGradient><linearGradient id="g132" gradientUnits="userSpaceOnUse" x1="277" x2="511" y1="0" y2="0"><stop offset="0.002" stop-color="#c86e26"/><stop offset="0.053" stop-color="#c86e26"/><stop offset="0.075" stop-color="#be7828"/><stop offset="0.143" stop-color="#b97d28"/><stop offset="0.203" stop-color="#b67f29"/><stop offset="0.216" stop-color="#b47a28"/><stop offset="0.263" stop-color="#b57928"/><stop offset="0.288" stop-color="#c38726"/><stop offset="0.353" stop-color="#c38726"/><stop offset="0.374" stop-color="#d6781e"/><stop offset="0.404" stop-color="#d7771e"/><stop offset="0.408" stop-color="#d8731f"/><stop offset="0.421" stop-color="#dc5625"/><stop offset="0.459" stop-color="#d95026"/><stop offset="0.472" stop-color="#d93729"/><stop offset="0.481" stop-color="#da3329"/><stop offset="0.502" stop-color="#d03c28"/><stop offset="0.519" stop-color="#d03728"/><stop offset="0.536" stop-color="#c63b27"/><stop offset="0.553" stop-color="#c63428"/><stop offset="0.592" stop-color="#b53127"/><stop offset="0.622" stop-color="#a23124"/><stop offset="0.647" stop-color="#952821"/><stop offset="0.665" stop-color="#7a1f1b"/><stop offset="0.712" stop-color="#771e1b"/><stop offset="0.737" stop-color="#661913"/><stop offset="0.759" stop-color="#81231b"/><stop offset="0.823" stop-color="#83241b"/><stop offset="0.844" stop-color="#8b2c1e"/><stop offset="0.895" stop-color="#8c2d1e"/><stop offset="0.921" stop-color="#913721"/><stop offset="0.998" stop-color="#913721"/></linearGradient><linearGradient id="g133" gradientUnits="userSpaceOnUse" x1="277" x2="511" y1="0" y2="0"><stop offset="0.002" stop-color="#c86e26"/><stop offset="0.053" stop-color="#c86e26"/><stop offset="0.075" stop-color="#be7828"/><stop offset="0.143" stop-color="#b97d28"/><stop offset="0.207" stop-color="#b58029"/><stop offset="0.216" stop-color="#b47c29"/><stop offset="0.263" stop-color="#b47828"/><stop offset="0.288" stop-color="#c28626"/><stop offset="0.353" stop-color="#c48626"/><stop offset="0.370" stop-color="#d47a1f"/><stop offset="0.378" stop-color="#d6781e"/><stop offset="0.404" stop-color="#d4761f"/><stop offset="0.421" stop-color="#d65d24"/><stop offset="0.459" stop-color="#cf5824"/><stop offset="0.481" stop-color="#cf4826"/><stop offset="0.498" stop-color="#cb4626"/><stop offset="0.558" stop-color="#ca2d29"/><stop offset="0.596" stop-color="#b72926"/><stop offset="0.630" stop-color="#9c2a22"/><stop offset="0.669" stop-color="#7b1f1c"/><stop offset="0.707" stop-color="#761d1a"/><stop offset="0.724" stop-color="#661914"/><stop offset="0.733" stop-color="#641912"/><stop offset="0.741" stop-color="#681a13"/><stop offset="0.754" stop-color="#7e221a"/><stop offset="0.759" stop-color="#81231b"/><stop offset="0.814" stop-color="#82231b"/><stop offset="0.840" stop-color="#8c2d1e"/><stop offset="0.891" stop-color="#8c2e1e"/><stop offset="0.917" stop-color="#913721"/><stop offset="0.998" stop-color="#913721"/></linearGradient><linearGradient id="g134" gradientUnits="userSpaceOnUse" x1="277" x2="511" y1="0" y2="0"><stop offset="0.002" stop-color="#c86e26"/><stop offset="0.053" stop-color="#c86e26"/><stop offset="0.075" stop-color="#be7828"/><stop offset="0.216" stop-color="#b47e29"/><stop offset="0.229" stop-color="#b47828"/><stop offset="0.267" stop-color="#b47828"/><stop offset="0.293" stop-color="#c28626"/><stop offset="0.348" stop-color="#c48626"/><stop offset="0.378" stop-color="#d27920"/><stop offset="0.404" stop-color="#d27320"/><stop offset="0.502" stop-color="#d73129"/><stop offset="0.545" stop-color="#d7252b"/><stop offset="0.588" stop-color="#c02227"/><stop offset="0.626" stop-color="#9d2622"/><stop offset="0.669" stop-color="#761e1a"/><stop offset="0.703" stop-color="#731d19"/><stop offset="0.720" stop-color="#5e1712"/><stop offset="0.741" stop-color="#681a13"/><stop offset="0.754" stop-color="#7e221a"/><stop offset="0.759" stop-color="#81231b"/><stop offset="0.810" stop-color="#82231b"/><stop offset="0.835" stop-color="#8c2d1e"/><stop offset="0.882" stop-color="#8c2d1e"/><stop offset="0.908" stop-color="#913721"/><stop offset="0.998" stop-color="#913721"/></linearGradient><linearGradient id="g135" gradientUnits="userSpaceOnUse" x1="277" x2="511" y1="0" y2="0"><stop offset="0.002" stop-color="#c86e26"/><stop offset="0.053" stop-color="#c86e26"/><stop offset="0.075" stop-color="#be7828"/><stop offset="0.216" stop-color="#b4802a"/><stop offset="0.233" stop-color="#b47828"/><stop offset="0.263" stop-color="#b57928"/><stop offset="0.297" stop-color="#c18626"/><stop offset="0.340" stop-color="#c38526"/><stop offset="0.400" stop-color="#d77120"/><stop offset="0.489" stop-color="#e02a2b"/><stop offset="0.541" stop-color="#df212c"/><stop offset="0.583" stop-color="#c51e28"/><stop offset="0.626" stop-color="#972321"/><stop offset="0.647" stop-color="#7a1f1a"/><stop offset="0.665" stop-color="#6c1b17"/><stop offset="0.677" stop-color="#661a16"/><stop offset="0.703" stop-color="#6c1b17"/><stop offset="0.720" stop-color="#621913"/><stop offset="0.741" stop-color="#681a13"/><stop offset="0.759" stop-color="#81231b"/><stop offset="0.806" stop-color="#83241b"/><stop offset="0.831" stop-color="#8c2d1e"/><stop offset="0.878" stop-color="#8c2d1e"/><stop offset="0.904" stop-color="#913721"/><stop offset="0.998" stop-color="#913721"/></linearGradient><linearGradient id="g136" gradientUnits="userSpaceOnUse" x1="277" x2="511" y1="0" y2="0"><stop offset="0.002" stop-color="#c86e26"/><stop offset="0.053" stop-color="#c86e26"/><stop offset="0.075" stop-color="#be7828"/><stop offset="0.212" stop-color="#b5822a"/><stop offset="0.237" stop-color="#b77a28"/><stop offset="0.297" stop-color="#bf8327"/><stop offset="0.323" stop-color="#bb8527"/><stop offset="0.335" stop-color="#c18426"/><stop offset="0.370" stop-color="#cb7b22"/><stop offset="0.400" stop-color="#db7121"/><stop offset="0.481" stop-color="#e2282b"/><stop offset="0.536" stop-color="#e11f2d"/><stop offset="0.575" stop-color="#ce1e29"/><stop offset="0.609" stop-color="#9e1e23"/><stop offset="0.630" stop-color="#8c201e"/><stop offset="0.656" stop-color="#641915"/><stop offset="0.677" stop-color="#591713"/><stop offset="0.741" stop-color="#6d1c15"/><stop offset="0.759" stop-color="#81231b"/><stop offset="0.801" stop-color="#83241b"/><stop offset="0.823" stop-color="#8c2d1e"/><stop offset="0.874" stop-color="#8c2e1e"/><stop offset="0.900" stop-color="#913721"/><stop offset="0.998" stop-color="#913721"/></linearGradient><linearGradient id="g137" gradientUnits="userSpaceOnUse" x1="277" x2="511" y1="0" y2="0"><stop offset="0.002" stop-color="#c86e26"/><stop offset="0.053" stop-color="#c86e26"/><stop offset="0.075" stop-color="#be7828"/><stop offset="0.143" stop-color="#ba7d28"/><stop offset="0.254" stop-color="#be8027"/><stop offset="0.314" stop-color="#b58328"/><stop offset="0.331" stop-color="#be8427"/><stop offset="0.374" stop-color="#cb7923"/><stop offset="0.404" stop-color="#de6f22"/><stop offset="0.476" stop-color="#e3272b"/><stop offset="0.532" stop-color="#e21f2d"/><stop offset="0.571" stop-color="#d21e2a"/><stop offset="0.609" stop-color="#961d22"/><stop offset="0.630" stop-color="#871e1d"/><stop offset="0.656" stop-color="#591612"/><stop offset="0.673" stop-color="#4d1410"/><stop offset="0.707" stop-color="#571611"/><stop offset="0.763" stop-color="#80231b"/><stop offset="0.793" stop-color="#82231b"/><stop offset="0.818" stop-color="#8c2d1e"/><stop offset="0.870" stop-color="#8c2e1e"/><stop offset="0.891" stop-color="#913721"/><stop offset="0.998" stop-color="#923921"/></linearGradient><linearGradient id="g138" gradientUnits="userSpaceOnUse" x1="277" x2="511" y1="0" y2="0"><stop offset="0.002" stop-color="#c86e26"/><stop offset="0.053" stop-color="#c86e26"/><stop offset="0.079" stop-color="#be7828"/><stop offset="0.233" stop-color="#bd8027"/><stop offset="0.310" stop-color="#ad8229"/><stop offset="0.327" stop-color="#bc8328"/><stop offset="0.374" stop-color="#c67924"/><stop offset="0.404" stop-color="#de7522"/><stop offset="0.476" stop-color="#e2282a"/><stop offset="0.528" stop-color="#e01f2c"/><stop offset="0.558" stop-color="#d71e2b"/><stop offset="0.571" stop-color="#cf1e2a"/><stop offset="0.609" stop-color="#921c21"/><stop offset="0.630" stop-color="#821c1c"/><stop offset="0.660" stop-color="#4d1310"/><stop offset="0.673" stop-color="#45120e"/><stop offset="0.712" stop-color="#50140f"/><stop offset="0.763" stop-color="#7c211a"/><stop offset="0.793" stop-color="#81241b"/><stop offset="0.810" stop-color="#8b2c1e"/><stop offset="0.861" stop-color="#8c2d1e"/><stop offset="0.887" stop-color="#913721"/><stop offset="0.972" stop-color="#913721"/><stop offset="0.998" stop-color="#944022"/></linearGradient><linearGradient id="g139" gradientUnits="userSpaceOnUse" x1="277" x2="511" y1="0" y2="0"><stop offset="0.002" stop-color="#c86e26"/><stop offset="0.053" stop-color="#c86e26"/><stop offset="0.075" stop-color="#c07728"/><stop offset="0.229" stop-color="#b97d28"/><stop offset="0.263" stop-color="#b37b28"/><stop offset="0.306" stop-color="#a6822b"/><stop offset="0.331" stop-color="#bd8127"/><stop offset="0.374" stop-color="#be7c25"/><stop offset="0.404" stop-color="#e08220"/><stop offset="0.412" stop-color="#e37b20"/><stop offset="0.472" stop-color="#de2f29"/><stop offset="0.528" stop-color="#da212c"/><stop offset="0.558" stop-color="#d31e2a"/><stop offset="0.571" stop-color="#ca1e29"/><stop offset="0.609" stop-color="#911c21"/><stop offset="0.630" stop-color="#7d1b1b"/><stop offset="0.660" stop-color="#4c1310"/><stop offset="0.677" stop-color="#41110d"/><stop offset="0.716" stop-color="#4d130f"/><stop offset="0.771" stop-color="#7d231a"/><stop offset="0.793" stop-color="#7f251c"/><stop offset="0.810" stop-color="#8c2d1e"/><stop offset="0.857" stop-color="#8c2e1e"/><stop offset="0.882" stop-color="#913721"/><stop offset="0.964" stop-color="#913821"/><stop offset="0.998" stop-color="#964523"/></linearGradient><linearGradient id="g140" gradientUnits="userSpaceOnUse" x1="277" x2="511" y1="0" y2="0"><stop offset="0.002" stop-color="#c86e26"/><stop offset="0.224" stop-color="#b77b29"/><stop offset="0.259" stop-color="#a97528"/><stop offset="0.301" stop-color="#9d802b"/><stop offset="0.327" stop-color="#b48028"/><stop offset="0.374" stop-color="#b68126"/><stop offset="0.404" stop-color="#e1911d"/><stop offset="0.412" stop-color="#e58a1e"/><stop offset="0.434" stop-color="#e06824"/><stop offset="0.476" stop-color="#d93129"/><stop offset="0.532" stop-color="#d3212b"/><stop offset="0.571" stop-color="#c51e29"/><stop offset="0.630" stop-color="#791a1a"/><stop offset="0.660" stop-color="#4d1310"/><stop offset="0.673" stop-color="#40110d"/><stop offset="0.682" stop-color="#3e100d"/><stop offset="0.720" stop-color="#4b130e"/><stop offset="0.776" stop-color="#7b231b"/><stop offset="0.810" stop-color="#8b2d1e"/><stop offset="0.853" stop-color="#8c2e1e"/><stop offset="0.874" stop-color="#913721"/><stop offset="0.955" stop-color="#913821"/><stop offset="0.981" stop-color="#954423"/><stop offset="0.998" stop-color="#964623"/></linearGradient><linearGradient id="g141" gradientUnits="userSpaceOnUse" x1="277" x2="511" y1="0" y2="0"><stop offset="0.002" stop-color="#c86e26"/><stop offset="0.041" stop-color="#c96926"/><stop offset="0.220" stop-color="#bb7329"/><stop offset="0.233" stop-color="#b67429"/><stop offset="0.254" stop-color="#9c6b26"/><stop offset="0.297" stop-color="#90792b"/><stop offset="0.327" stop-color="#a47d28"/><stop offset="0.370" stop-color="#a18027"/><stop offset="0.404" stop-color="#d99d1d"/><stop offset="0.412" stop-color="#dd961e"/><stop offset="0.468" stop-color="#d44328"/><stop offset="0.481" stop-color="#d23528"/><stop offset="0.506" stop-color="#ce2929"/><stop offset="0.545" stop-color="#ca212a"/><stop offset="0.566" stop-color="#c41e28"/><stop offset="0.579" stop-color="#b91e26"/><stop offset="0.665" stop-color="#49120f"/><stop offset="0.682" stop-color="#3c100d"/><stop offset="0.724" stop-color="#4a120e"/><stop offset="0.780" stop-color="#79231b"/><stop offset="0.814" stop-color="#8b2c1e"/><stop offset="0.844" stop-color="#8c2d1e"/><stop offset="0.870" stop-color="#913721"/><stop offset="0.942" stop-color="#913821"/><stop offset="0.972" stop-color="#964523"/><stop offset="0.998" stop-color="#964623"/></linearGradient><linearGradient id="g142" gradientUnits="userSpaceOnUse" x1="277" x2="511" y1="0" y2="0"><stop offset="0.002" stop-color="#c96927"/><stop offset="0.024" stop-color="#c96a27"/><stop offset="0.041" stop-color="#cb6127"/><stop offset="0.075" stop-color="#c76328"/><stop offset="0.109" stop-color="#c95d28"/><stop offset="0.216" stop-color="#c35f29"/><stop offset="0.237" stop-color="#b76329"/><stop offset="0.254" stop-color="#916025"/><stop offset="0.293" stop-color="#816c29"/><stop offset="0.327" stop-color="#917928"/><stop offset="0.370" stop-color="#857b26"/><stop offset="0.378" stop-color="#938525"/><stop offset="0.395" stop-color="#bb9f22"/><stop offset="0.404" stop-color="#c9a420"/><stop offset="0.412" stop-color="#cd9e20"/><stop offset="0.447" stop-color="#cf7225"/><stop offset="0.472" stop-color="#cb4a28"/><stop offset="0.494" stop-color="#c73328"/><stop offset="0.524" stop-color="#c32429"/><stop offset="0.571" stop-color="#bc1e27"/><stop offset="0.600" stop-color="#a11e21"/><stop offset="0.665" stop-color="#48120f"/><stop offset="0.686" stop-color="#3d100d"/><stop offset="0.720" stop-color="#45110d"/><stop offset="0.776" stop-color="#73211a"/><stop offset="0.818" stop-color="#8a2c1e"/><stop offset="0.844" stop-color="#8b2e1e"/><stop offset="0.865" stop-color="#913721"/><stop offset="0.934" stop-color="#913821"/><stop offset="0.964" stop-color="#964523"/><stop offset="0.998" stop-color="#964623"/></linearGradient><linearGradient id="g143" gradientUnits="userSpaceOnUse" x1="277" x2="511" y1="0" y2="0"><stop offset="0.002" stop-color="#cc5f2a"/><stop offset="0.024" stop-color="#cb6229"/><stop offset="0.045" stop-color="#cd5727"/><stop offset="0.071" stop-color="#cc5628"/><stop offset="0.109" stop-color="#d04a28"/><stop offset="0.203" stop-color="#cf4729"/><stop offset="0.237" stop-color="#bf4e29"/><stop offset="0.254" stop-color="#975025"/><stop offset="0.271" stop-color="#885426"/><stop offset="0.288" stop-color="#6e5924"/><stop offset="0.297" stop-color="#6b5d24"/><stop offset="0.327" stop-color="#776e25"/><stop offset="0.365" stop-color="#667224"/><stop offset="0.374" stop-color="#6c7924"/><stop offset="0.395" stop-color="#a39f23"/><stop offset="0.408" stop-color="#b9a922"/><stop offset="0.438" stop-color="#c28d24"/><stop offset="0.451" stop-color="#c47a25"/><stop offset="0.476" stop-color="#c25128"/><stop offset="0.519" stop-color="#ba2828"/><stop offset="0.558" stop-color="#b92127"/><stop offset="0.575" stop-color="#b41e25"/><stop offset="0.600" stop-color="#a01e21"/><stop offset="0.622" stop-color="#891c1c"/><stop offset="0.665" stop-color="#49120e"/><stop offset="0.707" stop-color="#40100d"/><stop offset="0.724" stop-color="#47120e"/><stop offset="0.776" stop-color="#73211a"/><stop offset="0.827" stop-color="#8b2e1e"/><stop offset="0.861" stop-color="#913721"/><stop offset="0.925" stop-color="#913821"/><stop offset="0.955" stop-color="#964523"/><stop offset="0.998" stop-color="#964623"/></linearGradient><linearGradient id="g144" gradientUnits="userSpaceOnUse" x1="277" x2="511" y1="0" y2="0"><stop offset="0.002" stop-color="#cd5a2b"/><stop offset="0.028" stop-color="#cd5a29"/><stop offset="0.045" stop-color="#d04e28"/><stop offset="0.113" stop-color="#d73928"/><stop offset="0.182" stop-color="#db3128"/><stop offset="0.207" stop-color="#d33428"/><stop offset="0.241" stop-color="#c23b28"/><stop offset="0.267" stop-color="#944025"/><stop offset="0.288" stop-color="#55431d"/><stop offset="0.301" stop-color="#4e4a1d"/><stop offset="0.331" stop-color="#575f21"/><stop offset="0.361" stop-color="#4b6823"/><stop offset="0.370" stop-color="#4d6e24"/><stop offset="0.378" stop-color="#5d7a24"/><stop offset="0.400" stop-color="#91a125"/><stop offset="0.412" stop-color="#a5a825"/><stop offset="0.434" stop-color="#b39a24"/><stop offset="0.451" stop-color="#b88624"/><stop offset="0.476" stop-color="#b85d27"/><stop offset="0.515" stop-color="#b33627"/><stop offset="0.562" stop-color="#b62626"/><stop offset="0.579" stop-color="#af2024"/><stop offset="0.626" stop-color="#8b1c1e"/><stop offset="0.656" stop-color="#5a1511"/><stop offset="0.665" stop-color="#52140f"/><stop offset="0.690" stop-color="#51130f"/><stop offset="0.712" stop-color="#47110e"/><stop offset="0.729" stop-color="#4e1410"/><stop offset="0.771" stop-color="#702019"/><stop offset="0.831" stop-color="#8a2e1e"/><stop offset="0.861" stop-color="#913721"/><stop offset="0.912" stop-color="#913821"/><stop offset="0.942" stop-color="#964523"/><stop offset="0.998" stop-color="#974723"/></linearGradient><linearGradient id="g145" gradientUnits="userSpaceOnUse" x1="277" x2="511" y1="0" y2="0"><stop offset="0.002" stop-color="#cd5a2b"/><stop offset="0.024" stop-color="#cd582a"/><stop offset="0.049" stop-color="#d34428"/><stop offset="0.113" stop-color="#dc2e28"/><stop offset="0.182" stop-color="#df2528"/><stop offset="0.237" stop-color="#cb2828"/><stop offset="0.250" stop-color="#bf2a27"/><stop offset="0.259" stop-color="#ab2b25"/><stop offset="0.267" stop-color="#8e2c21"/><stop offset="0.280" stop-color="#582c19"/><stop offset="0.288" stop-color="#3e2d15"/><stop offset="0.297" stop-color="#353115"/><stop offset="0.310" stop-color="#323817"/><stop offset="0.340" stop-color="#39531e"/><stop offset="0.365" stop-color="#376423"/><stop offset="0.374" stop-color="#406f25"/><stop offset="0.387" stop-color="#5b8426"/><stop offset="0.395" stop-color="#679028"/><stop offset="0.412" stop-color="#809e29"/><stop offset="0.429" stop-color="#9e9d26"/><stop offset="0.447" stop-color="#a89025"/><stop offset="0.464" stop-color="#ae7b24"/><stop offset="0.481" stop-color="#ae6325"/><stop offset="0.502" stop-color="#ad4e26"/><stop offset="0.571" stop-color="#b62825"/><stop offset="0.626" stop-color="#921e1f"/><stop offset="0.665" stop-color="#611613"/><stop offset="0.694" stop-color="#5c1511"/><stop offset="0.716" stop-color="#531310"/><stop offset="0.776" stop-color="#73211a"/><stop offset="0.857" stop-color="#8f3520"/><stop offset="0.904" stop-color="#913821"/><stop offset="0.934" stop-color="#964523"/><stop offset="0.981" stop-color="#964723"/><stop offset="0.998" stop-color="#9b5224"/></linearGradient><linearGradient id="g146" gradientUnits="userSpaceOnUse" x1="277" x2="511" y1="0" y2="0"><stop offset="0.002" stop-color="#cd5a2b"/><stop offset="0.019" stop-color="#cd582b"/><stop offset="0.049" stop-color="#d43e28"/><stop offset="0.109" stop-color="#dd2a28"/><stop offset="0.182" stop-color="#e12228"/><stop offset="0.241" stop-color="#cb2028"/><stop offset="0.250" stop-color="#c22027"/><stop offset="0.254" stop-color="#b72025"/><stop offset="0.280" stop-color="#4e1f15"/><stop offset="0.288" stop-color="#351f11"/><stop offset="0.301" stop-color="#24220f"/><stop offset="0.318" stop-color="#1f2c12"/><stop offset="0.365" stop-color="#275f24"/><stop offset="0.404" stop-color="#468a2e"/><stop offset="0.412" stop-color="#56902d"/><stop offset="0.429" stop-color="#819729"/><stop offset="0.442" stop-color="#949427"/><stop offset="0.464" stop-color="#a18124"/><stop offset="0.489" stop-color="#a66724"/><stop offset="0.536" stop-color="#b54d24"/><stop offset="0.558" stop-color="#ba3b25"/><stop offset="0.579" stop-color="#b52c24"/><stop offset="0.626" stop-color="#992121"/><stop offset="0.665" stop-color="#701817"/><stop offset="0.716" stop-color="#5f1612"/><stop offset="0.857" stop-color="#8f3521"/><stop offset="0.891" stop-color="#913821"/><stop offset="0.921" stop-color="#964523"/><stop offset="0.972" stop-color="#964723"/><stop offset="0.981" stop-color="#994c23"/><stop offset="0.998" stop-color="#a56725"/></linearGradient><linearGradient id="g147" gradientUnits="userSpaceOnUse" x1="277" x2="511" y1="0" y2="0"><stop offset="0.002" stop-color="#cd5a2b"/><stop offset="0.019" stop-color="#cd582b"/><stop offset="0.049" stop-color="#d63828"/><stop offset="0.109" stop-color="#df2728"/><stop offset="0.182" stop-color="#e12028"/><stop offset="0.237" stop-color="#ce1e28"/><stop offset="0.246" stop-color="#c71e27"/><stop offset="0.254" stop-color="#b41e25"/><stop offset="0.276" stop-color="#651c17"/><stop offset="0.297" stop-color="#2d170d"/><stop offset="0.310" stop-color="#1b190c"/><stop offset="0.323" stop-color="#16230f"/><stop offset="0.378" stop-color="#226b2a"/><stop offset="0.404" stop-color="#2c8332"/><stop offset="0.417" stop-color="#3e8c32"/><stop offset="0.438" stop-color="#75972c"/><stop offset="0.451" stop-color="#899429"/><stop offset="0.464" stop-color="#938b26"/><stop offset="0.494" stop-color="#a07525"/><stop offset="0.532" stop-color="#b76524"/><stop offset="0.562" stop-color="#c04625"/><stop offset="0.575" stop-color="#bf3b24"/><stop offset="0.613" stop-color="#a52922"/><stop offset="0.630" stop-color="#9e2621"/><stop offset="0.665" stop-color="#7c1c1a"/><stop offset="0.716" stop-color="#6b1914"/><stop offset="0.853" stop-color="#903621"/><stop offset="0.887" stop-color="#923a21"/><stop offset="0.908" stop-color="#964523"/><stop offset="0.964" stop-color="#964723"/><stop offset="0.972" stop-color="#994c23"/><stop offset="0.989" stop-color="#a76c26"/><stop offset="0.998" stop-color="#a97226"/></linearGradient><linearGradient id="g148" gradientUnits="userSpaceOnUse" x1="277" x2="511" y1="0" y2="0"><stop offset="0.002" stop-color="#cd5a2b"/><stop offset="0.019" stop-color="#ce542b"/><stop offset="0.049" stop-color="#d73228"/><stop offset="0.113" stop-color="#e02328"/><stop offset="0.177" stop-color="#e11f28"/><stop offset="0.233" stop-color="#cf1e28"/><stop offset="0.250" stop-color="#bd1e26"/><stop offset="0.301" stop-color="#32120c"/><stop offset="0.314" stop-color="#191109"/><stop offset="0.323" stop-color="#12170b"/><stop offset="0.382" stop-color="#1c6e2e"/><stop offset="0.408" stop-color="#258836"/><stop offset="0.425" stop-color="#3a9236"/><stop offset="0.442" stop-color="#629b31"/><stop offset="0.464" stop-color="#84992a"/><stop offset="0.494" stop-color="#968828"/><stop offset="0.528" stop-color="#b88323"/><stop offset="0.545" stop-color="#bf7324"/><stop offset="0.566" stop-color="#ca5522"/><stop offset="0.618" stop-color="#ac2e23"/><stop offset="0.630" stop-color="#a62c22"/><stop offset="0.665" stop-color="#85201c"/><stop offset="0.724" stop-color="#751e17"/><stop offset="0.848" stop-color="#903721"/><stop offset="0.904" stop-color="#964623"/><stop offset="0.955" stop-color="#964723"/><stop offset="0.964" stop-color="#994c23"/><stop offset="0.981" stop-color="#a76d26"/><stop offset="0.998" stop-color="#aa7326"/></linearGradient><linearGradient id="g149" gradientUnits="userSpaceOnUse" x1="277" x2="511" y1="0" y2="0"><stop offset="0.002" stop-color="#cd592b"/><stop offset="0.011" stop-color="#ce542b"/><stop offset="0.024" stop-color="#d24129"/><stop offset="0.053" stop-color="#d82d28"/><stop offset="0.113" stop-color="#e02128"/><stop offset="0.165" stop-color="#e11f28"/><stop offset="0.224" stop-color="#d31e28"/><stop offset="0.241" stop-color="#c51e27"/><stop offset="0.254" stop-color="#b31d24"/><stop offset="0.318" stop-color="#190e08"/><stop offset="0.327" stop-color="#14160b"/><stop offset="0.353" stop-color="#123618"/><stop offset="0.391" stop-color="#1b7733"/><stop offset="0.404" stop-color="#208638"/><stop offset="0.421" stop-color="#29923a"/><stop offset="0.434" stop-color="#389939"/><stop offset="0.455" stop-color="#61a232"/><stop offset="0.468" stop-color="#76a22d"/><stop offset="0.528" stop-color="#bc9f23"/><stop offset="0.541" stop-color="#c49122"/><stop offset="0.566" stop-color="#d36a20"/><stop offset="0.618" stop-color="#b43623"/><stop offset="0.630" stop-color="#ae3224"/><stop offset="0.669" stop-color="#8b231d"/><stop offset="0.707" stop-color="#83221b"/><stop offset="0.746" stop-color="#7f251a"/><stop offset="0.806" stop-color="#8b3020"/><stop offset="0.900" stop-color="#964623"/><stop offset="0.947" stop-color="#964723"/><stop offset="0.955" stop-color="#994c23"/><stop offset="0.976" stop-color="#a97026"/><stop offset="0.998" stop-color="#aa7326"/></linearGradient><linearGradient id="g150" gradientUnits="userSpaceOnUse" x1="277" x2="511" y1="0" y2="0"><stop offset="0.002" stop-color="#d04e2a"/><stop offset="0.019" stop-color="#d53529"/><stop offset="0.036" stop-color="#d33829"/><stop offset="0.049" stop-color="#d72d28"/><stop offset="0.062" stop-color="#db2928"/><stop offset="0.083" stop-color="#e02528"/><stop offset="0.156" stop-color="#e01f28"/><stop offset="0.220" stop-color="#d41e28"/><stop offset="0.241" stop-color="#c01d26"/><stop offset="0.259" stop-color="#a81b22"/><stop offset="0.318" stop-color="#220e0a"/><stop offset="0.348" stop-color="#11210f"/><stop offset="0.357" stop-color="#102e14"/><stop offset="0.382" stop-color="#16642c"/><stop offset="0.404" stop-color="#1d8439"/><stop offset="0.438" stop-color="#319839"/><stop offset="0.455" stop-color="#4ba336"/><stop offset="0.481" stop-color="#7bab2d"/><stop offset="0.528" stop-color="#bdb422"/><stop offset="0.541" stop-color="#cbaa20"/><stop offset="0.566" stop-color="#db811d"/><stop offset="0.588" stop-color="#d05e20"/><stop offset="0.613" stop-color="#be4224"/><stop offset="0.630" stop-color="#b63825"/><stop offset="0.665" stop-color="#97291f"/><stop offset="0.677" stop-color="#91251e"/><stop offset="0.754" stop-color="#882a1d"/><stop offset="0.904" stop-color="#974823"/><stop offset="0.938" stop-color="#964723"/><stop offset="0.947" stop-color="#994c23"/><stop offset="0.968" stop-color="#a97026"/><stop offset="0.998" stop-color="#aa7326"/></linearGradient><linearGradient id="g151" gradientUnits="userSpaceOnUse" x1="277" x2="511" y1="0" y2="0"><stop offset="0.002" stop-color="#d33929"/><stop offset="0.019" stop-color="#d62e28"/><stop offset="0.036" stop-color="#d33629"/><stop offset="0.053" stop-color="#d82b28"/><stop offset="0.083" stop-color="#df2328"/><stop offset="0.156" stop-color="#de1e28"/><stop offset="0.216" stop-color="#d31e28"/><stop offset="0.233" stop-color="#c31d26"/><stop offset="0.259" stop-color="#a21b21"/><stop offset="0.318" stop-color="#2b0e0b"/><stop offset="0.348" stop-color="#11140a"/><stop offset="0.357" stop-color="#0e1c0d"/><stop offset="0.391" stop-color="#17692f"/><stop offset="0.404" stop-color="#1b7d37"/><stop offset="0.412" stop-color="#1f8539"/><stop offset="0.434" stop-color="#298a36"/><stop offset="0.451" stop-color="#359e39"/><stop offset="0.494" stop-color="#88b52b"/><stop offset="0.528" stop-color="#bbbf21"/><stop offset="0.545" stop-color="#d3bc1c"/><stop offset="0.562" stop-color="#e0a51a"/><stop offset="0.588" stop-color="#d76e20"/><stop offset="0.609" stop-color="#c84f24"/><stop offset="0.643" stop-color="#b33924"/><stop offset="0.677" stop-color="#982920"/><stop offset="0.763" stop-color="#8e301e"/><stop offset="0.904" stop-color="#984b23"/><stop offset="0.929" stop-color="#964723"/><stop offset="0.938" stop-color="#994c23"/><stop offset="0.959" stop-color="#a97026"/><stop offset="0.998" stop-color="#aa7326"/></linearGradient><linearGradient id="g152" gradientUnits="userSpaceOnUse" x1="277" x2="511" y1="0" y2="0"><stop offset="0.002" stop-color="#d32e28"/><stop offset="0.036" stop-color="#d33328"/><stop offset="0.083" stop-color="#dd2328"/><stop offset="0.156" stop-color="#db1e28"/><stop offset="0.216" stop-color="#ce1e27"/><stop offset="0.233" stop-color="#be1d25"/><stop offset="0.263" stop-color="#97191f"/><stop offset="0.318" stop-color="#300d0b"/><stop offset="0.348" stop-color="#130d07"/><stop offset="0.361" stop-color="#0e170b"/><stop offset="0.374" stop-color="#112f16"/><stop offset="0.404" stop-color="#197234"/><stop offset="0.412" stop-color="#1c7936"/><stop offset="0.434" stop-color="#247b32"/><stop offset="0.455" stop-color="#2f9d3a"/><stop offset="0.498" stop-color="#82b92c"/><stop offset="0.536" stop-color="#c2c81e"/><stop offset="0.549" stop-color="#d7ca1a"/><stop offset="0.562" stop-color="#e5bf17"/><stop offset="0.596" stop-color="#d77221"/><stop offset="0.609" stop-color="#cf5b24"/><stop offset="0.622" stop-color="#c64f25"/><stop offset="0.677" stop-color="#9e2e21"/><stop offset="0.763" stop-color="#92361e"/><stop offset="0.904" stop-color="#9a4f23"/><stop offset="0.925" stop-color="#984b23"/><stop offset="0.929" stop-color="#994d23"/><stop offset="0.951" stop-color="#a97026"/><stop offset="0.998" stop-color="#aa7326"/></linearGradient><linearGradient id="g153" gradientUnits="userSpaceOnUse" x1="277" x2="511" y1="0" y2="0"><stop offset="0.002" stop-color="#d22d28"/><stop offset="0.036" stop-color="#d33028"/><stop offset="0.079" stop-color="#db2428"/><stop offset="0.152" stop-color="#d91e28"/><stop offset="0.216" stop-color="#c91e27"/><stop offset="0.229" stop-color="#be1d26"/><stop offset="0.267" stop-color="#8d181d"/><stop offset="0.306" stop-color="#4a1010"/><stop offset="0.323" stop-color="#310e0b"/><stop offset="0.353" stop-color="#140c08"/><stop offset="0.378" stop-color="#102312"/><stop offset="0.404" stop-color="#165b2b"/><stop offset="0.412" stop-color="#18652e"/><stop offset="0.429" stop-color="#1d682d"/><stop offset="0.455" stop-color="#269639"/><stop offset="0.464" stop-color="#2e9f3a"/><stop offset="0.481" stop-color="#46a936"/><stop offset="0.528" stop-color="#9ec325"/><stop offset="0.553" stop-color="#d8d118"/><stop offset="0.562" stop-color="#e6ce16"/><stop offset="0.566" stop-color="#e8c916"/><stop offset="0.609" stop-color="#d46b23"/><stop offset="0.618" stop-color="#cd5d24"/><stop offset="0.682" stop-color="#a23421"/><stop offset="0.767" stop-color="#953c1e"/><stop offset="0.921" stop-color="#9d5624"/><stop offset="0.947" stop-color="#aa7226"/><stop offset="0.998" stop-color="#aa7326"/></linearGradient><linearGradient id="g154" gradientUnits="userSpaceOnUse" x1="277" x2="511" y1="0" y2="0"><stop offset="0.002" stop-color="#d22d28"/><stop offset="0.036" stop-color="#d22e28"/><stop offset="0.079" stop-color="#d92428"/><stop offset="0.152" stop-color="#d61e28"/><stop offset="0.216" stop-color="#c41e26"/><stop offset="0.276" stop-color="#7e161b"/><stop offset="0.314" stop-color="#420f0e"/><stop offset="0.340" stop-color="#230c09"/><stop offset="0.374" stop-color="#11110a"/><stop offset="0.387" stop-color="#0e1b0f"/><stop offset="0.408" stop-color="#124120"/><stop offset="0.429" stop-color="#195a29"/><stop offset="0.459" stop-color="#22953b"/><stop offset="0.489" stop-color="#3aa638"/><stop offset="0.502" stop-color="#4cad34"/><stop offset="0.515" stop-color="#65b530"/><stop offset="0.532" stop-color="#92c126"/><stop offset="0.553" stop-color="#d6d319"/><stop offset="0.562" stop-color="#e8d316"/><stop offset="0.566" stop-color="#eacf16"/><stop offset="0.583" stop-color="#e6b519"/><stop offset="0.605" stop-color="#dc871f"/><stop offset="0.622" stop-color="#cb6524"/><stop offset="0.652" stop-color="#b54f23"/><stop offset="0.686" stop-color="#a43c22"/><stop offset="0.767" stop-color="#98421e"/><stop offset="0.921" stop-color="#a15e24"/><stop offset="0.947" stop-color="#aa7226"/><stop offset="0.998" stop-color="#aa7326"/></linearGradient><linearGradient id="g155" gradientUnits="userSpaceOnUse" x1="277" x2="511" y1="0" y2="0"><stop offset="0.002" stop-color="#d22d28"/><stop offset="0.036" stop-color="#d22d28"/><stop offset="0.083" stop-color="#d72328"/><stop offset="0.147" stop-color="#d31e28"/><stop offset="0.216" stop-color="#bf1e26"/><stop offset="0.250" stop-color="#961920"/><stop offset="0.284" stop-color="#751418"/><stop offset="0.340" stop-color="#260c09"/><stop offset="0.382" stop-color="#100c09"/><stop offset="0.395" stop-color="#0d140e"/><stop offset="0.421" stop-color="#133b20"/><stop offset="0.447" stop-color="#1a6f33"/><stop offset="0.464" stop-color="#208c3b"/><stop offset="0.476" stop-color="#26983b"/><stop offset="0.502" stop-color="#38a538"/><stop offset="0.511" stop-color="#46ab35"/><stop offset="0.519" stop-color="#5db330"/><stop offset="0.553" stop-color="#d6d419"/><stop offset="0.562" stop-color="#e9d516"/><stop offset="0.566" stop-color="#ecd216"/><stop offset="0.605" stop-color="#e0971e"/><stop offset="0.626" stop-color="#c96c23"/><stop offset="0.690" stop-color="#a64422"/><stop offset="0.767" stop-color="#9b481e"/><stop offset="0.921" stop-color="#a36424"/><stop offset="0.951" stop-color="#aa7226"/><stop offset="0.998" stop-color="#aa7326"/></linearGradient><linearGradient id="g156" gradientUnits="userSpaceOnUse" x1="277" x2="511" y1="0" y2="0"><stop offset="0.002" stop-color="#d22d28"/><stop offset="0.041" stop-color="#d22c28"/><stop offset="0.083" stop-color="#d52328"/><stop offset="0.139" stop-color="#d11f28"/><stop offset="0.212" stop-color="#bd1e26"/><stop offset="0.224" stop-color="#b21d24"/><stop offset="0.254" stop-color="#8c171e"/><stop offset="0.288" stop-color="#731418"/><stop offset="0.323" stop-color="#3f100c"/><stop offset="0.340" stop-color="#2a0c0a"/><stop offset="0.382" stop-color="#140b08"/><stop offset="0.404" stop-color="#0f1110"/><stop offset="0.417" stop-color="#10211a"/><stop offset="0.434" stop-color="#16412c"/><stop offset="0.459" stop-color="#1c673b"/><stop offset="0.476" stop-color="#218b3c"/><stop offset="0.494" stop-color="#2a993a"/><stop offset="0.506" stop-color="#37a237"/><stop offset="0.515" stop-color="#47aa34"/><stop offset="0.524" stop-color="#60b330"/><stop offset="0.558" stop-color="#e0d617"/><stop offset="0.566" stop-color="#ecd316"/><stop offset="0.605" stop-color="#e2a01d"/><stop offset="0.630" stop-color="#c77223"/><stop offset="0.694" stop-color="#a94d23"/><stop offset="0.767" stop-color="#9f4e1e"/><stop offset="0.955" stop-color="#aa7326"/><stop offset="0.998" stop-color="#aa7326"/></linearGradient><linearGradient id="g157" gradientUnits="userSpaceOnUse" x1="277" x2="511" y1="0" y2="0"><stop offset="0.002" stop-color="#d22d28"/><stop offset="0.041" stop-color="#d12d28"/><stop offset="0.083" stop-color="#d22328"/><stop offset="0.135" stop-color="#ce1f28"/><stop offset="0.212" stop-color="#b81d25"/><stop offset="0.220" stop-color="#b21d24"/><stop offset="0.254" stop-color="#86161c"/><stop offset="0.288" stop-color="#731417"/><stop offset="0.323" stop-color="#42110c"/><stop offset="0.344" stop-color="#2c0c0a"/><stop offset="0.387" stop-color="#170c09"/><stop offset="0.412" stop-color="#111114"/><stop offset="0.425" stop-color="#132627"/><stop offset="0.434" stop-color="#1a3048"/><stop offset="0.438" stop-color="#1c3153"/><stop offset="0.442" stop-color="#1c3354"/><stop offset="0.455" stop-color="#193f3e"/><stop offset="0.485" stop-color="#20863c"/><stop offset="0.502" stop-color="#2f9939"/><stop offset="0.515" stop-color="#43a635"/><stop offset="0.524" stop-color="#57b031"/><stop offset="0.532" stop-color="#75ba2b"/><stop offset="0.553" stop-color="#d1d41a"/><stop offset="0.558" stop-color="#ded618"/><stop offset="0.571" stop-color="#ebd016"/><stop offset="0.600" stop-color="#e5aa1b"/><stop offset="0.630" stop-color="#c97b23"/><stop offset="0.694" stop-color="#ac5623"/><stop offset="0.767" stop-color="#a3561f"/><stop offset="0.951" stop-color="#aa7226"/><stop offset="0.998" stop-color="#aa7326"/></linearGradient><linearGradient id="g158" gradientUnits="userSpaceOnUse" x1="277" x2="511" y1="0" y2="0"><stop offset="0.002" stop-color="#d22d28"/><stop offset="0.045" stop-color="#cf2d28"/><stop offset="0.083" stop-color="#cf2328"/><stop offset="0.139" stop-color="#ca1f27"/><stop offset="0.212" stop-color="#b31d25"/><stop offset="0.224" stop-color="#a81c23"/><stop offset="0.250" stop-color="#85161c"/><stop offset="0.288" stop-color="#731417"/><stop offset="0.323" stop-color="#47120d"/><stop offset="0.353" stop-color="#2a0c09"/><stop offset="0.370" stop-color="#210b08"/><stop offset="0.391" stop-color="#1c0e0a"/><stop offset="0.412" stop-color="#161014"/><stop offset="0.421" stop-color="#141820"/><stop offset="0.425" stop-color="#15202a"/><stop offset="0.434" stop-color="#1f2a66"/><stop offset="0.438" stop-color="#242a7e"/><stop offset="0.442" stop-color="#252988"/><stop offset="0.447" stop-color="#252a87"/><stop offset="0.451" stop-color="#232b7c"/><stop offset="0.459" stop-color="#1c344f"/><stop offset="0.464" stop-color="#1b3c42"/><stop offset="0.489" stop-color="#20833c"/><stop offset="0.502" stop-color="#2e9539"/><stop offset="0.515" stop-color="#45a435"/><stop offset="0.524" stop-color="#5ab030"/><stop offset="0.532" stop-color="#78bb2b"/><stop offset="0.553" stop-color="#d1d41a"/><stop offset="0.562" stop-color="#e0d417"/><stop offset="0.579" stop-color="#eac918"/><stop offset="0.600" stop-color="#e5ae1b"/><stop offset="0.635" stop-color="#c87f24"/><stop offset="0.690" stop-color="#af6023"/><stop offset="0.767" stop-color="#a65e21"/><stop offset="0.887" stop-color="#a86e24"/><stop offset="0.998" stop-color="#aa7326"/></linearGradient><linearGradient id="g159" gradientUnits="userSpaceOnUse" x1="277" x2="511" y1="0" y2="0"><stop offset="0.002" stop-color="#d22d28"/><stop offset="0.049" stop-color="#cd2d28"/><stop offset="0.083" stop-color="#cc2328"/><stop offset="0.143" stop-color="#c51e27"/><stop offset="0.212" stop-color="#ae1d24"/><stop offset="0.220" stop-color="#a81c23"/><stop offset="0.250" stop-color="#82161b"/><stop offset="0.284" stop-color="#771417"/><stop offset="0.318" stop-color="#52140e"/><stop offset="0.340" stop-color="#3b0e0b"/><stop offset="0.374" stop-color="#230c08"/><stop offset="0.395" stop-color="#23100c"/><stop offset="0.412" stop-color="#1c1215"/><stop offset="0.425" stop-color="#171c25"/><stop offset="0.429" stop-color="#182336"/><stop offset="0.438" stop-color="#23297d"/><stop offset="0.442" stop-color="#272890"/><stop offset="0.451" stop-color="#272992"/><stop offset="0.455" stop-color="#27298e"/><stop offset="0.459" stop-color="#232d7a"/><stop offset="0.464" stop-color="#1f345d"/><stop offset="0.468" stop-color="#1c3e46"/><stop offset="0.485" stop-color="#1f733e"/><stop offset="0.498" stop-color="#298d3a"/><stop offset="0.515" stop-color="#51a733"/><stop offset="0.532" stop-color="#88c128"/><stop offset="0.553" stop-color="#d0d31a"/><stop offset="0.562" stop-color="#dbd119"/><stop offset="0.588" stop-color="#e9c019"/><stop offset="0.600" stop-color="#e5b21b"/><stop offset="0.639" stop-color="#c78225"/><stop offset="0.686" stop-color="#b26923"/><stop offset="0.767" stop-color="#aa6722"/><stop offset="0.806" stop-color="#ac6e23"/><stop offset="0.998" stop-color="#ab7526"/></linearGradient><linearGradient id="g160" gradientUnits="userSpaceOnUse" x1="277" x2="511" y1="0" y2="0"><stop offset="0.002" stop-color="#d22d28"/><stop offset="0.032" stop-color="#d12c28"/><stop offset="0.053" stop-color="#ca2d28"/><stop offset="0.083" stop-color="#c92328"/><stop offset="0.143" stop-color="#c11f26"/><stop offset="0.212" stop-color="#a91c23"/><stop offset="0.220" stop-color="#a31c22"/><stop offset="0.250" stop-color="#7f151a"/><stop offset="0.288" stop-color="#741416"/><stop offset="0.318" stop-color="#58160f"/><stop offset="0.344" stop-color="#3d0e0b"/><stop offset="0.374" stop-color="#280d08"/><stop offset="0.395" stop-color="#2b130d"/><stop offset="0.421" stop-color="#1d161c"/><stop offset="0.429" stop-color="#191e28"/><stop offset="0.434" stop-color="#192434"/><stop offset="0.442" stop-color="#222a70"/><stop offset="0.447" stop-color="#252a85"/><stop offset="0.455" stop-color="#27298e"/><stop offset="0.459" stop-color="#252b84"/><stop offset="0.468" stop-color="#1f3954"/><stop offset="0.472" stop-color="#1f4544"/><stop offset="0.485" stop-color="#226f3e"/><stop offset="0.494" stop-color="#29843a"/><stop offset="0.502" stop-color="#3c9436"/><stop offset="0.528" stop-color="#8fc228"/><stop offset="0.545" stop-color="#bfcd1e"/><stop offset="0.553" stop-color="#d0cd1b"/><stop offset="0.588" stop-color="#e5bc1a"/><stop offset="0.605" stop-color="#e1b01d"/><stop offset="0.643" stop-color="#c78526"/><stop offset="0.682" stop-color="#b57024"/><stop offset="0.878" stop-color="#ac7626"/><stop offset="0.934" stop-color="#aa7325"/><stop offset="0.998" stop-color="#ae7b28"/></linearGradient><linearGradient id="g161" gradientUnits="userSpaceOnUse" x1="277" x2="511" y1="0" y2="0"><stop offset="0.002" stop-color="#d22d28"/><stop offset="0.041" stop-color="#cb2828"/><stop offset="0.058" stop-color="#c82e28"/><stop offset="0.088" stop-color="#c62328"/><stop offset="0.147" stop-color="#bd1f26"/><stop offset="0.212" stop-color="#a61d23"/><stop offset="0.224" stop-color="#9c1b21"/><stop offset="0.250" stop-color="#7e161a"/><stop offset="0.293" stop-color="#721516"/><stop offset="0.314" stop-color="#5f1811"/><stop offset="0.361" stop-color="#350f0a"/><stop offset="0.374" stop-color="#2f0f09"/><stop offset="0.391" stop-color="#34150d"/><stop offset="0.425" stop-color="#23191f"/><stop offset="0.438" stop-color="#1f242c"/><stop offset="0.442" stop-color="#202a38"/><stop offset="0.451" stop-color="#232e5a"/><stop offset="0.455" stop-color="#242f63"/><stop offset="0.459" stop-color="#243163"/><stop offset="0.472" stop-color="#294441"/><stop offset="0.494" stop-color="#3b8236"/><stop offset="0.515" stop-color="#7ead2b"/><stop offset="0.528" stop-color="#9dbf26"/><stop offset="0.545" stop-color="#c3c51f"/><stop offset="0.553" stop-color="#cfc31c"/><stop offset="0.583" stop-color="#deb51c"/><stop offset="0.605" stop-color="#ddad1e"/><stop offset="0.643" stop-color="#c88b27"/><stop offset="0.682" stop-color="#b67424"/><stop offset="0.874" stop-color="#ae7a27"/><stop offset="0.942" stop-color="#ab7526"/><stop offset="0.998" stop-color="#af7d28"/></linearGradient><linearGradient id="g162" gradientUnits="userSpaceOnUse" x1="277" x2="511" y1="0" y2="0"><stop offset="0.002" stop-color="#d22d28"/><stop offset="0.041" stop-color="#c92528"/><stop offset="0.058" stop-color="#c72f28"/><stop offset="0.088" stop-color="#c42528"/><stop offset="0.147" stop-color="#ba2026"/><stop offset="0.212" stop-color="#a31d23"/><stop offset="0.224" stop-color="#9c1c22"/><stop offset="0.250" stop-color="#7f171b"/><stop offset="0.293" stop-color="#721617"/><stop offset="0.365" stop-color="#37120b"/><stop offset="0.391" stop-color="#3e170e"/><stop offset="0.425" stop-color="#311f1e"/><stop offset="0.438" stop-color="#322622"/><stop offset="0.455" stop-color="#323636"/><stop offset="0.468" stop-color="#3b4138"/><stop offset="0.476" stop-color="#464f36"/><stop offset="0.489" stop-color="#507231"/><stop offset="0.502" stop-color="#70902b"/><stop offset="0.515" stop-color="#92a626"/><stop offset="0.528" stop-color="#a4b425"/><stop offset="0.541" stop-color="#bbba22"/><stop offset="0.549" stop-color="#c9b91f"/><stop offset="0.558" stop-color="#d0b51e"/><stop offset="0.596" stop-color="#d9ab1e"/><stop offset="0.643" stop-color="#c78c27"/><stop offset="0.682" stop-color="#b77725"/><stop offset="0.767" stop-color="#b37c26"/><stop offset="0.951" stop-color="#ac7827"/><stop offset="0.998" stop-color="#af7d28"/></linearGradient><linearGradient id="g163" gradientUnits="userSpaceOnUse" x1="277" x2="511" y1="0" y2="0"><stop offset="0.002" stop-color="#d02e28"/><stop offset="0.036" stop-color="#c82328"/><stop offset="0.058" stop-color="#c53028"/><stop offset="0.092" stop-color="#c02628"/><stop offset="0.152" stop-color="#b52126"/><stop offset="0.216" stop-color="#9f1e23"/><stop offset="0.250" stop-color="#82191c"/><stop offset="0.297" stop-color="#701717"/><stop offset="0.327" stop-color="#571512"/><stop offset="0.370" stop-color="#3c160c"/><stop offset="0.391" stop-color="#481a0f"/><stop offset="0.417" stop-color="#422219"/><stop offset="0.438" stop-color="#462e1d"/><stop offset="0.459" stop-color="#524129"/><stop offset="0.476" stop-color="#62542c"/><stop offset="0.489" stop-color="#6d6e2a"/><stop offset="0.506" stop-color="#928f23"/><stop offset="0.528" stop-color="#aba624"/><stop offset="0.541" stop-color="#bdaf22"/><stop offset="0.558" stop-color="#cdab20"/><stop offset="0.600" stop-color="#d2a220"/><stop offset="0.682" stop-color="#b87a25"/><stop offset="0.865" stop-color="#af7d28"/><stop offset="0.998" stop-color="#af7d28"/></linearGradient><linearGradient id="g164" gradientUnits="userSpaceOnUse" x1="277" x2="511" y1="0" y2="0"><stop offset="0.002" stop-color="#c53428"/><stop offset="0.041" stop-color="#c62728"/><stop offset="0.062" stop-color="#c33128"/><stop offset="0.096" stop-color="#bd2728"/><stop offset="0.173" stop-color="#ac2125"/><stop offset="0.224" stop-color="#981e22"/><stop offset="0.250" stop-color="#851a1d"/><stop offset="0.301" stop-color="#6d1818"/><stop offset="0.370" stop-color="#42190d"/><stop offset="0.391" stop-color="#521d10"/><stop offset="0.429" stop-color="#573116"/><stop offset="0.447" stop-color="#5e3d1b"/><stop offset="0.481" stop-color="#7e6022"/><stop offset="0.506" stop-color="#9e8421"/><stop offset="0.532" stop-color="#b59d23"/><stop offset="0.545" stop-color="#c2a422"/><stop offset="0.605" stop-color="#cb9b22"/><stop offset="0.682" stop-color="#b97c26"/><stop offset="0.865" stop-color="#af7d28"/><stop offset="0.998" stop-color="#af7d28"/></linearGradient><linearGradient id="g165" gradientUnits="userSpaceOnUse" x1="277" x2="511" y1="0" y2="0"><stop offset="0.002" stop-color="#bb3b28"/><stop offset="0.071" stop-color="#c13028"/><stop offset="0.100" stop-color="#ba2828"/><stop offset="0.169" stop-color="#ab2325"/><stop offset="0.229" stop-color="#951e21"/><stop offset="0.310" stop-color="#691917"/><stop offset="0.370" stop-color="#481c0f"/><stop offset="0.391" stop-color="#5b2111"/><stop offset="0.438" stop-color="#673c16"/><stop offset="0.532" stop-color="#b89422"/><stop offset="0.545" stop-color="#c09c23"/><stop offset="0.609" stop-color="#c69524"/><stop offset="0.682" stop-color="#b87e26"/><stop offset="0.865" stop-color="#af7d28"/><stop offset="0.998" stop-color="#af7d28"/></linearGradient><linearGradient id="g166" gradientUnits="userSpaceOnUse" x1="277" x2="511" y1="0" y2="0"><stop offset="0.002" stop-color="#b93c28"/><stop offset="0.045" stop-color="#ba3a28"/><stop offset="0.071" stop-color="#bf3228"/><stop offset="0.096" stop-color="#b92b28"/><stop offset="0.173" stop-color="#a82525"/><stop offset="0.233" stop-color="#922021"/><stop offset="0.306" stop-color="#6f1b19"/><stop offset="0.370" stop-color="#4d1f10"/><stop offset="0.391" stop-color="#622313"/><stop offset="0.425" stop-color="#6b3716"/><stop offset="0.447" stop-color="#754718"/><stop offset="0.476" stop-color="#91631d"/><stop offset="0.506" stop-color="#a17620"/><stop offset="0.532" stop-color="#b68e22"/><stop offset="0.549" stop-color="#bd9624"/><stop offset="0.609" stop-color="#c19225"/><stop offset="0.677" stop-color="#b87f27"/><stop offset="0.998" stop-color="#af7d28"/></linearGradient><linearGradient id="g167" gradientUnits="userSpaceOnUse" x1="277" x2="511" y1="0" y2="0"><stop offset="0.002" stop-color="#b93c28"/><stop offset="0.049" stop-color="#b93c28"/><stop offset="0.071" stop-color="#be3328"/><stop offset="0.186" stop-color="#a42824"/><stop offset="0.306" stop-color="#731f1a"/><stop offset="0.370" stop-color="#532212"/><stop offset="0.400" stop-color="#6b2916"/><stop offset="0.442" stop-color="#7a4619"/><stop offset="0.472" stop-color="#93611d"/><stop offset="0.506" stop-color="#a17320"/><stop offset="0.532" stop-color="#b38923"/><stop offset="0.562" stop-color="#ba9125"/><stop offset="0.609" stop-color="#bd8f26"/><stop offset="0.647" stop-color="#b78327"/><stop offset="0.682" stop-color="#b68027"/><stop offset="0.998" stop-color="#af7d28"/></linearGradient><linearGradient id="g168" gradientUnits="userSpaceOnUse" x1="277" x2="511" y1="0" y2="0"><stop offset="0.002" stop-color="#b93c28"/><stop offset="0.053" stop-color="#ba3b28"/><stop offset="0.071" stop-color="#bc3528"/><stop offset="0.194" stop-color="#a12b24"/><stop offset="0.306" stop-color="#77231b"/><stop offset="0.370" stop-color="#592513"/><stop offset="0.400" stop-color="#712c18"/><stop offset="0.447" stop-color="#854d1b"/><stop offset="0.472" stop-color="#97611e"/><stop offset="0.511" stop-color="#a37421"/><stop offset="0.536" stop-color="#b28523"/><stop offset="0.579" stop-color="#b78c26"/><stop offset="0.686" stop-color="#b58127"/><stop offset="0.998" stop-color="#af7d28"/></linearGradient><linearGradient id="g169" gradientUnits="userSpaceOnUse" x1="277" x2="511" y1="0" y2="0"><stop offset="0.002" stop-color="#b93c28"/><stop offset="0.071" stop-color="#ba3828"/><stop offset="0.203" stop-color="#9e2e24"/><stop offset="0.370" stop-color="#5f2814"/><stop offset="0.395" stop-color="#762c1a"/><stop offset="0.468" stop-color="#985f1f"/><stop offset="0.532" stop-color="#ad7d23"/><stop offset="0.592" stop-color="#b58827"/><stop offset="0.844" stop-color="#b07d28"/><stop offset="0.998" stop-color="#af7d28"/></linearGradient><linearGradient id="g170" gradientUnits="userSpaceOnUse" x1="277" x2="511" y1="0" y2="0"><stop offset="0.002" stop-color="#b93c28"/><stop offset="0.066" stop-color="#b93b28"/><stop offset="0.212" stop-color="#9c3224"/><stop offset="0.301" stop-color="#802b1e"/><stop offset="0.370" stop-color="#652b15"/><stop offset="0.395" stop-color="#7b2f1b"/><stop offset="0.464" stop-color="#995e1f"/><stop offset="0.528" stop-color="#ab7924"/><stop offset="0.596" stop-color="#b38527"/><stop offset="0.998" stop-color="#af7d28"/></linearGradient><linearGradient id="g171" gradientUnits="userSpaceOnUse" x1="277" x2="511" y1="0" y2="0"><stop offset="0.002" stop-color="#b93c28"/><stop offset="0.062" stop-color="#b93c28"/><stop offset="0.233" stop-color="#973423"/><stop offset="0.301" stop-color="#832f1f"/><stop offset="0.365" stop-color="#692f16"/><stop offset="0.374" stop-color="#6b3016"/><stop offset="0.400" stop-color="#81361d"/><stop offset="0.459" stop-color="#995e20"/><stop offset="0.524" stop-color="#aa7724"/><stop offset="0.588" stop-color="#b28328"/><stop offset="0.998" stop-color="#af7d28"/></linearGradient><linearGradient id="g172" gradientUnits="userSpaceOnUse" x1="277" x2="511" y1="0" y2="0"><stop offset="0.002" stop-color="#b93c28"/><stop offset="0.062" stop-color="#b93d28"/><stop offset="0.096" stop-color="#ae4228"/><stop offset="0.241" stop-color="#963823"/><stop offset="0.365" stop-color="#6d3217"/><stop offset="0.374" stop-color="#6f3417"/><stop offset="0.395" stop-color="#833a1d"/><stop offset="0.459" stop-color="#9b6021"/><stop offset="0.519" stop-color="#aa7625"/><stop offset="0.575" stop-color="#b18128"/><stop offset="0.998" stop-color="#af7d28"/></linearGradient><linearGradient id="g173" gradientUnits="userSpaceOnUse" x1="277" x2="511" y1="0" y2="0"><stop offset="0.002" stop-color="#b93c28"/><stop offset="0.062" stop-color="#b93d28"/><stop offset="0.092" stop-color="#ae4628"/><stop offset="0.237" stop-color="#983c24"/><stop offset="0.365" stop-color="#713518"/><stop offset="0.374" stop-color="#733718"/><stop offset="0.395" stop-color="#87401d"/><stop offset="0.459" stop-color="#9d6222"/><stop offset="0.528" stop-color="#ac7926"/><stop offset="0.566" stop-color="#b08028"/><stop offset="0.767" stop-color="#b48228"/><stop offset="0.797" stop-color="#af7d28"/><stop offset="0.998" stop-color="#af7d28"/></linearGradient><linearGradient id="g174" gradientUnits="userSpaceOnUse" x1="277" x2="511" y1="0" y2="0"><stop offset="0.002" stop-color="#b93c28"/><stop offset="0.053" stop-color="#b83d28"/><stop offset="0.075" stop-color="#b34728"/><stop offset="0.096" stop-color="#ad4a28"/><stop offset="0.241" stop-color="#984024"/><stop offset="0.365" stop-color="#753819"/><stop offset="0.400" stop-color="#8d481f"/><stop offset="0.468" stop-color="#a16723"/><stop offset="0.553" stop-color="#b07e28"/><stop offset="0.763" stop-color="#b48228"/><stop offset="0.797" stop-color="#af7d28"/><stop offset="0.998" stop-color="#af7d28"/></linearGradient><linearGradient id="g175" gradientUnits="userSpaceOnUse" x1="277" x2="511" y1="0" y2="0"><stop offset="0.002" stop-color="#b93c28"/><stop offset="0.045" stop-color="#b83d28"/><stop offset="0.071" stop-color="#af4c28"/><stop offset="0.100" stop-color="#ab4e28"/><stop offset="0.237" stop-color="#9a4425"/><stop offset="0.365" stop-color="#793c1a"/><stop offset="0.404" stop-color="#924f20"/><stop offset="0.459" stop-color="#a16523"/><stop offset="0.545" stop-color="#af7b28"/><stop offset="0.712" stop-color="#b48228"/><stop offset="0.998" stop-color="#af7d28"/></linearGradient><linearGradient id="g176" gradientUnits="userSpaceOnUse" x1="277" x2="511" y1="0" y2="0"><stop offset="0.002" stop-color="#b93c28"/><stop offset="0.036" stop-color="#b83e28"/><stop offset="0.062" stop-color="#ab4e28"/><stop offset="0.083" stop-color="#b04f28"/><stop offset="0.100" stop-color="#ab5128"/><stop offset="0.233" stop-color="#9c4825"/><stop offset="0.365" stop-color="#7e411b"/><stop offset="0.395" stop-color="#935020"/><stop offset="0.434" stop-color="#9e6023"/><stop offset="0.515" stop-color="#ac7627"/><stop offset="0.600" stop-color="#b38128"/><stop offset="0.998" stop-color="#af7d28"/></linearGradient><linearGradient id="g177" gradientUnits="userSpaceOnUse" x1="277" x2="511" y1="0" y2="0"><stop offset="0.002" stop-color="#b93c28"/><stop offset="0.028" stop-color="#b74028"/><stop offset="0.053" stop-color="#ab4f28"/><stop offset="0.083" stop-color="#b05228"/><stop offset="0.105" stop-color="#ab5428"/><stop offset="0.203" stop-color="#a14e26"/><stop offset="0.357" stop-color="#86481d"/><stop offset="0.429" stop-color="#9f6123"/><stop offset="0.532" stop-color="#ae7927"/><stop offset="0.596" stop-color="#b48228"/><stop offset="0.998" stop-color="#af7d28"/></linearGradient><linearGradient id="g178" gradientUnits="userSpaceOnUse" x1="277" x2="511" y1="0" y2="0"><stop offset="0.002" stop-color="#b74328"/><stop offset="0.041" stop-color="#ac5328"/><stop offset="0.105" stop-color="#ab5728"/><stop offset="0.344" stop-color="#8e4f1f"/><stop offset="0.459" stop-color="#a76a25"/><stop offset="0.506" stop-color="#ab7026"/><stop offset="0.532" stop-color="#af7c28"/><stop offset="0.596" stop-color="#b48228"/><stop offset="0.998" stop-color="#af7d28"/></linearGradient><linearGradient id="g179" gradientUnits="userSpaceOnUse" x1="277" x2="511" y1="0" y2="0"><stop offset="0.002" stop-color="#b25728"/><stop offset="0.032" stop-color="#af6028"/><stop offset="0.088" stop-color="#af5928"/><stop offset="0.241" stop-color="#9c5323"/><stop offset="0.331" stop-color="#965521"/><stop offset="0.421" stop-color="#9f5f24"/><stop offset="0.447" stop-color="#a86b26"/><stop offset="0.506" stop-color="#aa6e26"/><stop offset="0.532" stop-color="#af7d28"/><stop offset="0.596" stop-color="#b48228"/><stop offset="0.998" stop-color="#af7d28"/></linearGradient><linearGradient id="g180" gradientUnits="userSpaceOnUse" x1="277" x2="511" y1="0" y2="0"><stop offset="0.002" stop-color="#af6328"/><stop offset="0.058" stop-color="#af6428"/><stop offset="0.083" stop-color="#af5f28"/><stop offset="0.233" stop-color="#9f5823"/><stop offset="0.382" stop-color="#9c5b23"/><stop offset="0.421" stop-color="#9c5b23"/><stop offset="0.442" stop-color="#a96d26"/><stop offset="0.511" stop-color="#aa6e26"/><stop offset="0.536" stop-color="#af7d28"/><stop offset="0.596" stop-color="#b48228"/><stop offset="0.998" stop-color="#af7d28"/></linearGradient><linearGradient id="g181" gradientUnits="userSpaceOnUse" x1="277" x2="511" y1="0" y2="0"><stop offset="0.002" stop-color="#af6428"/><stop offset="0.083" stop-color="#af6228"/><stop offset="0.212" stop-color="#a25b24"/><stop offset="0.340" stop-color="#a05f23"/><stop offset="0.417" stop-color="#9b5a23"/><stop offset="0.425" stop-color="#9d5c23"/><stop offset="0.442" stop-color="#aa6e26"/><stop offset="0.515" stop-color="#aa6e26"/><stop offset="0.536" stop-color="#af7c28"/><stop offset="0.596" stop-color="#b48228"/><stop offset="0.998" stop-color="#af7d28"/></linearGradient><linearGradient id="g182" gradientUnits="userSpaceOnUse" x1="277" x2="511" y1="0" y2="0"><stop offset="0.002" stop-color="#af6428"/><stop offset="0.088" stop-color="#af6228"/><stop offset="0.212" stop-color="#a15b23"/><stop offset="0.340" stop-color="#a05f23"/><stop offset="0.417" stop-color="#9b5a23"/><stop offset="0.425" stop-color="#9d5c23"/><stop offset="0.442" stop-color="#aa6e26"/><stop offset="0.519" stop-color="#aa6e26"/><stop offset="0.541" stop-color="#af7c28"/><stop offset="0.596" stop-color="#b48228"/><stop offset="0.998" stop-color="#af7d28"/></linearGradient><linearGradient id="g183" gradientUnits="userSpaceOnUse" x1="277" x2="511" y1="0" y2="0"><stop offset="0.002" stop-color="#af6428"/><stop offset="0.173" stop-color="#aa5f26"/><stop offset="0.199" stop-color="#a05a23"/><stop offset="0.335" stop-color="#a05f23"/><stop offset="0.417" stop-color="#9b5a23"/><stop offset="0.425" stop-color="#9d5c23"/><stop offset="0.442" stop-color="#aa6e26"/><stop offset="0.524" stop-color="#aa6e26"/><stop offset="0.545" stop-color="#af7c28"/><stop offset="0.596" stop-color="#b48228"/><stop offset="0.998" stop-color="#af7d28"/></linearGradient><linearGradient id="g184" gradientUnits="userSpaceOnUse" x1="277" x2="511" y1="0" y2="0"><stop offset="0.002" stop-color="#af6428"/><stop offset="0.113" stop-color="#af6428"/><stop offset="0.173" stop-color="#aa5f26"/><stop offset="0.199" stop-color="#a05a23"/><stop offset="0.293" stop-color="#a05f23"/><stop offset="0.417" stop-color="#9b5a23"/><stop offset="0.425" stop-color="#9d5c23"/><stop offset="0.442" stop-color="#aa6e26"/><stop offset="0.528" stop-color="#aa6e26"/><stop offset="0.549" stop-color="#af7c28"/><stop offset="0.596" stop-color="#b48228"/><stop offset="0.998" stop-color="#af7d28"/></linearGradient><linearGradient id="g185" gradientUnits="userSpaceOnUse" x1="277" x2="511" y1="0" y2="0"><stop offset="0.002" stop-color="#af6428"/><stop offset="0.118" stop-color="#af6428"/><stop offset="0.173" stop-color="#aa5f26"/><stop offset="0.199" stop-color="#a05a23"/><stop offset="0.293" stop-color="#a05f23"/><stop offset="0.417" stop-color="#9b5a23"/><stop offset="0.425" stop-color="#9d5c23"/><stop offset="0.442" stop-color="#aa6e26"/><stop offset="0.532" stop-color="#aa6e26"/><stop offset="0.553" stop-color="#af7c28"/><stop offset="0.596" stop-color="#b48228"/><stop offset="0.998" stop-color="#af7d28"/></linearGradient><linearGradient id="g186" gradientUnits="userSpaceOnUse" x1="277" x2="511" y1="0" y2="0"><stop offset="0.002" stop-color="#af6428"/><stop offset="0.122" stop-color="#af6428"/><stop offset="0.173" stop-color="#aa5f26"/><stop offset="0.199" stop-color="#a05a23"/><stop offset="0.293" stop-color="#a05f23"/><stop offset="0.417" stop-color="#9b5a23"/><stop offset="0.425" stop-color="#9d5c23"/><stop offset="0.442" stop-color="#aa6e26"/><stop offset="0.536" stop-color="#aa6e26"/><stop offset="0.558" stop-color="#af7c28"/><stop offset="0.596" stop-color="#b48228"/><stop offset="0.998" stop-color="#af7d28"/></linearGradient><linearGradient id="g187" gradientUnits="userSpaceOnUse" x1="277" x2="511" y1="0" y2="0"><stop offset="0.002" stop-color="#af6428"/><stop offset="0.122" stop-color="#af6428"/><stop offset="0.173" stop-color="#aa5f26"/><stop offset="0.194" stop-color="#a05a23"/><stop offset="0.344" stop-color="#a05f23"/><stop offset="0.417" stop-color="#9b5a23"/><stop offset="0.425" stop-color="#9d5c23"/><stop offset="0.442" stop-color="#aa6e26"/><stop offset="0.541" stop-color="#aa6e26"/><stop offset="0.562" stop-color="#af7c28"/><stop offset="0.596" stop-color="#b48228"/><stop offset="0.998" stop-color="#af7d28"/></linearGradient><linearGradient id="g188" gradientUnits="userSpaceOnUse" x1="277" x2="511" y1="0" y2="0"><stop offset="0.002" stop-color="#af6428"/><stop offset="0.126" stop-color="#af6428"/><stop offset="0.173" stop-color="#aa5f26"/><stop offset="0.194" stop-color="#a05a23"/><stop offset="0.344" stop-color="#a05f23"/><stop offset="0.417" stop-color="#9b5a23"/><stop offset="0.425" stop-color="#9d5c23"/><stop offset="0.442" stop-color="#aa6e26"/><stop offset="0.545" stop-color="#aa6e26"/><stop offset="0.566" stop-color="#af7c28"/><stop offset="0.596" stop-color="#b48228"/><stop offset="0.998" stop-color="#af7d28"/></linearGradient><linearGradient id="g189" gradientUnits="userSpaceOnUse" x1="277" x2="511" y1="0" y2="0"><stop offset="0.002" stop-color="#af6428"/><stop offset="0.130" stop-color="#af6428"/><stop offset="0.177" stop-color="#a95e26"/><stop offset="0.194" stop-color="#a05a23"/><stop offset="0.348" stop-color="#a05f23"/><stop offset="0.417" stop-color="#9b5a23"/><stop offset="0.425" stop-color="#9d5c23"/><stop offset="0.442" stop-color="#aa6e26"/><stop offset="0.549" stop-color="#aa6e26"/><stop offset="0.571" stop-color="#af7c28"/><stop offset="0.596" stop-color="#b48228"/><stop offset="0.998" stop-color="#af7d28"/></linearGradient><linearGradient id="g190" gradientUnits="userSpaceOnUse" x1="277" x2="511" y1="0" y2="0"><stop offset="0.002" stop-color="#af6428"/><stop offset="0.135" stop-color="#af6428"/><stop offset="0.177" stop-color="#a95e26"/><stop offset="0.194" stop-color="#a05a23"/><stop offset="0.348" stop-color="#a05f23"/><stop offset="0.417" stop-color="#9b5a23"/><stop offset="0.425" stop-color="#9d5c23"/><stop offset="0.442" stop-color="#aa6e26"/><stop offset="0.553" stop-color="#aa6e26"/><stop offset="0.575" stop-color="#af7c28"/><stop offset="0.596" stop-color="#b48228"/><stop offset="0.998" stop-color="#af7d28"/></linearGradient><linearGradient id="g191" gradientUnits="userSpaceOnUse" x1="277" x2="511" y1="0" y2="0"><stop offset="0.002" stop-color="#af6428"/><stop offset="0.135" stop-color="#af6428"/><stop offset="0.177" stop-color="#a95e26"/><stop offset="0.194" stop-color="#a05a23"/><stop offset="0.348" stop-color="#a05f23"/><stop offset="0.417" stop-color="#9b5a23"/><stop offset="0.425" stop-color="#9d5c23"/><stop offset="0.442" stop-color="#aa6e26"/><stop offset="0.553" stop-color="#aa6e26"/><stop offset="0.575" stop-color="#af7c28"/><stop offset="0.596" stop-color="#b48228"/><stop offset="0.998" stop-color="#af7d28"/></linearGradient><clipPath id="c4"><polygon points="279.2,237.5 380.0,222.3 420.6,216.9 430.0,222.6 441.7,227.9 453.4,236.1 462.8,244.3 471.0,252.5 479.2,261.3 493.7,275.0 509.0,289.5 483.0,295.7 447.0,305.8 420.0,310.6 377.0,318.2 333.0,329.0 302.0,338.5"/></clipPath></defs><g clip-path="url(#c4)"><g filter="url(#bl)"><rect x="277" y="214" width="234" height="2.6" fill="url(#g128)"/><rect x="277" y="216" width="234" height="2.6" fill="url(#g129)"/><rect x="277" y="218" width="234" height="2.6" fill="url(#g130)"/><rect x="277" y="220" width="234" height="2.6" fill="url(#g131)"/><rect x="277" y="222" width="234" height="2.6" fill="url(#g132)"/><rect x="277" y="224" width="234" height="2.6" fill="url(#g133)"/><rect x="277" y="226" width="234" height="2.6" fill="url(#g134)"/><rect x="277" y="228" width="234" height="2.6" fill="url(#g135)"/><rect x="277" y="230" width="234" height="2.6" fill="url(#g136)"/><rect x="277" y="232" width="234" height="2.6" fill="url(#g137)"/><rect x="277" y="234" width="234" height="2.6" fill="url(#g138)"/><rect x="277" y="236" width="234" height="2.6" fill="url(#g139)"/><rect x="277" y="238" width="234" height="2.6" fill="url(#g140)"/><rect x="277" y="240" width="234" height="2.6" fill="url(#g141)"/><rect x="277" y="242" width="234" height="2.6" fill="url(#g142)"/><rect x="277" y="244" width="234" height="2.6" fill="url(#g143)"/><rect x="277" y="246" width="234" height="2.6" fill="url(#g144)"/><rect x="277" y="248" width="234" height="2.6" fill="url(#g145)"/><rect x="277" y="250" width="234" height="2.6" fill="url(#g146)"/><rect x="277" y="252" width="234" height="2.6" fill="url(#g147)"/><rect x="277" y="254" width="234" height="2.6" fill="url(#g148)"/><rect x="277" y="256" width="234" height="2.6" fill="url(#g149)"/><rect x="277" y="258" width="234" height="2.6" fill="url(#g150)"/><rect x="277" y="260" width="234" height="2.6" fill="url(#g151)"/><rect x="277" y="262" width="234" height="2.6" fill="url(#g152)"/><rect x="277" y="264" width="234" height="2.6" fill="url(#g153)"/><rect x="277" y="266" width="234" height="2.6" fill="url(#g154)"/><rect x="277" y="268" width="234" height="2.6" fill="url(#g155)"/><rect x="277" y="270" width="234" height="2.6" fill="url(#g156)"/><rect x="277" y="272" width="234" height="2.6" fill="url(#g157)"/><rect x="277" y="274" width="234" height="2.6" fill="url(#g158)"/><rect x="277" y="276" width="234" height="2.6" fill="url(#g159)"/><rect x="277" y="278" width="234" height="2.6" fill="url(#g160)"/><rect x="277" y="280" width="234" height="2.6" fill="url(#g161)"/><rect x="277" y="282" width="234" height="2.6" fill="url(#g162)"/><rect x="277" y="284" width="234" height="2.6" fill="url(#g163)"/><rect x="277" y="286" width="234" height="2.6" fill="url(#g164)"/><rect x="277" y="288" width="234" height="2.6" fill="url(#g165)"/><rect x="277" y="290" width="234" height="2.6" fill="url(#g166)"/><rect x="277" y="292" width="234" height="2.6" fill="url(#g167)"/><rect x="277" y="294" width="234" height="2.6" fill="url(#g168)"/><rect x="277" y="296" width="234" height="2.6" fill="url(#g169)"/><rect x="277" y="298" width="234" height="2.6" fill="url(#g170)"/><rect x="277" y="300" width="234" height="2.6" fill="url(#g171)"/><rect x="277" y="302" width="234" height="2.6" fill="url(#g172)"/><rect x="277" y="304" width="234" height="2.6" fill="url(#g173)"/><rect x="277" y="306" width="234" height="2.6" fill="url(#g174)"/><rect x="277" y="308" width="234" height="2.6" fill="url(#g175)"/><rect x="277" y="310" width="234" height="2.6" fill="url(#g176)"/><rect x="277" y="312" width="234" height="2.6" fill="url(#g177)"/><rect x="277" y="314" width="234" height="2.6" fill="url(#g178)"/><rect x="277" y="316" width="234" height="2.6" fill="url(#g179)"/><rect x="277" y="318" width="234" height="2.6" fill="url(#g180)"/><rect x="277" y="320" width="234" height="2.6" fill="url(#g181)"/><rect x="277" y="322" width="234" height="2.6" fill="url(#g182)"/><rect x="277" y="324" width="234" height="2.6" fill="url(#g183)"/><rect x="277" y="326" width="234" height="2.6" fill="url(#g184)"/><rect x="277" y="328" width="234" height="2.6" fill="url(#g185)"/><rect x="277" y="330" width="234" height="2.6" fill="url(#g186)"/><rect x="277" y="332" width="234" height="2.6" fill="url(#g187)"/><rect x="277" y="334" width="234" height="2.6" fill="url(#g188)"/><rect x="277" y="336" width="234" height="2.6" fill="url(#g189)"/><rect x="277" y="338" width="234" height="2.6" fill="url(#g190)"/><rect x="277" y="340" width="234" height="2.6" fill="url(#g191)"/></g></g><polyline points="279.2,237.5 302.0,338.5 333.0,329.0 377.0,318.2 420.0,310.6 447.0,305.8 483.0,295.7 509.0,289.5" fill="none" stroke="#f2dc8a" stroke-width="0.9" stroke-linejoin="round"/><polyline points="420.6,216.9 430.0,222.6 441.7,227.9 453.4,236.1 462.8,244.3 471.0,252.5 479.2,261.3 493.7,275.0 509.0,289.5" fill="none" stroke="#4a2010" stroke-width="0.8" stroke-opacity="0.75" stroke-linejoin="round"/><g font-family="Liberation Sans, sans-serif" font-size="5.3" fill="#383838"><polyline points="31.5,43.0 63.4,192.8 261.8,139.8" fill="none" stroke="#8a8a8a" stroke-width="0.8"/><text x="37.0" y="89.0" text-anchor="end" transform="rotate(-12 37.0 87.4)">8000</text><text x="39.0" y="98.0" text-anchor="end" transform="rotate(-12 39.0 96.4)">6000</text><text x="40.8" y="107.2" text-anchor="end" transform="rotate(-12 40.8 105.6)">4000</text><text x="42.6" y="117.1" text-anchor="end" transform="rotate(-12 42.6 115.5)">2000</text><text x="44.3" y="127.1" text-anchor="end" transform="rotate(-12 44.3 125.5)">0</text><text x="47.3" y="141.2" text-anchor="end" transform="rotate(-12 47.3 139.6)">-2000</text><text x="50.3" y="154.8" text-anchor="end" transform="rotate(-12 50.3 153.2)">-4000</text><text x="53.8" y="169.6" text-anchor="end" transform="rotate(-12 53.8 168.0)">-6000</text><text x="57.8" y="187.6" text-anchor="end" transform="rotate(-12 57.8 186.0)">-8000</text><text x="77.4" y="196.5" text-anchor="middle" transform="rotate(-13 77.4 194.2)">-8000</text><text x="104.8" y="189.1" text-anchor="middle" transform="rotate(-13 104.8 186.8)">-6000</text><text x="129.3" y="182.3" text-anchor="middle" transform="rotate(-13 129.3 180.0)">-4000</text><text x="152.0" y="176.0" text-anchor="middle" transform="rotate(-13 152.0 173.7)">-2000</text><text x="174.3" y="170.6" text-anchor="middle" transform="rotate(-13 174.3 168.3)">0</text><text x="197.0" y="165.0" text-anchor="middle" transform="rotate(-13 197.0 162.7)">2000</text><text x="217.5" y="158.5" text-anchor="middle" transform="rotate(-13 217.5 156.2)">4000</text><text x="237.3" y="153.3" text-anchor="middle" transform="rotate(-13 237.3 151.0)">6000</text><text x="257.2" y="148.0" text-anchor="middle" transform="rotate(-13 257.2 145.7)">8000</text><path d="M39.2 87.4h1.8M41.1 96.4h1.8M43.0 105.6h1.8M45.1 115.5h1.8M47.3 125.5h1.8M50.3 139.6h1.8M53.2 153.2h1.8M56.3 168.0h1.8M60.2 186.0h1.8M77.4 189.1v-1.8M104.8 181.7v-1.8M129.3 175.2v-1.8M152.0 169.1v-1.8M174.3 163.2v-1.8M197.0 157.1v-1.8M217.5 151.6v-1.8M237.3 146.3v-1.8M257.2 141.0v-1.8" stroke="#8a8a8a" stroke-width="0.6" fill="none"/><polyline points="273.5,43.0 305.4,192.8 503.8,139.8" fill="none" stroke="#8a8a8a" stroke-width="0.8"/><text x="279.0" y="89.0" text-anchor="end" transform="rotate(-12 279.0 87.4)">8000</text><text x="281.0" y="98.0" text-anchor="end" transform="rotate(-12 281.0 96.4)">6000</text><text x="282.8" y="107.2" text-anchor="end" transform="rotate(-12 282.8 105.6)">4000</text><text x="284.6" y="117.1" text-anchor="end" transform="rotate(-12 284.6 115.5)">2000</text><text x="286.3" y="127.1" text-anchor="end" transform="rotate(-12 286.3 125.5)">0</text><text x="289.3" y="141.2" text-anchor="end" transform="rotate(-12 289.3 139.6)">-2000</text><text x="292.3" y="154.8" text-anchor="end" transform="rotate(-12 292.3 153.2)">-4000</text><text x="295.8" y="169.6" text-anchor="end" transform="rotate(-12 295.8 168.0)">-6000</text><text x="299.8" y="187.6" text-anchor="end" transform="rotate(-12 299.8 186.0)">-8000</text><text x="319.4" y="196.5" text-anchor="middle" transform="rotate(-13 319.4 194.2)">-8000</text><text x="346.8" y="189.1" text-anchor="middle" transform="rotate(-13 346.8 186.8)">-6000</text><text x="371.3" y="182.3" text-anchor="middle" transform="rotate(-13 371.3 180.0)">-4000</text><text x="394.0" y="176.0" text-anchor="middle" transform="rotate(-13 394.0 173.7)">-2000</text><text x="416.3" y="170.6" text-anchor="middle" transform="rotate(-13 416.3 168.3)">0</text><text x="439.0" y="165.0" text-anchor="middle" transform="rotate(-13 439.0 162.7)">2000</text><text x="459.5" y="158.5" text-anchor="middle" transform="rotate(-13 459.5 156.2)">4000</text><text x="479.3" y="153.3" text-anchor="middle" transform="rotate(-13 479.3 151.0)">6000</text><text x="499.2" y="148.0" text-anchor="middle" transform="rotate(-13 499.2 145.7)">8000</text><path d="M281.2 87.4h1.8M283.1 96.4h1.8M285.0 105.6h1.8M287.1 115.5h1.8M289.3 125.5h1.8M292.3 139.6h1.8M295.2 153.2h1.8M298.3 168.0h1.8M302.2 186.0h1.8M319.4 189.1v-1.8M346.8 181.7v-1.8M371.3 175.2v-1.8M394.0 169.1v-1.8M416.3 163.2v-1.8M439.0 157.1v-1.8M459.5 151.6v-1.8M479.3 146.3v-1.8M499.2 141.0v-1.8" stroke="#8a8a8a" stroke-width="0.6" fill="none"/><polyline points="31.5,218.5 63.4,368.3 261.8,315.3" fill="none" stroke="#8a8a8a" stroke-width="0.8"/><text x="37.0" y="264.5" text-anchor="end" transform="rotate(-12 37.0 262.9)">8000</text><text x="39.0" y="273.5" text-anchor="end" transform="rotate(-12 39.0 271.9)">6000</text><text x="40.8" y="282.7" text-anchor="end" transform="rotate(-12 40.8 281.1)">4000</text><text x="42.6" y="292.6" text-anchor="end" transform="rotate(-12 42.6 291.0)">2000</text><text x="44.3" y="302.6" text-anchor="end" transform="rotate(-12 44.3 301.0)">0</text><text x="47.3" y="316.7" text-anchor="end" transform="rotate(-12 47.3 315.1)">-2000</text><text x="50.3" y="330.3" text-anchor="end" transform="rotate(-12 50.3 328.7)">-4000</text><text x="53.8" y="345.1" text-anchor="end" transform="rotate(-12 53.8 343.5)">-6000</text><text x="57.8" y="363.1" text-anchor="end" transform="rotate(-12 57.8 361.5)">-8000</text><text x="77.4" y="372.0" text-anchor="middle" transform="rotate(-13 77.4 369.7)">-8000</text><text x="104.8" y="364.6" text-anchor="middle" transform="rotate(-13 104.8 362.3)">-6000</text><text x="129.3" y="357.8" text-anchor="middle" transform="rotate(-13 129.3 355.5)">-4000</text><text x="152.0" y="351.5" text-anchor="middle" transform="rotate(-13 152.0 349.2)">-2000</text><text x="174.3" y="346.1" text-anchor="middle" transform="rotate(-13 174.3 343.8)">0</text><text x="197.0" y="340.5" text-anchor="middle" transform="rotate(-13 197.0 338.2)">2000</text><text x="217.5" y="334.0" text-anchor="middle" transform="rotate(-13 217.5 331.7)">4000</text><text x="237.3" y="328.8" text-anchor="middle" transform="rotate(-13 237.3 326.5)">6000</text><text x="257.2" y="323.5" text-anchor="middle" transform="rotate(-13 257.2 321.2)">8000</text><path d="M39.2 262.9h1.8M41.1 271.9h1.8M43.0 281.1h1.8M45.1 291.0h1.8M47.3 301.0h1.8M50.3 315.1h1.8M53.2 328.7h1.8M56.3 343.5h1.8M60.2 361.5h1.8M77.4 364.6v-1.8M104.8 357.2v-1.8M129.3 350.7v-1.8M152.0 344.6v-1.8M174.3 338.7v-1.8M197.0 332.6v-1.8M217.5 327.1v-1.8M237.3 321.8v-1.8M257.2 316.5v-1.8" stroke="#8a8a8a" stroke-width="0.6" fill="none"/><polyline points="274.5,218.5 306.4,368.3 504.8,315.3" fill="none" stroke="#8a8a8a" stroke-width="0.8"/><text x="280.0" y="264.5" text-anchor="end" transform="rotate(-12 280.0 262.9)">8000</text><text x="282.0" y="273.5" text-anchor="end" transform="rotate(-12 282.0 271.9)">6000</text><text x="283.8" y="282.7" text-anchor="end" transform="rotate(-12 283.8 281.1)">4000</text><text x="285.6" y="292.6" text-anchor="end" transform="rotate(-12 285.6 291.0)">2000</text><text x="287.3" y="302.6" text-anchor="end" transform="rotate(-12 287.3 301.0)">0</text><text x="290.3" y="316.7" text-anchor="end" transform="rotate(-12 290.3 315.1)">-2000</text><text x="293.3" y="330.3" text-anchor="end" transform="rotate(-12 293.3 328.7)">-4000</text><text x="296.8" y="345.1" text-anchor="end" transform="rotate(-12 296.8 343.5)">-6000</text><text x="300.8" y="363.1" text-anchor="end" transform="rotate(-12 300.8 361.5)">-8000</text><text x="320.4" y="372.0" text-anchor="middle" transform="rotate(-13 320.4 369.7)">-8000</text><text x="347.8" y="364.6" text-anchor="middle" transform="rotate(-13 347.8 362.3)">-6000</text><text x="372.3" y="357.8" text-anchor="middle" transform="rotate(-13 372.3 355.5)">-4000</text><text x="395.0" y="351.5" text-anchor="middle" transform="rotate(-13 395.0 349.2)">-2000</text><text x="417.3" y="346.1" text-anchor="middle" transform="rotate(-13 417.3 343.8)">0</text><text x="440.0" y="340.5" text-anchor="middle" transform="rotate(-13 440.0 338.2)">2000</text><text x="460.5" y="334.0" text-anchor="middle" transform="rotate(-13 460.5 331.7)">4000</text><text x="480.3" y="328.8" text-anchor="middle" transform="rotate(-13 480.3 326.5)">6000</text><text x="500.2" y="323.5" text-anchor="middle" transform="rotate(-13 500.2 321.2)">8000</text><path d="M282.2 262.9h1.8M284.1 271.9h1.8M286.0 281.1h1.8M288.1 291.0h1.8M290.3 301.0h1.8M293.3 315.1h1.8M296.2 328.7h1.8M299.3 343.5h1.8M303.2 361.5h1.8M320.4 364.6v-1.8M347.8 357.2v-1.8M372.3 350.7v-1.8M395.0 344.6v-1.8M417.3 338.7v-1.8M440.0 332.6v-1.8M460.5 327.1v-1.8M480.3 321.8v-1.8M500.2 316.5v-1.8" stroke="#8a8a8a" stroke-width="0.6" fill="none"/></g><defs><linearGradient id="cb0" x1="0" y1="0" x2="0" y2="1"><stop offset="0.000" stop-color="#cd1e28"/><stop offset="0.016" stop-color="#da2028"/><stop offset="0.198" stop-color="#de2326"/><stop offset="0.238" stop-color="#e23e23"/><stop offset="0.281" stop-color="#eb781e"/><stop offset="0.321" stop-color="#f0af19"/><stop offset="0.362" stop-color="#f0e114"/><stop offset="0.398" stop-color="#d7e119"/><stop offset="0.438" stop-color="#96c82d"/><stop offset="0.476" stop-color="#5ab43c"/><stop offset="0.596" stop-color="#32a546"/><stop offset="0.635" stop-color="#289646"/><stop offset="0.666" stop-color="#19643c"/><stop offset="0.692" stop-color="#1e3c5a"/><stop offset="0.714" stop-color="#283273"/><stop offset="0.855" stop-color="#37378c"/><stop offset="1.000" stop-color="#412d91"/></linearGradient></defs><rect x="515.0" y="56.9" width="8.7" height="132.3" fill="url(#cb0)"/><path d="M523.7 62.2h1.6M523.7 67.5h1.6M523.7 72.8h1.6M523.7 78.0h1.6M523.7 83.2h1.6M523.7 88.5h1.6M523.7 93.8h1.6M523.7 99.1h1.6M523.7 104.4h1.6M523.7 114.8h1.6M523.7 120.0h1.6M523.7 125.2h1.6M523.7 130.5h1.6M523.7 135.8h1.6M523.7 141.0h1.6M523.7 146.2h1.6M523.7 151.4h1.6M523.7 156.6h1.6M523.7 162.0h1.6M523.7 167.4h1.6M523.7 172.7h1.6M523.7 178.0h1.6M523.7 183.3h1.6M523.7 188.6h1.6" stroke="#444" stroke-width="0.6"/><g font-family="Liberation Sans, sans-serif" font-size="4.7" fill="#222"><text x="525.9" y="64.0">0.9</text><text x="525.9" y="69.3">0.8</text><text x="525.9" y="74.6">0.7</text><text x="525.9" y="79.8">0.6</text><text x="525.9" y="85.0">0.5</text><text x="525.9" y="90.3">0.4</text><text x="525.9" y="95.6">0.3</text><text x="525.9" y="100.9">0.2</text><text x="525.9" y="106.2">0.1</text><text x="525.9" y="116.6">-0.1</text><text x="525.9" y="121.8">-0.2</text><text x="525.9" y="127.0">-0.3</text><text x="525.9" y="132.3">-0.4</text><text x="525.9" y="137.6">-0.5</text><text x="525.9" y="142.8">-0.6</text><text x="525.9" y="148.0">-0.7</text><text x="525.9" y="153.2">-0.8</text><text x="525.9" y="158.4">-0.9</text><text x="525.9" y="163.8">-1</text><text x="525.9" y="169.2">-1.1</text><text x="525.9" y="174.5">-1.2</text><text x="525.9" y="179.8">-1.3</text><text x="525.9" y="185.1">-1.4</text><text x="525.9" y="190.4">-1.5</text></g><defs><linearGradient id="cb179" x1="0" y1="0" x2="0" y2="1"><stop offset="0.000" stop-color="#cd1e28"/><stop offset="0.016" stop-color="#da2028"/><stop offset="0.198" stop-color="#de2326"/><stop offset="0.238" stop-color="#e23e23"/><stop offset="0.281" stop-color="#eb781e"/><stop offset="0.321" stop-color="#f0af19"/><stop offset="0.362" stop-color="#f0e114"/><stop offset="0.398" stop-color="#d7e119"/><stop offset="0.438" stop-color="#96c82d"/><stop offset="0.476" stop-color="#5ab43c"/><stop offset="0.596" stop-color="#32a546"/><stop offset="0.635" stop-color="#289646"/><stop offset="0.666" stop-color="#19643c"/><stop offset="0.692" stop-color="#1e3c5a"/><stop offset="0.714" stop-color="#283273"/><stop offset="0.855" stop-color="#37378c"/><stop offset="1.000" stop-color="#412d91"/></linearGradient></defs><rect x="515.0" y="235.9" width="8.7" height="132.3" fill="url(#cb179)"/><path d="M523.7 241.2h1.6M523.7 246.5h1.6M523.7 251.8h1.6M523.7 257.0h1.6M523.7 262.2h1.6M523.7 267.5h1.6M523.7 272.8h1.6M523.7 278.1h1.6M523.7 283.4h1.6M523.7 293.8h1.6M523.7 299.0h1.6M523.7 304.2h1.6M523.7 309.5h1.6M523.7 314.8h1.6M523.7 320.0h1.6M523.7 325.2h1.6M523.7 330.4h1.6M523.7 335.6h1.6M523.7 341.0h1.6M523.7 346.4h1.6M523.7 351.7h1.6M523.7 357.0h1.6M523.7 362.3h1.6M523.7 367.6h1.6" stroke="#444" stroke-width="0.6"/><g font-family="Liberation Sans, sans-serif" font-size="4.7" fill="#222"><text x="525.9" y="243.0">0.9</text><text x="525.9" y="248.3">0.8</text><text x="525.9" y="253.6">0.7</text><text x="525.9" y="258.8">0.6</text><text x="525.9" y="264.0">0.5</text><text x="525.9" y="269.3">0.4</text><text x="525.9" y="274.6">0.3</text><text x="525.9" y="279.9">0.2</text><text x="525.9" y="285.2">0.1</text><text x="525.9" y="295.6">-0.1</text><text x="525.9" y="300.8">-0.2</text><text x="525.9" y="306.0">-0.3</text><text x="525.9" y="311.3">-0.4</text><text x="525.9" y="316.6">-0.5</text><text x="525.9" y="321.8">-0.6</text><text x="525.9" y="327.0">-0.7</text><text x="525.9" y="332.2">-0.8</text><text x="525.9" y="337.4">-0.9</text><text x="525.9" y="342.8">-1</text><text x="525.9" y="348.2">-1.1</text><text x="525.9" y="353.5">-1.2</text><text x="525.9" y="358.8">-1.3</text><text x="525.9" y="364.1">-1.4</text><text x="525.9" y="369.4">-1.5</text></g></svg>
</body></html>
